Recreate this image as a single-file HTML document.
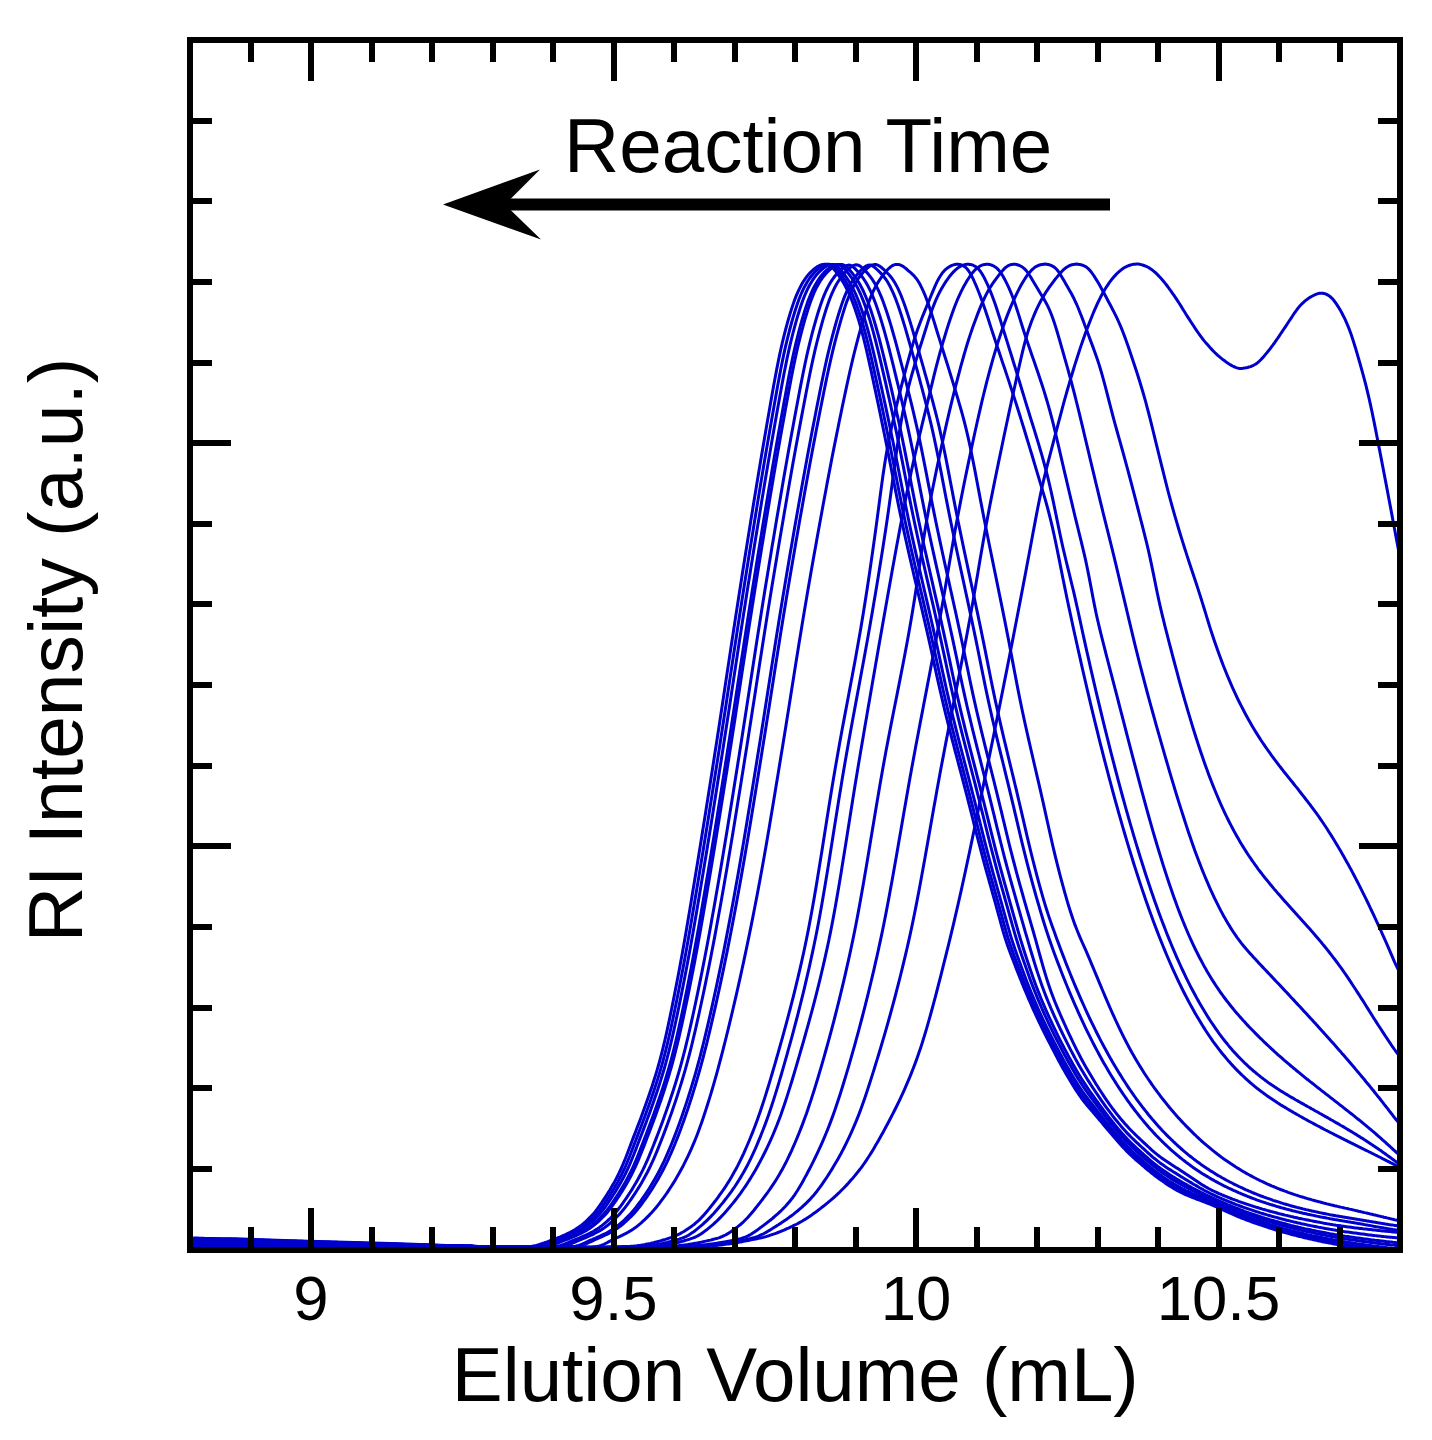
<!DOCTYPE html>
<html lang="en"><head><meta charset="utf-8"><title>GPC traces</title>
<style>html,body{margin:0;padding:0;background:#fff}body{width:1432px;height:1440px;overflow:hidden;font-family:"Liberation Sans",sans-serif}</style></head>
<body>
<svg width="1432" height="1440" viewBox="0 0 1432 1440" style="display:block">
<rect width="100%" height="100%" fill="#fff"/>
<defs><clipPath id="c"><rect x="193" y="43" width="1204" height="1204.5"/></clipPath></defs>
<g clip-path="url(#c)" fill="none" stroke="#0000cd" stroke-width="3" stroke-linejoin="round">
<path d="M193,1237.3 L236,1237.3 L300,1239.5 L400,1242.3 L460,1244.6 L545,1247 L193,1247 Z" fill="#0000cd" stroke="none"/>
<path d="M193.0,1238.0 L194.5,1238.1 L196.0,1238.1 L197.5,1238.1 L199.0,1238.2 L200.5,1238.2 L202.0,1238.3 L203.5,1238.3 L205.0,1238.4 L206.5,1238.4 L208.0,1238.5 L209.5,1238.5 L211.0,1238.5 L212.5,1238.6 L214.0,1238.6 L215.5,1238.7 L217.0,1238.7 L218.5,1238.8 L220.0,1238.8 L221.5,1238.9 L223.0,1238.9 L224.5,1239.0 L226.0,1239.0 L227.5,1239.0 L229.0,1239.1 L230.5,1239.1 L232.0,1239.2 L233.5,1239.2 L235.0,1239.3 L236.5,1239.3 L238.0,1239.4 L239.5,1239.4 L241.0,1239.5 L242.5,1239.5 L244.0,1239.5 L245.5,1239.6 L247.0,1239.6 L248.5,1239.7 L250.0,1239.7 L251.5,1239.8 L253.0,1239.8 L254.5,1239.9 L256.0,1239.9 L257.5,1240.0 L259.0,1240.0 L260.5,1240.0 L262.0,1240.1 L263.5,1240.1 L265.0,1240.2 L266.5,1240.2 L268.0,1240.3 L269.5,1240.3 L271.0,1240.4 L272.5,1240.4 L274.0,1240.5 L275.5,1240.5 L277.0,1240.5 L278.5,1240.6 L280.0,1240.6 L281.5,1240.7 L283.0,1240.7 L284.5,1240.8 L286.0,1240.8 L287.5,1240.9 L289.0,1240.9 L290.5,1240.9 L292.0,1241.0 L293.5,1241.0 L295.0,1241.1 L296.5,1241.1 L298.0,1241.2 L299.5,1241.2 L301.0,1241.3 L302.5,1241.3 L304.0,1241.4 L305.5,1241.4 L307.0,1241.4 L308.5,1241.5 L310.0,1241.5 L311.5,1241.6 L313.0,1241.6 L314.5,1241.7 L316.0,1241.7 L317.5,1241.8 L319.0,1241.8 L320.5,1241.8 L322.0,1241.9 L323.5,1241.9 L325.0,1242.0 L326.5,1242.0 L328.0,1242.1 L329.5,1242.1 L331.0,1242.2 L332.5,1242.2 L334.0,1242.3 L335.5,1242.3 L337.0,1242.3 L338.5,1242.4 L340.0,1242.4 L341.5,1242.5 L343.0,1242.5 L344.5,1242.6 L346.0,1242.6 L347.5,1242.7 L349.0,1242.7 L350.5,1242.7 L352.0,1242.8 L353.5,1242.8 L355.0,1242.9 L356.5,1242.9 L358.0,1243.0 L359.5,1243.0 L361.0,1243.1 L362.5,1243.1 L364.0,1243.2 L365.5,1243.2 L367.0,1243.2 L368.5,1243.3 L370.0,1243.3 L371.5,1243.4 L373.0,1243.4 L374.5,1243.5 L376.0,1243.5 L377.5,1243.6 L379.0,1243.6 L380.5,1243.6 L382.0,1243.7 L383.5,1243.7 L385.0,1243.8 L386.5,1243.8 L388.0,1243.9 L389.5,1243.9 L391.0,1244.0 L392.5,1244.0 L394.0,1244.0 L395.5,1244.1 L397.0,1244.1 L398.5,1244.2 L400.0,1244.2 L401.5,1244.3 L403.0,1244.3 L404.5,1244.4 L406.0,1244.4 L407.5,1244.4 L409.0,1244.5 L410.5,1244.5 L412.0,1244.6 L413.5,1244.6 L415.0,1244.7 L416.5,1244.7 L418.0,1244.8 L419.5,1244.8 L421.0,1244.8 L422.5,1244.9 L424.0,1244.9 L425.5,1245.0 L427.0,1245.0 L428.5,1245.1 L430.0,1245.1 L431.5,1245.2 L433.0,1245.2 L434.5,1245.2 L436.0,1245.3 L437.5,1245.3 L439.0,1245.4 L440.5,1245.4 L442.0,1245.5 L443.5,1245.5 L445.0,1245.6 L446.5,1245.6 L448.0,1245.6 L449.5,1245.7 L451.0,1245.7 L452.5,1245.8 L454.0,1245.8 L455.5,1245.9 L457.0,1245.9 L458.5,1246.0 L460.0,1246.0 L461.5,1246.0 L463.0,1246.1 L464.5,1246.1 L466.0,1246.2 L467.5,1246.2 L469.0,1246.3 L470.5,1246.3 L472.0,1246.4 L473.5,1246.4 L475.0,1246.5 L476.5,1246.5 L478.0,1246.6 L479.5,1246.6 L481.0,1246.7 L482.5,1246.8 L484.0,1246.8 L485.5,1246.9 L487.0,1246.9 L488.5,1247.0 L490.0,1247.0 L491.5,1247.1 L493.0,1247.1 L494.5,1247.2 L496.0,1247.2 L497.5,1247.2 L499.0,1247.2 L500.5,1247.3 L502.0,1247.3 L503.5,1247.3 L505.0,1247.3 L506.5,1247.3 L508.0,1247.3 L509.5,1247.3 L511.0,1247.2 L512.5,1247.2 L514.0,1247.2 L515.5,1247.2 L517.0,1247.1 L518.5,1247.1 L520.0,1247.0 L521.5,1247.0 L523.0,1246.9 L524.5,1246.9 L526.0,1246.8 L527.5,1246.7 L529.0,1246.6 L530.5,1246.5 L532.0,1246.3 L533.5,1246.0 L535.0,1245.7 L536.5,1245.4 L538.0,1244.9 L539.5,1244.5 L541.0,1244.0 L542.5,1243.5 L544.0,1243.0 L545.5,1242.4 L547.0,1241.9 L548.5,1241.3 L550.0,1240.7 L551.5,1240.2 L553.0,1239.6 L554.5,1239.1 L556.0,1238.5 L557.5,1238.0 L559.0,1237.4 L560.5,1236.8 L562.0,1236.1 L563.5,1235.5 L565.0,1234.8 L566.5,1234.1 L568.0,1233.4 L569.5,1232.7 L571.0,1231.9 L572.5,1231.1 L574.0,1230.2 L575.5,1229.3 L577.0,1228.3 L578.5,1227.3 L580.0,1226.2 L581.5,1225.1 L583.0,1223.9 L584.5,1222.6 L586.0,1221.3 L587.5,1219.9 L589.0,1218.4 L590.5,1216.9 L592.0,1215.3 L593.5,1213.7 L595.0,1211.9 L596.5,1210.0 L598.0,1207.9 L599.5,1205.8 L601.0,1203.7 L602.5,1201.4 L604.0,1199.2 L605.5,1196.9 L607.0,1194.5 L608.5,1192.1 L610.0,1189.7 L611.5,1187.1 L613.0,1184.5 L614.5,1181.9 L616.0,1179.1 L617.5,1176.2 L619.0,1173.2 L620.5,1170.0 L622.0,1166.7 L623.5,1163.2 L625.0,1159.5 L626.5,1155.7 L628.0,1151.8 L629.5,1147.8 L631.0,1143.8 L632.5,1139.8 L634.0,1135.9 L635.5,1132.0 L637.0,1128.0 L638.5,1124.1 L640.0,1120.2 L641.5,1116.2 L643.0,1112.1 L644.5,1108.0 L646.0,1103.8 L647.5,1099.6 L649.0,1095.2 L650.5,1090.8 L652.0,1086.4 L653.5,1081.8 L655.0,1077.0 L656.5,1072.1 L658.0,1067.0 L659.5,1061.6 L661.0,1056.0 L662.5,1050.1 L664.0,1043.9 L665.5,1037.5 L667.0,1030.8 L668.5,1023.9 L670.0,1016.8 L671.5,1009.5 L673.0,1002.1 L674.5,994.5 L676.0,986.8 L677.5,979.1 L679.0,971.2 L680.5,963.1 L682.0,954.9 L683.5,946.5 L685.0,937.9 L686.5,929.2 L688.0,920.3 L689.5,911.4 L691.0,902.4 L692.5,893.3 L694.0,884.2 L695.5,875.1 L697.0,865.9 L698.5,856.7 L700.0,847.5 L701.5,838.2 L703.0,828.8 L704.5,819.5 L706.0,810.0 L707.5,800.5 L709.0,791.0 L710.5,781.5 L712.0,771.9 L713.5,762.3 L715.0,752.6 L716.5,742.9 L718.0,733.2 L719.5,723.4 L721.0,713.6 L722.5,703.7 L724.0,693.7 L725.5,683.8 L727.0,673.8 L728.5,663.9 L730.0,653.9 L731.5,644.0 L733.0,634.2 L734.5,624.4 L736.0,614.6 L737.5,604.9 L739.0,595.3 L740.5,585.7 L742.0,576.1 L743.5,566.6 L745.0,557.1 L746.5,547.7 L748.0,538.3 L749.5,528.9 L751.0,519.6 L752.5,510.4 L754.0,501.1 L755.5,491.9 L757.0,482.8 L758.5,473.7 L760.0,464.7 L761.5,455.7 L763.0,446.9 L764.5,438.2 L766.0,429.5 L767.5,420.8 L769.0,412.2 L770.5,403.6 L772.0,395.0 L773.5,386.6 L775.0,378.4 L776.5,370.4 L778.0,362.7 L779.5,355.4 L781.0,348.5 L782.5,342.0 L784.0,335.8 L785.5,330.0 L787.0,324.4 L788.5,319.0 L790.0,313.9 L791.5,309.1 L793.0,304.6 L794.5,300.3 L796.0,296.4 L797.5,292.8 L799.0,289.6 L800.5,286.6 L802.0,283.8 L803.5,281.3 L805.0,279.1 L806.5,277.0 L808.0,275.1 L809.5,273.4 L811.0,271.9 L812.5,270.5 L814.0,269.2 L815.5,268.0 L817.0,266.9 L818.5,266.0 L820.0,265.3 L821.5,264.7 L823.0,264.4 L824.5,264.2 L826.0,264.3 L827.5,264.5 L829.0,265.1 L830.5,266.0 L832.0,267.2 L833.5,268.7 L835.0,270.5 L836.5,272.4 L838.0,274.5 L839.5,276.7 L841.0,278.9 L842.5,281.3 L844.0,283.8 L845.5,286.5 L847.0,289.4 L848.5,292.5 L850.0,295.9 L851.5,299.5 L853.0,303.4 L854.5,307.5 L856.0,311.9 L857.5,316.5 L859.0,321.4 L860.5,326.6 L862.0,332.0 L863.5,337.8 L865.0,343.9 L866.5,350.2 L868.0,356.8 L869.5,363.6 L871.0,370.4 L872.5,377.4 L874.0,384.4 L875.5,391.4 L877.0,398.5 L878.5,405.6 L880.0,412.8 L881.5,420.1 L883.0,427.4 L884.5,434.8 L886.0,442.3 L887.5,449.8 L889.0,457.4 L890.5,465.0 L892.0,472.7 L893.5,480.3 L895.0,487.9 L896.5,495.4 L898.0,502.9 L899.5,510.2 L901.0,517.4 L902.5,524.4 L904.0,531.4 L905.5,538.2 L907.0,544.9 L908.5,551.6 L910.0,558.1 L911.5,564.7 L913.0,571.1 L914.5,577.6 L916.0,584.0 L917.5,590.4 L919.0,596.8 L920.5,603.2 L922.0,609.6 L923.5,616.1 L925.0,622.6 L926.5,629.1 L928.0,635.7 L929.5,642.4 L931.0,649.2 L932.5,656.0 L934.0,662.9 L935.5,669.8 L937.0,676.6 L938.5,683.3 L940.0,690.0 L941.5,696.5 L943.0,702.9 L944.5,709.2 L946.0,715.3 L947.5,721.3 L949.0,727.3 L950.5,733.2 L952.0,739.0 L953.5,744.7 L955.0,750.5 L956.5,756.2 L958.0,761.9 L959.5,767.5 L961.0,773.2 L962.5,778.9 L964.0,784.6 L965.5,790.4 L967.0,796.2 L968.5,802.1 L970.0,808.0 L971.5,813.9 L973.0,819.8 L974.5,825.8 L976.0,831.7 L977.5,837.6 L979.0,843.4 L980.5,849.2 L982.0,854.9 L983.5,860.5 L985.0,866.1 L986.5,871.5 L988.0,876.9 L989.5,882.3 L991.0,887.6 L992.5,893.0 L994.0,898.3 L995.5,903.7 L997.0,909.2 L998.5,914.7 L1000.0,920.2 L1001.5,925.7 L1003.0,931.0 L1004.5,936.0 L1006.0,940.8 L1007.5,945.2 L1009.0,949.5 L1010.5,953.5 L1012.0,957.4 L1013.5,961.3 L1015.0,965.2 L1016.5,969.1 L1018.0,972.9 L1019.5,976.8 L1021.0,980.5 L1022.5,984.2 L1024.0,987.9 L1025.5,991.5 L1027.0,995.0 L1028.5,998.6 L1030.0,1002.0 L1031.5,1005.4 L1033.0,1008.8 L1034.5,1012.1 L1036.0,1015.4 L1037.5,1018.6 L1039.0,1021.8 L1040.5,1024.9 L1042.0,1028.0 L1043.5,1031.0 L1045.0,1034.0 L1046.5,1037.0 L1048.0,1040.0 L1049.5,1042.9 L1051.0,1045.8 L1052.5,1048.8 L1054.0,1051.6 L1055.5,1054.5 L1057.0,1057.3 L1058.5,1060.2 L1060.0,1062.9 L1061.5,1065.7 L1063.0,1068.4 L1064.5,1071.1 L1066.0,1073.7 L1067.5,1076.3 L1069.0,1078.8 L1070.5,1081.3 L1072.0,1083.8 L1073.5,1086.2 L1075.0,1088.6 L1076.5,1090.9 L1078.0,1093.1 L1079.5,1095.3 L1081.0,1097.5 L1082.5,1099.5 L1084.0,1101.5 L1085.5,1103.4 L1087.0,1105.3 L1088.5,1107.1 L1090.0,1108.8 L1091.5,1110.6 L1093.0,1112.3 L1094.5,1114.0 L1096.0,1115.8 L1097.5,1117.6 L1099.0,1119.4 L1100.5,1121.1 L1102.0,1122.9 L1103.5,1124.7 L1105.0,1126.5 L1106.5,1128.3 L1108.0,1130.1 L1109.5,1131.8 L1111.0,1133.6 L1112.5,1135.3 L1114.0,1137.1 L1115.5,1138.8 L1117.0,1140.5 L1118.5,1142.2 L1120.0,1143.9 L1121.5,1145.6 L1123.0,1147.2 L1124.5,1148.8 L1126.0,1150.4 L1127.5,1151.9 L1129.0,1153.4 L1130.5,1154.8 L1132.0,1156.2 L1133.5,1157.6 L1135.0,1159.0 L1136.5,1160.3 L1138.0,1161.6 L1139.5,1162.9 L1141.0,1164.2 L1142.5,1165.5 L1144.0,1166.7 L1145.5,1168.0 L1147.0,1169.3 L1148.5,1170.5 L1150.0,1171.7 L1151.5,1173.0 L1153.0,1174.1 L1154.5,1175.3 L1156.0,1176.5 L1157.5,1177.6 L1159.0,1178.7 L1160.5,1179.7 L1162.0,1180.8 L1163.5,1181.8 L1165.0,1182.9 L1166.5,1183.9 L1168.0,1184.9 L1169.5,1185.9 L1171.0,1186.8 L1172.5,1187.7 L1174.0,1188.6 L1175.5,1189.5 L1177.0,1190.4 L1178.5,1191.2 L1180.0,1191.9 L1181.5,1192.7 L1183.0,1193.4 L1184.5,1194.1 L1186.0,1194.8 L1187.5,1195.4 L1189.0,1196.0 L1190.5,1196.7 L1192.0,1197.3 L1193.5,1197.9 L1195.0,1198.4 L1196.5,1199.0 L1198.0,1199.6 L1199.5,1200.1 L1201.0,1200.7 L1202.5,1201.3 L1204.0,1201.8 L1205.5,1202.4 L1207.0,1203.0 L1208.5,1203.6 L1210.0,1204.2 L1211.5,1204.8 L1213.0,1205.4 L1214.5,1206.1 L1216.0,1206.7 L1217.5,1207.4 L1219.0,1208.1 L1220.5,1208.7 L1222.0,1209.4 L1223.5,1210.1 L1225.0,1210.8 L1226.5,1211.5 L1228.0,1212.1 L1229.5,1212.8 L1231.0,1213.5 L1232.5,1214.2 L1234.0,1214.8 L1235.5,1215.5 L1237.0,1216.1 L1238.5,1216.8 L1240.0,1217.4 L1241.5,1218.0 L1243.0,1218.6 L1244.5,1219.2 L1246.0,1219.8 L1247.5,1220.3 L1249.0,1220.9 L1250.5,1221.4 L1252.0,1222.0 L1253.5,1222.5 L1255.0,1223.1 L1256.5,1223.6 L1258.0,1224.1 L1259.5,1224.7 L1261.0,1225.2 L1262.5,1225.7 L1264.0,1226.2 L1265.5,1226.7 L1267.0,1227.2 L1268.5,1227.7 L1270.0,1228.1 L1271.5,1228.6 L1273.0,1229.1 L1274.5,1229.5 L1276.0,1230.0 L1277.5,1230.4 L1279.0,1230.9 L1280.5,1231.3 L1282.0,1231.8 L1283.5,1232.2 L1285.0,1232.6 L1286.5,1233.0 L1288.0,1233.4 L1289.5,1233.8 L1291.0,1234.3 L1292.5,1234.7 L1294.0,1235.0 L1295.5,1235.4 L1297.0,1235.8 L1298.5,1236.2 L1300.0,1236.6 L1301.5,1236.9 L1303.0,1237.3 L1304.5,1237.7 L1306.0,1238.0 L1307.5,1238.4 L1309.0,1238.7 L1310.5,1239.1 L1312.0,1239.4 L1313.5,1239.7 L1315.0,1240.1 L1316.5,1240.4 L1318.0,1240.7 L1319.5,1241.0 L1321.0,1241.3 L1322.5,1241.7 L1324.0,1242.0 L1325.5,1242.3 L1327.0,1242.6 L1328.5,1242.9 L1330.0,1243.1 L1331.5,1243.4 L1333.0,1243.7 L1334.5,1244.0 L1336.0,1244.3 L1337.5,1244.5 L1339.0,1244.8 L1340.5,1245.1 L1342.0,1245.3 L1343.5,1245.6 L1345.0,1245.9 L1346.5,1246.1 L1348.0,1246.4 L1349.5,1246.6 L1351.0,1246.9 L1352.5,1247.1 L1354.0,1247.3 L1355.5,1247.6 L1357.0,1247.8 L1358.5,1248.0 L1360.0,1248.3 L1361.5,1248.5 L1363.0,1248.7 L1364.5,1248.9 L1366.0,1249.1 L1367.5,1249.4 L1369.0,1249.6 L1370.5,1249.8 L1372.0,1250.0 L1373.5,1250.2 L1375.0,1250.4 L1376.5,1250.6 L1378.0,1250.8 L1379.5,1251.0 L1381.0,1251.2 L1382.5,1251.4 L1384.0,1251.6 L1385.5,1251.8 L1387.0,1252.0 L1388.5,1252.2 L1390.0,1252.3 L1391.5,1252.5 L1393.0,1252.7 L1394.5,1252.9 L1396.0,1253.0 L1397.5,1253.2 L1399.0,1253.3 L1400.0,1253.4"/>
<path d="M193.0,1238.8 L194.5,1238.9 L196.0,1238.9 L197.5,1238.9 L199.0,1239.0 L200.5,1239.0 L202.0,1239.0 L203.5,1239.1 L205.0,1239.1 L206.5,1239.2 L208.0,1239.2 L209.5,1239.3 L211.0,1239.3 L212.5,1239.3 L214.0,1239.4 L215.5,1239.4 L217.0,1239.5 L218.5,1239.5 L220.0,1239.5 L221.5,1239.6 L223.0,1239.6 L224.5,1239.7 L226.0,1239.7 L227.5,1239.7 L229.0,1239.8 L230.5,1239.8 L232.0,1239.9 L233.5,1239.9 L235.0,1240.0 L236.5,1240.0 L238.0,1240.0 L239.5,1240.1 L241.0,1240.1 L242.5,1240.2 L244.0,1240.2 L245.5,1240.2 L247.0,1240.3 L248.5,1240.3 L250.0,1240.4 L251.5,1240.4 L253.0,1240.4 L254.5,1240.5 L256.0,1240.5 L257.5,1240.6 L259.0,1240.6 L260.5,1240.7 L262.0,1240.7 L263.5,1240.7 L265.0,1240.8 L266.5,1240.8 L268.0,1240.9 L269.5,1240.9 L271.0,1240.9 L272.5,1241.0 L274.0,1241.0 L275.5,1241.1 L277.0,1241.1 L278.5,1241.1 L280.0,1241.2 L281.5,1241.2 L283.0,1241.3 L284.5,1241.3 L286.0,1241.3 L287.5,1241.4 L289.0,1241.4 L290.5,1241.5 L292.0,1241.5 L293.5,1241.6 L295.0,1241.6 L296.5,1241.6 L298.0,1241.7 L299.5,1241.7 L301.0,1241.8 L302.5,1241.8 L304.0,1241.8 L305.5,1241.9 L307.0,1241.9 L308.5,1242.0 L310.0,1242.0 L311.5,1242.0 L313.0,1242.1 L314.5,1242.1 L316.0,1242.2 L317.5,1242.2 L319.0,1242.2 L320.5,1242.3 L322.0,1242.3 L323.5,1242.4 L325.0,1242.4 L326.5,1242.4 L328.0,1242.5 L329.5,1242.5 L331.0,1242.6 L332.5,1242.6 L334.0,1242.6 L335.5,1242.7 L337.0,1242.7 L338.5,1242.8 L340.0,1242.8 L341.5,1242.9 L343.0,1242.9 L344.5,1242.9 L346.0,1243.0 L347.5,1243.0 L349.0,1243.1 L350.5,1243.1 L352.0,1243.1 L353.5,1243.2 L355.0,1243.2 L356.5,1243.3 L358.0,1243.3 L359.5,1243.3 L361.0,1243.4 L362.5,1243.4 L364.0,1243.5 L365.5,1243.5 L367.0,1243.5 L368.5,1243.6 L370.0,1243.6 L371.5,1243.7 L373.0,1243.7 L374.5,1243.7 L376.0,1243.8 L377.5,1243.8 L379.0,1243.9 L380.5,1243.9 L382.0,1243.9 L383.5,1244.0 L385.0,1244.0 L386.5,1244.1 L388.0,1244.1 L389.5,1244.1 L391.0,1244.2 L392.5,1244.2 L394.0,1244.3 L395.5,1244.3 L397.0,1244.3 L398.5,1244.4 L400.0,1244.4 L401.5,1244.5 L403.0,1244.5 L404.5,1244.5 L406.0,1244.6 L407.5,1244.6 L409.0,1244.7 L410.5,1244.7 L412.0,1244.7 L413.5,1244.8 L415.0,1244.8 L416.5,1244.9 L418.0,1244.9 L419.5,1244.9 L421.0,1245.0 L422.5,1245.0 L424.0,1245.1 L425.5,1245.1 L427.0,1245.1 L428.5,1245.2 L430.0,1245.2 L431.5,1245.3 L433.0,1245.3 L434.5,1245.4 L436.0,1245.4 L437.5,1245.4 L439.0,1245.5 L440.5,1245.5 L442.0,1245.6 L443.5,1245.6 L445.0,1245.6 L446.5,1245.7 L448.0,1245.7 L449.5,1245.8 L451.0,1245.8 L452.5,1245.8 L454.0,1245.9 L455.5,1245.9 L457.0,1246.0 L458.5,1246.0 L460.0,1246.0 L461.5,1246.1 L463.0,1246.1 L464.5,1246.2 L466.0,1246.2 L467.5,1246.2 L469.0,1246.3 L470.5,1246.3 L472.0,1246.4 L473.5,1246.4 L475.0,1246.5 L476.5,1246.5 L478.0,1246.6 L479.5,1246.6 L481.0,1246.7 L482.5,1246.7 L484.0,1246.8 L485.5,1246.8 L487.0,1246.9 L488.5,1246.9 L490.0,1247.0 L491.5,1247.0 L493.0,1247.0 L494.5,1247.1 L496.0,1247.1 L497.5,1247.2 L499.0,1247.2 L500.5,1247.2 L502.0,1247.2 L503.5,1247.3 L505.0,1247.3 L506.5,1247.3 L508.0,1247.3 L509.5,1247.3 L511.0,1247.3 L512.5,1247.3 L514.0,1247.3 L515.5,1247.2 L517.0,1247.2 L518.5,1247.2 L520.0,1247.1 L521.5,1247.1 L523.0,1247.1 L524.5,1247.0 L526.0,1247.0 L527.5,1246.9 L529.0,1246.8 L530.5,1246.8 L532.0,1246.7 L533.5,1246.5 L535.0,1246.4 L536.5,1246.1 L538.0,1245.9 L539.5,1245.5 L541.0,1245.1 L542.5,1244.7 L544.0,1244.2 L545.5,1243.7 L547.0,1243.1 L548.5,1242.6 L550.0,1242.0 L551.5,1241.4 L553.0,1240.9 L554.5,1240.3 L556.0,1239.7 L557.5,1239.2 L559.0,1238.6 L560.5,1238.1 L562.0,1237.5 L563.5,1236.9 L565.0,1236.2 L566.5,1235.6 L568.0,1234.9 L569.5,1234.2 L571.0,1233.5 L572.5,1232.8 L574.0,1232.0 L575.5,1231.2 L577.0,1230.3 L578.5,1229.4 L580.0,1228.4 L581.5,1227.4 L583.0,1226.3 L584.5,1225.2 L586.0,1224.0 L587.5,1222.7 L589.0,1221.4 L590.5,1220.0 L592.0,1218.6 L593.5,1217.1 L595.0,1215.5 L596.5,1213.8 L598.0,1212.0 L599.5,1210.2 L601.0,1208.2 L602.5,1206.1 L604.0,1204.0 L605.5,1201.8 L607.0,1199.5 L608.5,1197.2 L610.0,1194.9 L611.5,1192.5 L613.0,1190.1 L614.5,1187.6 L616.0,1185.0 L617.5,1182.4 L619.0,1179.6 L620.5,1176.8 L622.0,1173.8 L623.5,1170.7 L625.0,1167.5 L626.5,1164.0 L628.0,1160.4 L629.5,1156.7 L631.0,1152.8 L632.5,1148.9 L634.0,1144.9 L635.5,1141.0 L637.0,1137.1 L638.5,1133.1 L640.0,1129.2 L641.5,1125.3 L643.0,1121.3 L644.5,1117.3 L646.0,1113.3 L647.5,1109.1 L649.0,1104.9 L650.5,1100.7 L652.0,1096.3 L653.5,1091.9 L655.0,1087.4 L656.5,1082.9 L658.0,1078.1 L659.5,1073.2 L661.0,1068.1 L662.5,1062.8 L664.0,1057.2 L665.5,1051.4 L667.0,1045.3 L668.5,1038.9 L670.0,1032.3 L671.5,1025.5 L673.0,1018.5 L674.5,1011.3 L676.0,1004.0 L677.5,996.5 L679.0,989.0 L680.5,981.3 L682.0,973.5 L683.5,965.6 L685.0,957.5 L686.5,949.2 L688.0,940.8 L689.5,932.2 L691.0,923.5 L692.5,914.6 L694.0,905.7 L695.5,896.7 L697.0,887.7 L698.5,878.7 L700.0,869.6 L701.5,860.5 L703.0,851.3 L704.5,842.1 L706.0,832.8 L707.5,823.4 L709.0,814.0 L710.5,804.6 L712.0,795.1 L713.5,785.6 L715.0,776.1 L716.5,766.5 L718.0,756.9 L719.5,747.2 L721.0,737.5 L722.5,727.8 L724.0,718.0 L725.5,708.2 L727.0,698.3 L728.5,688.3 L730.0,678.4 L731.5,668.5 L733.0,658.6 L734.5,648.7 L736.0,638.9 L737.5,629.1 L739.0,619.3 L740.5,609.7 L742.0,600.0 L743.5,590.5 L745.0,580.9 L746.5,571.4 L748.0,562.0 L749.5,552.6 L751.0,543.2 L752.5,533.9 L754.0,524.7 L755.5,515.4 L757.0,506.3 L758.5,497.1 L760.0,488.0 L761.5,478.9 L763.0,469.9 L764.5,461.0 L766.0,452.2 L767.5,443.5 L769.0,434.9 L770.5,426.3 L772.0,417.7 L773.5,409.2 L775.0,400.7 L776.5,392.2 L778.0,383.9 L779.5,375.9 L781.0,368.0 L782.5,360.6 L784.0,353.4 L785.5,346.7 L787.0,340.3 L788.5,334.3 L790.0,328.5 L791.5,323.0 L793.0,317.7 L794.5,312.7 L796.0,307.9 L797.5,303.5 L799.0,299.3 L800.5,295.5 L802.0,292.0 L803.5,288.8 L805.0,285.9 L806.5,283.2 L808.0,280.8 L809.5,278.5 L811.0,276.5 L812.5,274.7 L814.0,273.0 L815.5,271.5 L817.0,270.1 L818.5,268.8 L820.0,267.7 L821.5,266.6 L823.0,265.8 L824.5,265.1 L826.0,264.6 L827.5,264.3 L829.0,264.3 L830.5,264.6 L832.0,265.1 L833.5,266.0 L835.0,267.3 L836.5,268.8 L838.0,270.6 L839.5,272.5 L841.0,274.5 L842.5,276.6 L844.0,278.9 L845.5,281.3 L847.0,283.8 L848.5,286.4 L850.0,289.3 L851.5,292.5 L853.0,295.8 L854.5,299.5 L856.0,303.4 L857.5,307.5 L859.0,311.9 L860.5,316.5 L862.0,321.4 L863.5,326.5 L865.0,332.0 L866.5,337.7 L868.0,343.7 L869.5,350.0 L871.0,356.5 L872.5,363.1 L874.0,369.9 L875.5,376.7 L877.0,383.5 L878.5,390.5 L880.0,397.4 L881.5,404.4 L883.0,411.5 L884.5,418.7 L886.0,425.9 L887.5,433.2 L889.0,440.6 L890.5,448.1 L892.0,455.7 L893.5,463.3 L895.0,471.0 L896.5,478.6 L898.0,486.2 L899.5,493.8 L901.0,501.3 L902.5,508.6 L904.0,515.9 L905.5,523.0 L907.0,529.9 L908.5,536.8 L910.0,543.6 L911.5,550.3 L913.0,556.9 L914.5,563.5 L916.0,570.0 L917.5,576.4 L919.0,582.9 L920.5,589.3 L922.0,595.7 L923.5,602.2 L925.0,608.6 L926.5,615.1 L928.0,621.7 L929.5,628.2 L931.0,634.9 L932.5,641.6 L934.0,648.4 L935.5,655.3 L937.0,662.2 L938.5,669.1 L940.0,676.0 L941.5,682.8 L943.0,689.5 L944.5,696.0 L946.0,702.4 L947.5,708.7 L949.0,714.9 L950.5,721.0 L952.0,727.0 L953.5,732.9 L955.0,738.7 L956.5,744.5 L958.0,750.3 L959.5,756.0 L961.0,761.7 L962.5,767.4 L964.0,773.2 L965.5,778.9 L967.0,784.6 L968.5,790.4 L970.0,796.3 L971.5,802.1 L973.0,808.1 L974.5,814.0 L976.0,820.0 L977.5,826.0 L979.0,831.9 L980.5,837.8 L982.0,843.7 L983.5,849.5 L985.0,855.2 L986.5,860.9 L988.0,866.4 L989.5,871.9 L991.0,877.3 L992.5,882.7 L994.0,888.0 L995.5,893.3 L997.0,898.7 L998.5,904.1 L1000.0,909.5 L1001.5,915.0 L1003.0,920.5 L1004.5,925.9 L1006.0,931.2 L1007.5,936.2 L1009.0,941.0 L1010.5,945.5 L1012.0,949.8 L1013.5,954.0 L1015.0,958.0 L1016.5,962.0 L1018.0,966.0 L1019.5,970.0 L1021.0,973.9 L1022.5,977.8 L1024.0,981.6 L1025.5,985.4 L1027.0,989.1 L1028.5,992.7 L1030.0,996.3 L1031.5,999.8 L1033.0,1003.3 L1034.5,1006.7 L1036.0,1010.1 L1037.5,1013.4 L1039.0,1016.7 L1040.5,1019.9 L1042.0,1023.1 L1043.5,1026.2 L1045.0,1029.2 L1046.5,1032.3 L1048.0,1035.3 L1049.5,1038.2 L1051.0,1041.2 L1052.5,1044.2 L1054.0,1047.1 L1055.5,1050.0 L1057.0,1052.8 L1058.5,1055.7 L1060.0,1058.5 L1061.5,1061.3 L1063.0,1064.0 L1064.5,1066.7 L1066.0,1069.4 L1067.5,1072.0 L1069.0,1074.6 L1070.5,1077.2 L1072.0,1079.7 L1073.5,1082.1 L1075.0,1084.5 L1076.5,1086.9 L1078.0,1089.2 L1079.5,1091.4 L1081.0,1093.6 L1082.5,1095.8 L1084.0,1097.8 L1085.5,1099.8 L1087.0,1101.7 L1088.5,1103.6 L1090.0,1105.4 L1091.5,1107.3 L1093.0,1109.1 L1094.5,1110.9 L1096.0,1112.7 L1097.5,1114.5 L1099.0,1116.4 L1100.5,1118.2 L1102.0,1120.1 L1103.5,1121.9 L1105.0,1123.7 L1106.5,1125.6 L1108.0,1127.4 L1109.5,1129.2 L1111.0,1130.9 L1112.5,1132.7 L1114.0,1134.5 L1115.5,1136.2 L1117.0,1138.0 L1118.5,1139.7 L1120.0,1141.4 L1121.5,1143.1 L1123.0,1144.7 L1124.5,1146.3 L1126.0,1147.9 L1127.5,1149.4 L1129.0,1150.9 L1130.5,1152.4 L1132.0,1153.8 L1133.5,1155.2 L1135.0,1156.6 L1136.5,1157.9 L1138.0,1159.2 L1139.5,1160.5 L1141.0,1161.8 L1142.5,1163.1 L1144.0,1164.4 L1145.5,1165.7 L1147.0,1167.0 L1148.5,1168.2 L1150.0,1169.5 L1151.5,1170.7 L1153.0,1171.9 L1154.5,1173.1 L1156.0,1174.2 L1157.5,1175.4 L1159.0,1176.5 L1160.5,1177.5 L1162.0,1178.6 L1163.5,1179.6 L1165.0,1180.7 L1166.5,1181.7 L1168.0,1182.7 L1169.5,1183.7 L1171.0,1184.6 L1172.5,1185.5 L1174.0,1186.4 L1175.5,1187.3 L1177.0,1188.2 L1178.5,1189.0 L1180.0,1189.8 L1181.5,1190.6 L1183.0,1191.3 L1184.5,1192.0 L1186.0,1192.7 L1187.5,1193.4 L1189.0,1194.1 L1190.5,1194.8 L1192.0,1195.4 L1193.5,1196.0 L1195.0,1196.6 L1196.5,1197.3 L1198.0,1197.9 L1199.5,1198.5 L1201.0,1199.1 L1202.5,1199.7 L1204.0,1200.3 L1205.5,1200.9 L1207.0,1201.5 L1208.5,1202.1 L1210.0,1202.7 L1211.5,1203.4 L1213.0,1204.0 L1214.5,1204.7 L1216.0,1205.3 L1217.5,1206.0 L1219.0,1206.7 L1220.5,1207.3 L1222.0,1208.0 L1223.5,1208.7 L1225.0,1209.4 L1226.5,1210.0 L1228.0,1210.7 L1229.5,1211.4 L1231.0,1212.0 L1232.5,1212.7 L1234.0,1213.3 L1235.5,1214.0 L1237.0,1214.6 L1238.5,1215.2 L1240.0,1215.9 L1241.5,1216.5 L1243.0,1217.0 L1244.5,1217.6 L1246.0,1218.2 L1247.5,1218.8 L1249.0,1219.3 L1250.5,1219.9 L1252.0,1220.4 L1253.5,1221.0 L1255.0,1221.5 L1256.5,1222.0 L1258.0,1222.5 L1259.5,1223.0 L1261.0,1223.6 L1262.5,1224.1 L1264.0,1224.6 L1265.5,1225.0 L1267.0,1225.5 L1268.5,1226.0 L1270.0,1226.5 L1271.5,1227.0 L1273.0,1227.4 L1274.5,1227.9 L1276.0,1228.3 L1277.5,1228.8 L1279.0,1229.2 L1280.5,1229.6 L1282.0,1230.1 L1283.5,1230.5 L1285.0,1230.9 L1286.5,1231.3 L1288.0,1231.7 L1289.5,1232.1 L1291.0,1232.5 L1292.5,1232.9 L1294.0,1233.3 L1295.5,1233.7 L1297.0,1234.1 L1298.5,1234.4 L1300.0,1234.8 L1301.5,1235.2 L1303.0,1235.5 L1304.5,1235.9 L1306.0,1236.2 L1307.5,1236.6 L1309.0,1236.9 L1310.5,1237.3 L1312.0,1237.6 L1313.5,1237.9 L1315.0,1238.3 L1316.5,1238.6 L1318.0,1238.9 L1319.5,1239.2 L1321.0,1239.5 L1322.5,1239.8 L1324.0,1240.1 L1325.5,1240.4 L1327.0,1240.7 L1328.5,1241.0 L1330.0,1241.3 L1331.5,1241.6 L1333.0,1241.9 L1334.5,1242.1 L1336.0,1242.4 L1337.5,1242.7 L1339.0,1242.9 L1340.5,1243.2 L1342.0,1243.5 L1343.5,1243.7 L1345.0,1244.0 L1346.5,1244.2 L1348.0,1244.5 L1349.5,1244.7 L1351.0,1244.9 L1352.5,1245.2 L1354.0,1245.4 L1355.5,1245.6 L1357.0,1245.9 L1358.5,1246.1 L1360.0,1246.3 L1361.5,1246.5 L1363.0,1246.8 L1364.5,1247.0 L1366.0,1247.2 L1367.5,1247.4 L1369.0,1247.6 L1370.5,1247.8 L1372.0,1248.0 L1373.5,1248.2 L1375.0,1248.4 L1376.5,1248.6 L1378.0,1248.8 L1379.5,1249.0 L1381.0,1249.2 L1382.5,1249.4 L1384.0,1249.6 L1385.5,1249.8 L1387.0,1250.0 L1388.5,1250.1 L1390.0,1250.3 L1391.5,1250.5 L1393.0,1250.7 L1394.5,1250.8 L1396.0,1251.0 L1397.5,1251.1 L1399.0,1251.3 L1400.0,1251.3"/>
<path d="M193.0,1239.6 L194.5,1239.7 L196.0,1239.7 L197.5,1239.7 L199.0,1239.7 L200.5,1239.8 L202.0,1239.8 L203.5,1239.9 L205.0,1239.9 L206.5,1239.9 L208.0,1240.0 L209.5,1240.0 L211.0,1240.0 L212.5,1240.1 L214.0,1240.1 L215.5,1240.1 L217.0,1240.2 L218.5,1240.2 L220.0,1240.3 L221.5,1240.3 L223.0,1240.3 L224.5,1240.4 L226.0,1240.4 L227.5,1240.4 L229.0,1240.5 L230.5,1240.5 L232.0,1240.5 L233.5,1240.6 L235.0,1240.6 L236.5,1240.7 L238.0,1240.7 L239.5,1240.7 L241.0,1240.8 L242.5,1240.8 L244.0,1240.8 L245.5,1240.9 L247.0,1240.9 L248.5,1240.9 L250.0,1241.0 L251.5,1241.0 L253.0,1241.1 L254.5,1241.1 L256.0,1241.1 L257.5,1241.2 L259.0,1241.2 L260.5,1241.2 L262.0,1241.3 L263.5,1241.3 L265.0,1241.3 L266.5,1241.4 L268.0,1241.4 L269.5,1241.5 L271.0,1241.5 L272.5,1241.5 L274.0,1241.6 L275.5,1241.6 L277.0,1241.6 L278.5,1241.7 L280.0,1241.7 L281.5,1241.7 L283.0,1241.8 L284.5,1241.8 L286.0,1241.9 L287.5,1241.9 L289.0,1241.9 L290.5,1242.0 L292.0,1242.0 L293.5,1242.0 L295.0,1242.1 L296.5,1242.1 L298.0,1242.1 L299.5,1242.2 L301.0,1242.2 L302.5,1242.3 L304.0,1242.3 L305.5,1242.3 L307.0,1242.4 L308.5,1242.4 L310.0,1242.4 L311.5,1242.5 L313.0,1242.5 L314.5,1242.5 L316.0,1242.6 L317.5,1242.6 L319.0,1242.7 L320.5,1242.7 L322.0,1242.7 L323.5,1242.8 L325.0,1242.8 L326.5,1242.8 L328.0,1242.9 L329.5,1242.9 L331.0,1242.9 L332.5,1243.0 L334.0,1243.0 L335.5,1243.1 L337.0,1243.1 L338.5,1243.1 L340.0,1243.2 L341.5,1243.2 L343.0,1243.2 L344.5,1243.3 L346.0,1243.3 L347.5,1243.3 L349.0,1243.4 L350.5,1243.4 L352.0,1243.5 L353.5,1243.5 L355.0,1243.5 L356.5,1243.6 L358.0,1243.6 L359.5,1243.6 L361.0,1243.7 L362.5,1243.7 L364.0,1243.7 L365.5,1243.8 L367.0,1243.8 L368.5,1243.9 L370.0,1243.9 L371.5,1243.9 L373.0,1244.0 L374.5,1244.0 L376.0,1244.0 L377.5,1244.1 L379.0,1244.1 L380.5,1244.1 L382.0,1244.2 L383.5,1244.2 L385.0,1244.2 L386.5,1244.3 L388.0,1244.3 L389.5,1244.4 L391.0,1244.4 L392.5,1244.4 L394.0,1244.5 L395.5,1244.5 L397.0,1244.5 L398.5,1244.6 L400.0,1244.6 L401.5,1244.6 L403.0,1244.7 L404.5,1244.7 L406.0,1244.8 L407.5,1244.8 L409.0,1244.8 L410.5,1244.9 L412.0,1244.9 L413.5,1244.9 L415.0,1245.0 L416.5,1245.0 L418.0,1245.0 L419.5,1245.1 L421.0,1245.1 L422.5,1245.2 L424.0,1245.2 L425.5,1245.2 L427.0,1245.3 L428.5,1245.3 L430.0,1245.3 L431.5,1245.4 L433.0,1245.4 L434.5,1245.4 L436.0,1245.5 L437.5,1245.5 L439.0,1245.6 L440.5,1245.6 L442.0,1245.6 L443.5,1245.7 L445.0,1245.7 L446.5,1245.7 L448.0,1245.8 L449.5,1245.8 L451.0,1245.8 L452.5,1245.9 L454.0,1245.9 L455.5,1246.0 L457.0,1246.0 L458.5,1246.0 L460.0,1246.1 L461.5,1246.1 L463.0,1246.1 L464.5,1246.2 L466.0,1246.2 L467.5,1246.2 L469.0,1246.3 L470.5,1246.3 L472.0,1246.4 L473.5,1246.4 L475.0,1246.4 L476.5,1246.5 L478.0,1246.5 L479.5,1246.6 L481.0,1246.6 L482.5,1246.7 L484.0,1246.7 L485.5,1246.8 L487.0,1246.8 L488.5,1246.9 L490.0,1246.9 L491.5,1246.9 L493.0,1247.0 L494.5,1247.0 L496.0,1247.1 L497.5,1247.1 L499.0,1247.1 L500.5,1247.2 L502.0,1247.2 L503.5,1247.2 L505.0,1247.2 L506.5,1247.3 L508.0,1247.3 L509.5,1247.3 L511.0,1247.3 L512.5,1247.3 L514.0,1247.3 L515.5,1247.3 L517.0,1247.3 L518.5,1247.2 L520.0,1247.2 L521.5,1247.2 L523.0,1247.2 L524.5,1247.1 L526.0,1247.1 L527.5,1247.0 L529.0,1247.0 L530.5,1246.9 L532.0,1246.9 L533.5,1246.8 L535.0,1246.7 L536.5,1246.6 L538.0,1246.5 L539.5,1246.3 L541.0,1246.0 L542.5,1245.7 L544.0,1245.3 L545.5,1244.8 L547.0,1244.4 L548.5,1243.8 L550.0,1243.3 L551.5,1242.7 L553.0,1242.2 L554.5,1241.6 L556.0,1241.0 L557.5,1240.4 L559.0,1239.9 L560.5,1239.3 L562.0,1238.7 L563.5,1238.2 L565.0,1237.6 L566.5,1237.0 L568.0,1236.4 L569.5,1235.7 L571.0,1235.0 L572.5,1234.4 L574.0,1233.6 L575.5,1232.9 L577.0,1232.1 L578.5,1231.3 L580.0,1230.4 L581.5,1229.5 L583.0,1228.6 L584.5,1227.5 L586.0,1226.5 L587.5,1225.3 L589.0,1224.1 L590.5,1222.9 L592.0,1221.6 L593.5,1220.2 L595.0,1218.8 L596.5,1217.3 L598.0,1215.7 L599.5,1214.1 L601.0,1212.3 L602.5,1210.5 L604.0,1208.5 L605.5,1206.5 L607.0,1204.3 L608.5,1202.2 L610.0,1199.9 L611.5,1197.7 L613.0,1195.3 L614.5,1193.0 L616.0,1190.6 L617.5,1188.1 L619.0,1185.6 L620.5,1183.0 L622.0,1180.3 L623.5,1177.5 L625.0,1174.6 L626.5,1171.5 L628.0,1168.3 L629.5,1165.0 L631.0,1161.5 L632.5,1157.8 L634.0,1154.0 L635.5,1150.2 L637.0,1146.2 L638.5,1142.3 L640.0,1138.4 L641.5,1134.5 L643.0,1130.6 L644.5,1126.6 L646.0,1122.7 L647.5,1118.6 L649.0,1114.6 L650.5,1110.4 L652.0,1106.2 L653.5,1102.0 L655.0,1097.6 L656.5,1093.2 L658.0,1088.7 L659.5,1084.1 L661.0,1079.4 L662.5,1074.5 L664.0,1069.5 L665.5,1064.2 L667.0,1058.7 L668.5,1052.9 L670.0,1046.9 L671.5,1040.6 L673.0,1034.1 L674.5,1027.4 L676.0,1020.5 L677.5,1013.4 L679.0,1006.2 L680.5,998.8 L682.0,991.4 L683.5,983.8 L685.0,976.1 L686.5,968.3 L688.0,960.3 L689.5,952.2 L691.0,943.9 L692.5,935.5 L694.0,926.9 L695.5,918.2 L697.0,909.4 L698.5,900.5 L700.0,891.6 L701.5,882.6 L703.0,873.6 L704.5,864.6 L706.0,855.4 L707.5,846.3 L709.0,837.0 L710.5,827.7 L712.0,818.4 L713.5,809.0 L715.0,799.6 L716.5,790.1 L718.0,780.6 L719.5,771.1 L721.0,761.5 L722.5,751.9 L724.0,742.3 L725.5,732.6 L727.0,722.8 L728.5,713.0 L730.0,703.2 L731.5,693.3 L733.0,683.4 L734.5,673.5 L736.0,663.6 L737.5,653.8 L739.0,643.9 L740.5,634.2 L742.0,624.4 L743.5,614.8 L745.0,605.2 L746.5,595.6 L748.0,586.1 L749.5,576.7 L751.0,567.2 L752.5,557.9 L754.0,548.6 L755.5,539.3 L757.0,530.1 L758.5,520.9 L760.0,511.8 L761.5,502.6 L763.0,493.6 L764.5,484.6 L766.0,475.6 L767.5,466.7 L769.0,457.9 L770.5,449.2 L772.0,440.6 L773.5,432.0 L775.0,423.5 L776.5,415.1 L778.0,406.6 L779.5,398.2 L781.0,389.9 L782.5,381.8 L784.0,373.8 L785.5,366.2 L787.0,358.8 L788.5,351.9 L790.0,345.2 L791.5,339.0 L793.0,333.0 L794.5,327.3 L796.0,321.9 L797.5,316.7 L799.0,311.7 L800.5,307.0 L802.0,302.6 L803.5,298.5 L805.0,294.8 L806.5,291.3 L808.0,288.2 L809.5,285.3 L811.0,282.7 L812.5,280.3 L814.0,278.1 L815.5,276.1 L817.0,274.3 L818.5,272.7 L820.0,271.2 L821.5,269.8 L823.0,268.5 L824.5,267.4 L826.0,266.4 L827.5,265.6 L829.0,264.9 L830.5,264.5 L832.0,264.4 L833.5,264.5 L835.0,265.0 L836.5,265.8 L838.0,267.0 L839.5,268.5 L841.0,270.2 L842.5,272.1 L844.0,274.0 L845.5,276.1 L847.0,278.3 L848.5,280.6 L850.0,283.1 L851.5,285.7 L853.0,288.5 L854.5,291.6 L856.0,294.9 L857.5,298.5 L859.0,302.4 L860.5,306.5 L862.0,310.8 L863.5,315.3 L865.0,320.2 L866.5,325.2 L868.0,330.5 L869.5,336.1 L871.0,342.0 L872.5,348.1 L874.0,354.4 L875.5,360.9 L877.0,367.5 L878.5,374.2 L880.0,381.0 L881.5,387.7 L883.0,394.5 L884.5,401.4 L886.0,408.4 L887.5,415.4 L889.0,422.5 L890.5,429.7 L892.0,437.0 L893.5,444.4 L895.0,451.9 L896.5,459.5 L898.0,467.1 L899.5,474.8 L901.0,482.4 L902.5,490.0 L904.0,497.6 L905.5,505.0 L907.0,512.3 L908.5,519.5 L910.0,526.6 L911.5,533.6 L913.0,540.4 L914.5,547.1 L916.0,553.8 L917.5,560.4 L919.0,567.0 L920.5,573.5 L922.0,580.0 L923.5,586.5 L925.0,593.0 L926.5,599.4 L928.0,605.9 L929.5,612.4 L931.0,619.0 L932.5,625.6 L934.0,632.3 L935.5,639.0 L937.0,645.8 L938.5,652.7 L940.0,659.6 L941.5,666.6 L943.0,673.5 L944.5,680.4 L946.0,687.2 L947.5,693.8 L949.0,700.3 L950.5,706.7 L952.0,713.0 L953.5,719.1 L955.0,725.1 L956.5,731.1 L958.0,737.0 L959.5,742.9 L961.0,748.7 L962.5,754.4 L964.0,760.2 L965.5,765.9 L967.0,771.6 L968.5,777.4 L970.0,783.2 L971.5,789.0 L973.0,794.8 L974.5,800.7 L976.0,806.7 L977.5,812.7 L979.0,818.7 L980.5,824.7 L982.0,830.7 L983.5,836.6 L985.0,842.6 L986.5,848.4 L988.0,854.2 L989.5,859.8 L991.0,865.4 L992.5,870.9 L994.0,876.3 L995.5,881.7 L997.0,887.1 L998.5,892.4 L1000.0,897.8 L1001.5,903.1 L1003.0,908.6 L1004.5,914.0 L1006.0,919.5 L1007.5,924.9 L1009.0,930.1 L1010.5,935.3 L1012.0,940.1 L1013.5,944.8 L1015.0,949.2 L1016.5,953.5 L1018.0,957.7 L1019.5,961.8 L1021.0,966.0 L1022.5,970.0 L1024.0,974.1 L1025.5,978.1 L1027.0,982.0 L1028.5,985.8 L1030.0,989.6 L1031.5,993.3 L1033.0,996.9 L1034.5,1000.4 L1036.0,1003.9 L1037.5,1007.4 L1039.0,1010.8 L1040.5,1014.1 L1042.0,1017.4 L1043.5,1020.6 L1045.0,1023.7 L1046.5,1026.8 L1048.0,1029.9 L1049.5,1032.9 L1051.0,1035.9 L1052.5,1038.9 L1054.0,1041.9 L1055.5,1044.8 L1057.0,1047.7 L1058.5,1050.6 L1060.0,1053.5 L1061.5,1056.3 L1063.0,1059.1 L1064.5,1061.8 L1066.0,1064.5 L1067.5,1067.2 L1069.0,1069.8 L1070.5,1072.4 L1072.0,1075.0 L1073.5,1077.5 L1075.0,1080.0 L1076.5,1082.4 L1078.0,1084.8 L1079.5,1087.1 L1081.0,1089.3 L1082.5,1091.5 L1084.0,1093.7 L1085.5,1095.7 L1087.0,1097.7 L1088.5,1099.7 L1090.0,1101.6 L1091.5,1103.5 L1093.0,1105.4 L1094.5,1107.3 L1096.0,1109.2 L1097.5,1111.1 L1099.0,1113.0 L1100.5,1114.9 L1102.0,1116.8 L1103.5,1118.7 L1105.0,1120.6 L1106.5,1122.5 L1108.0,1124.3 L1109.5,1126.1 L1111.0,1128.0 L1112.5,1129.8 L1114.0,1131.6 L1115.5,1133.3 L1117.0,1135.1 L1118.5,1136.8 L1120.0,1138.5 L1121.5,1140.2 L1123.0,1141.9 L1124.5,1143.5 L1126.0,1145.1 L1127.5,1146.7 L1129.0,1148.2 L1130.5,1149.6 L1132.0,1151.1 L1133.5,1152.5 L1135.0,1153.8 L1136.5,1155.2 L1138.0,1156.5 L1139.5,1157.9 L1141.0,1159.2 L1142.5,1160.5 L1144.0,1161.8 L1145.5,1163.1 L1147.0,1164.4 L1148.5,1165.6 L1150.0,1166.9 L1151.5,1168.1 L1153.0,1169.4 L1154.5,1170.6 L1156.0,1171.7 L1157.5,1172.9 L1159.0,1174.0 L1160.5,1175.1 L1162.0,1176.1 L1163.5,1177.2 L1165.0,1178.2 L1166.5,1179.2 L1168.0,1180.2 L1169.5,1181.2 L1171.0,1182.1 L1172.5,1183.1 L1174.0,1184.0 L1175.5,1184.9 L1177.0,1185.7 L1178.5,1186.6 L1180.0,1187.4 L1181.5,1188.2 L1183.0,1189.0 L1184.5,1189.7 L1186.0,1190.5 L1187.5,1191.2 L1189.0,1191.9 L1190.5,1192.6 L1192.0,1193.3 L1193.5,1194.0 L1195.0,1194.6 L1196.5,1195.3 L1198.0,1195.9 L1199.5,1196.6 L1201.0,1197.2 L1202.5,1197.9 L1204.0,1198.5 L1205.5,1199.2 L1207.0,1199.8 L1208.5,1200.4 L1210.0,1201.1 L1211.5,1201.8 L1213.0,1202.4 L1214.5,1203.1 L1216.0,1203.7 L1217.5,1204.4 L1219.0,1205.1 L1220.5,1205.8 L1222.0,1206.4 L1223.5,1207.1 L1225.0,1207.8 L1226.5,1208.4 L1228.0,1209.1 L1229.5,1209.8 L1231.0,1210.4 L1232.5,1211.0 L1234.0,1211.7 L1235.5,1212.3 L1237.0,1212.9 L1238.5,1213.5 L1240.0,1214.1 L1241.5,1214.7 L1243.0,1215.3 L1244.5,1215.9 L1246.0,1216.5 L1247.5,1217.0 L1249.0,1217.6 L1250.5,1218.1 L1252.0,1218.6 L1253.5,1219.2 L1255.0,1219.7 L1256.5,1220.2 L1258.0,1220.7 L1259.5,1221.2 L1261.0,1221.7 L1262.5,1222.2 L1264.0,1222.7 L1265.5,1223.2 L1267.0,1223.7 L1268.5,1224.2 L1270.0,1224.6 L1271.5,1225.1 L1273.0,1225.5 L1274.5,1226.0 L1276.0,1226.4 L1277.5,1226.9 L1279.0,1227.3 L1280.5,1227.7 L1282.0,1228.1 L1283.5,1228.6 L1285.0,1229.0 L1286.5,1229.4 L1288.0,1229.8 L1289.5,1230.2 L1291.0,1230.6 L1292.5,1231.0 L1294.0,1231.3 L1295.5,1231.7 L1297.0,1232.1 L1298.5,1232.5 L1300.0,1232.8 L1301.5,1233.2 L1303.0,1233.5 L1304.5,1233.9 L1306.0,1234.2 L1307.5,1234.6 L1309.0,1234.9 L1310.5,1235.2 L1312.0,1235.6 L1313.5,1235.9 L1315.0,1236.2 L1316.5,1236.5 L1318.0,1236.8 L1319.5,1237.2 L1321.0,1237.5 L1322.5,1237.8 L1324.0,1238.1 L1325.5,1238.4 L1327.0,1238.6 L1328.5,1238.9 L1330.0,1239.2 L1331.5,1239.5 L1333.0,1239.8 L1334.5,1240.0 L1336.0,1240.3 L1337.5,1240.6 L1339.0,1240.8 L1340.5,1241.1 L1342.0,1241.3 L1343.5,1241.6 L1345.0,1241.8 L1346.5,1242.1 L1348.0,1242.3 L1349.5,1242.6 L1351.0,1242.8 L1352.5,1243.0 L1354.0,1243.3 L1355.5,1243.5 L1357.0,1243.7 L1358.5,1243.9 L1360.0,1244.1 L1361.5,1244.4 L1363.0,1244.6 L1364.5,1244.8 L1366.0,1245.0 L1367.5,1245.2 L1369.0,1245.4 L1370.5,1245.6 L1372.0,1245.8 L1373.5,1246.0 L1375.0,1246.2 L1376.5,1246.4 L1378.0,1246.6 L1379.5,1246.8 L1381.0,1247.0 L1382.5,1247.1 L1384.0,1247.3 L1385.5,1247.5 L1387.0,1247.7 L1388.5,1247.9 L1390.0,1248.0 L1391.5,1248.2 L1393.0,1248.4 L1394.5,1248.5 L1396.0,1248.7 L1397.5,1248.8 L1399.0,1249.0 L1400.0,1249.0"/>
<path d="M193.0,1240.4 L194.5,1240.4 L196.0,1240.5 L197.5,1240.5 L199.0,1240.5 L200.5,1240.6 L202.0,1240.6 L203.5,1240.6 L205.0,1240.7 L206.5,1240.7 L208.0,1240.7 L209.5,1240.7 L211.0,1240.8 L212.5,1240.8 L214.0,1240.8 L215.5,1240.9 L217.0,1240.9 L218.5,1240.9 L220.0,1241.0 L221.5,1241.0 L223.0,1241.0 L224.5,1241.1 L226.0,1241.1 L227.5,1241.1 L229.0,1241.2 L230.5,1241.2 L232.0,1241.2 L233.5,1241.3 L235.0,1241.3 L236.5,1241.3 L238.0,1241.4 L239.5,1241.4 L241.0,1241.4 L242.5,1241.4 L244.0,1241.5 L245.5,1241.5 L247.0,1241.5 L248.5,1241.6 L250.0,1241.6 L251.5,1241.6 L253.0,1241.7 L254.5,1241.7 L256.0,1241.7 L257.5,1241.8 L259.0,1241.8 L260.5,1241.8 L262.0,1241.9 L263.5,1241.9 L265.0,1241.9 L266.5,1242.0 L268.0,1242.0 L269.5,1242.0 L271.0,1242.1 L272.5,1242.1 L274.0,1242.1 L275.5,1242.1 L277.0,1242.2 L278.5,1242.2 L280.0,1242.2 L281.5,1242.3 L283.0,1242.3 L284.5,1242.3 L286.0,1242.4 L287.5,1242.4 L289.0,1242.4 L290.5,1242.5 L292.0,1242.5 L293.5,1242.5 L295.0,1242.6 L296.5,1242.6 L298.0,1242.6 L299.5,1242.7 L301.0,1242.7 L302.5,1242.7 L304.0,1242.8 L305.5,1242.8 L307.0,1242.8 L308.5,1242.8 L310.0,1242.9 L311.5,1242.9 L313.0,1242.9 L314.5,1243.0 L316.0,1243.0 L317.5,1243.0 L319.0,1243.1 L320.5,1243.1 L322.0,1243.1 L323.5,1243.2 L325.0,1243.2 L326.5,1243.2 L328.0,1243.3 L329.5,1243.3 L331.0,1243.3 L332.5,1243.4 L334.0,1243.4 L335.5,1243.4 L337.0,1243.5 L338.5,1243.5 L340.0,1243.5 L341.5,1243.6 L343.0,1243.6 L344.5,1243.6 L346.0,1243.6 L347.5,1243.7 L349.0,1243.7 L350.5,1243.7 L352.0,1243.8 L353.5,1243.8 L355.0,1243.8 L356.5,1243.9 L358.0,1243.9 L359.5,1243.9 L361.0,1244.0 L362.5,1244.0 L364.0,1244.0 L365.5,1244.1 L367.0,1244.1 L368.5,1244.1 L370.0,1244.2 L371.5,1244.2 L373.0,1244.2 L374.5,1244.3 L376.0,1244.3 L377.5,1244.3 L379.0,1244.4 L380.5,1244.4 L382.0,1244.4 L383.5,1244.4 L385.0,1244.5 L386.5,1244.5 L388.0,1244.5 L389.5,1244.6 L391.0,1244.6 L392.5,1244.6 L394.0,1244.7 L395.5,1244.7 L397.0,1244.7 L398.5,1244.8 L400.0,1244.8 L401.5,1244.8 L403.0,1244.9 L404.5,1244.9 L406.0,1244.9 L407.5,1245.0 L409.0,1245.0 L410.5,1245.0 L412.0,1245.1 L413.5,1245.1 L415.0,1245.1 L416.5,1245.2 L418.0,1245.2 L419.5,1245.2 L421.0,1245.3 L422.5,1245.3 L424.0,1245.3 L425.5,1245.3 L427.0,1245.4 L428.5,1245.4 L430.0,1245.4 L431.5,1245.5 L433.0,1245.5 L434.5,1245.5 L436.0,1245.6 L437.5,1245.6 L439.0,1245.6 L440.5,1245.7 L442.0,1245.7 L443.5,1245.7 L445.0,1245.8 L446.5,1245.8 L448.0,1245.8 L449.5,1245.9 L451.0,1245.9 L452.5,1245.9 L454.0,1246.0 L455.5,1246.0 L457.0,1246.0 L458.5,1246.1 L460.0,1246.1 L461.5,1246.1 L463.0,1246.2 L464.5,1246.2 L466.0,1246.2 L467.5,1246.2 L469.0,1246.3 L470.5,1246.3 L472.0,1246.3 L473.5,1246.4 L475.0,1246.4 L476.5,1246.5 L478.0,1246.5 L479.5,1246.5 L481.0,1246.6 L482.5,1246.6 L484.0,1246.7 L485.5,1246.7 L487.0,1246.7 L488.5,1246.8 L490.0,1246.8 L491.5,1246.9 L493.0,1246.9 L494.5,1247.0 L496.0,1247.0 L497.5,1247.0 L499.0,1247.1 L500.5,1247.1 L502.0,1247.1 L503.5,1247.2 L505.0,1247.2 L506.5,1247.2 L508.0,1247.2 L509.5,1247.3 L511.0,1247.3 L512.5,1247.3 L514.0,1247.3 L515.5,1247.3 L517.0,1247.3 L518.5,1247.3 L520.0,1247.3 L521.5,1247.3 L523.0,1247.2 L524.5,1247.2 L526.0,1247.2 L527.5,1247.2 L529.0,1247.1 L530.5,1247.1 L532.0,1247.1 L533.5,1247.0 L535.0,1247.0 L536.5,1246.9 L538.0,1246.8 L539.5,1246.8 L541.0,1246.7 L542.5,1246.5 L544.0,1246.3 L545.5,1246.1 L547.0,1245.7 L548.5,1245.3 L550.0,1244.9 L551.5,1244.4 L553.0,1243.9 L554.5,1243.3 L556.0,1242.8 L557.5,1242.2 L559.0,1241.6 L560.5,1241.0 L562.0,1240.4 L563.5,1239.8 L565.0,1239.3 L566.5,1238.7 L568.0,1238.1 L569.5,1237.5 L571.0,1236.9 L572.5,1236.3 L574.0,1235.6 L575.5,1234.9 L577.0,1234.2 L578.5,1233.5 L580.0,1232.7 L581.5,1231.9 L583.0,1231.1 L584.5,1230.2 L586.0,1229.3 L587.5,1228.3 L589.0,1227.3 L590.5,1226.2 L592.0,1225.1 L593.5,1223.8 L595.0,1222.6 L596.5,1221.2 L598.0,1219.9 L599.5,1218.4 L601.0,1216.9 L602.5,1215.3 L604.0,1213.7 L605.5,1211.9 L607.0,1210.1 L608.5,1208.1 L610.0,1206.1 L611.5,1204.0 L613.0,1201.8 L614.5,1199.6 L616.0,1197.3 L617.5,1195.0 L619.0,1192.7 L620.5,1190.3 L622.0,1187.8 L623.5,1185.3 L625.0,1182.7 L626.5,1180.0 L628.0,1177.2 L629.5,1174.3 L631.0,1171.3 L632.5,1168.2 L634.0,1164.9 L635.5,1161.4 L637.0,1157.8 L638.5,1154.1 L640.0,1150.2 L641.5,1146.4 L643.0,1142.5 L644.5,1138.6 L646.0,1134.7 L647.5,1130.8 L649.0,1126.8 L650.5,1122.8 L652.0,1118.8 L653.5,1114.7 L655.0,1110.5 L656.5,1106.3 L658.0,1102.0 L659.5,1097.6 L661.0,1093.2 L662.5,1088.6 L664.0,1084.0 L665.5,1079.2 L667.0,1074.3 L668.5,1069.2 L670.0,1063.9 L671.5,1058.3 L673.0,1052.6 L674.5,1046.6 L676.0,1040.3 L677.5,1033.8 L679.0,1027.2 L680.5,1020.3 L682.0,1013.3 L683.5,1006.1 L685.0,998.9 L686.5,991.5 L688.0,984.0 L689.5,976.4 L691.0,968.7 L692.5,960.8 L694.0,952.8 L695.5,944.6 L697.0,936.3 L698.5,927.9 L700.0,919.3 L701.5,910.6 L703.0,901.8 L704.5,893.0 L706.0,884.1 L707.5,875.2 L709.0,866.3 L710.5,857.2 L712.0,848.1 L713.5,838.9 L715.0,829.7 L716.5,820.4 L718.0,811.1 L719.5,801.7 L721.0,792.2 L722.5,782.8 L724.0,773.3 L725.5,763.8 L727.0,754.2 L728.5,744.6 L730.0,735.0 L731.5,725.3 L733.0,715.5 L734.5,705.7 L736.0,695.9 L737.5,686.1 L739.0,676.2 L740.5,666.3 L742.0,656.5 L743.5,646.7 L745.0,637.0 L746.5,627.3 L748.0,617.6 L749.5,608.1 L751.0,598.6 L752.5,589.1 L754.0,579.7 L755.5,570.4 L757.0,561.0 L758.5,551.8 L760.0,542.6 L761.5,533.4 L763.0,524.3 L764.5,515.3 L766.0,506.2 L767.5,497.2 L769.0,488.3 L770.5,479.4 L772.0,470.5 L773.5,461.8 L775.0,453.1 L776.5,444.6 L778.0,436.1 L779.5,427.7 L781.0,419.3 L782.5,411.0 L784.0,402.6 L785.5,394.4 L787.0,386.3 L788.5,378.3 L790.0,370.6 L791.5,363.2 L793.0,356.0 L794.5,349.3 L796.0,342.9 L797.5,336.8 L799.0,331.0 L800.5,325.4 L802.0,320.0 L803.5,314.9 L805.0,310.0 L806.5,305.4 L808.0,301.1 L809.5,297.2 L811.0,293.5 L812.5,290.2 L814.0,287.2 L815.5,284.4 L817.0,281.9 L818.5,279.5 L820.0,277.4 L821.5,275.5 L823.0,273.7 L824.5,272.1 L826.0,270.7 L827.5,269.3 L829.0,268.1 L830.5,267.0 L832.0,266.0 L833.5,265.3 L835.0,264.7 L836.5,264.5 L838.0,264.6 L839.5,265.0 L841.0,265.7 L842.5,266.9 L844.0,268.3 L845.5,269.9 L847.0,271.7 L848.5,273.6 L850.0,275.6 L851.5,277.7 L853.0,279.9 L854.5,282.4 L856.0,285.0 L857.5,287.7 L859.0,290.8 L860.5,294.0 L862.0,297.6 L863.5,301.4 L865.0,305.4 L866.5,309.7 L868.0,314.2 L869.5,318.9 L871.0,323.9 L872.5,329.1 L874.0,334.6 L875.5,340.3 L877.0,346.3 L878.5,352.4 L880.0,358.7 L881.5,365.1 L883.0,371.6 L884.5,378.1 L886.0,384.7 L887.5,391.3 L889.0,398.0 L890.5,404.7 L892.0,411.5 L893.5,418.5 L895.0,425.5 L896.5,432.6 L898.0,439.9 L899.5,447.3 L901.0,454.8 L902.5,462.4 L904.0,470.1 L905.5,477.7 L907.0,485.4 L908.5,493.0 L910.0,500.6 L911.5,508.0 L913.0,515.3 L914.5,522.5 L916.0,529.5 L917.5,536.5 L919.0,543.3 L920.5,550.1 L922.0,556.8 L923.5,563.4 L925.0,570.0 L926.5,576.6 L928.0,583.1 L929.5,589.6 L931.0,596.1 L932.5,602.7 L934.0,609.2 L935.5,615.8 L937.0,622.5 L938.5,629.2 L940.0,635.9 L941.5,642.8 L943.0,649.7 L944.5,656.6 L946.0,663.7 L947.5,670.7 L949.0,677.6 L950.5,684.5 L952.0,691.3 L953.5,697.9 L955.0,704.4 L956.5,710.7 L958.0,717.0 L959.5,723.1 L961.0,729.2 L962.5,735.1 L964.0,741.0 L965.5,746.9 L967.0,752.7 L968.5,758.5 L970.0,764.3 L971.5,770.1 L973.0,775.9 L974.5,781.7 L976.0,787.5 L977.5,793.4 L979.0,799.4 L980.5,805.3 L982.0,811.4 L983.5,817.4 L985.0,823.5 L986.5,829.5 L988.0,835.6 L989.5,841.5 L991.0,847.4 L992.5,853.2 L994.0,858.9 L995.5,864.6 L997.0,870.1 L998.5,875.6 L1000.0,881.0 L1001.5,886.3 L1003.0,891.7 L1004.5,897.0 L1006.0,902.4 L1007.5,907.7 L1009.0,913.1 L1010.5,918.5 L1012.0,923.9 L1013.5,929.2 L1015.0,934.3 L1016.5,939.3 L1018.0,944.1 L1019.5,948.8 L1021.0,953.3 L1022.5,957.7 L1024.0,962.0 L1025.5,966.3 L1027.0,970.6 L1028.5,974.8 L1030.0,978.9 L1031.5,982.9 L1033.0,986.9 L1034.5,990.7 L1036.0,994.4 L1037.5,998.1 L1039.0,1001.7 L1040.5,1005.2 L1042.0,1008.7 L1043.5,1012.1 L1045.0,1015.4 L1046.5,1018.6 L1048.0,1021.9 L1049.5,1025.0 L1051.0,1028.1 L1052.5,1031.2 L1054.0,1034.3 L1055.5,1037.3 L1057.0,1040.2 L1058.5,1043.2 L1060.0,1046.1 L1061.5,1049.0 L1063.0,1051.9 L1064.5,1054.7 L1066.0,1057.5 L1067.5,1060.2 L1069.0,1062.9 L1070.5,1065.6 L1072.0,1068.2 L1073.5,1070.8 L1075.0,1073.4 L1076.5,1075.9 L1078.0,1078.4 L1079.5,1080.8 L1081.0,1083.1 L1082.5,1085.4 L1084.0,1087.7 L1085.5,1089.8 L1087.0,1092.0 L1088.5,1094.1 L1090.0,1096.1 L1091.5,1098.1 L1093.0,1100.1 L1094.5,1102.1 L1096.0,1104.1 L1097.5,1106.1 L1099.0,1108.1 L1100.5,1110.1 L1102.0,1112.1 L1103.5,1114.1 L1105.0,1116.0 L1106.5,1118.0 L1108.0,1119.9 L1109.5,1121.8 L1111.0,1123.7 L1112.5,1125.5 L1114.0,1127.3 L1115.5,1129.1 L1117.0,1130.9 L1118.5,1132.7 L1120.0,1134.4 L1121.5,1136.1 L1123.0,1137.8 L1124.5,1139.5 L1126.0,1141.1 L1127.5,1142.6 L1129.0,1144.2 L1130.5,1145.6 L1132.0,1147.1 L1133.5,1148.5 L1135.0,1149.9 L1136.5,1151.3 L1138.0,1152.7 L1139.5,1154.0 L1141.0,1155.3 L1142.5,1156.7 L1144.0,1158.0 L1145.5,1159.3 L1147.0,1160.6 L1148.5,1161.9 L1150.0,1163.2 L1151.5,1164.5 L1153.0,1165.7 L1154.5,1166.9 L1156.0,1168.1 L1157.5,1169.3 L1159.0,1170.4 L1160.5,1171.5 L1162.0,1172.5 L1163.5,1173.6 L1165.0,1174.6 L1166.5,1175.6 L1168.0,1176.6 L1169.5,1177.6 L1171.0,1178.6 L1172.5,1179.5 L1174.0,1180.4 L1175.5,1181.3 L1177.0,1182.2 L1178.5,1183.1 L1180.0,1183.9 L1181.5,1184.8 L1183.0,1185.6 L1184.5,1186.4 L1186.0,1187.2 L1187.5,1188.0 L1189.0,1188.8 L1190.5,1189.5 L1192.0,1190.3 L1193.5,1191.0 L1195.0,1191.7 L1196.5,1192.5 L1198.0,1193.2 L1199.5,1193.9 L1201.0,1194.6 L1202.5,1195.3 L1204.0,1196.0 L1205.5,1196.7 L1207.0,1197.4 L1208.5,1198.0 L1210.0,1198.7 L1211.5,1199.4 L1213.0,1200.1 L1214.5,1200.8 L1216.0,1201.5 L1217.5,1202.1 L1219.0,1202.8 L1220.5,1203.5 L1222.0,1204.1 L1223.5,1204.8 L1225.0,1205.5 L1226.5,1206.1 L1228.0,1206.8 L1229.5,1207.4 L1231.0,1208.0 L1232.5,1208.7 L1234.0,1209.3 L1235.5,1209.9 L1237.0,1210.5 L1238.5,1211.1 L1240.0,1211.7 L1241.5,1212.3 L1243.0,1212.8 L1244.5,1213.4 L1246.0,1213.9 L1247.5,1214.5 L1249.0,1215.0 L1250.5,1215.6 L1252.0,1216.1 L1253.5,1216.6 L1255.0,1217.1 L1256.5,1217.6 L1258.0,1218.1 L1259.5,1218.6 L1261.0,1219.1 L1262.5,1219.6 L1264.0,1220.1 L1265.5,1220.6 L1267.0,1221.0 L1268.5,1221.5 L1270.0,1221.9 L1271.5,1222.4 L1273.0,1222.8 L1274.5,1223.3 L1276.0,1223.7 L1277.5,1224.1 L1279.0,1224.6 L1280.5,1225.0 L1282.0,1225.4 L1283.5,1225.8 L1285.0,1226.2 L1286.5,1226.6 L1288.0,1227.0 L1289.5,1227.4 L1291.0,1227.8 L1292.5,1228.1 L1294.0,1228.5 L1295.5,1228.9 L1297.0,1229.2 L1298.5,1229.6 L1300.0,1230.0 L1301.5,1230.3 L1303.0,1230.7 L1304.5,1231.0 L1306.0,1231.3 L1307.5,1231.7 L1309.0,1232.0 L1310.5,1232.3 L1312.0,1232.6 L1313.5,1233.0 L1315.0,1233.3 L1316.5,1233.6 L1318.0,1233.9 L1319.5,1234.2 L1321.0,1234.5 L1322.5,1234.8 L1324.0,1235.1 L1325.5,1235.4 L1327.0,1235.7 L1328.5,1235.9 L1330.0,1236.2 L1331.5,1236.5 L1333.0,1236.8 L1334.5,1237.0 L1336.0,1237.3 L1337.5,1237.5 L1339.0,1237.8 L1340.5,1238.0 L1342.0,1238.3 L1343.5,1238.5 L1345.0,1238.8 L1346.5,1239.0 L1348.0,1239.2 L1349.5,1239.5 L1351.0,1239.7 L1352.5,1239.9 L1354.0,1240.1 L1355.5,1240.4 L1357.0,1240.6 L1358.5,1240.8 L1360.0,1241.0 L1361.5,1241.2 L1363.0,1241.4 L1364.5,1241.6 L1366.0,1241.8 L1367.5,1242.0 L1369.0,1242.2 L1370.5,1242.4 L1372.0,1242.6 L1373.5,1242.8 L1375.0,1243.0 L1376.5,1243.2 L1378.0,1243.4 L1379.5,1243.5 L1381.0,1243.7 L1382.5,1243.9 L1384.0,1244.1 L1385.5,1244.2 L1387.0,1244.4 L1388.5,1244.6 L1390.0,1244.8 L1391.5,1244.9 L1393.0,1245.1 L1394.5,1245.2 L1396.0,1245.4 L1397.5,1245.5 L1399.0,1245.6 L1400.0,1245.7"/>
<path d="M193.0,1241.2 L194.5,1241.2 L196.0,1241.3 L197.5,1241.3 L199.0,1241.3 L200.5,1241.3 L202.0,1241.4 L203.5,1241.4 L205.0,1241.4 L206.5,1241.4 L208.0,1241.5 L209.5,1241.5 L211.0,1241.5 L212.5,1241.5 L214.0,1241.6 L215.5,1241.6 L217.0,1241.6 L218.5,1241.6 L220.0,1241.7 L221.5,1241.7 L223.0,1241.7 L224.5,1241.7 L226.0,1241.8 L227.5,1241.8 L229.0,1241.8 L230.5,1241.8 L232.0,1241.9 L233.5,1241.9 L235.0,1241.9 L236.5,1241.9 L238.0,1242.0 L239.5,1242.0 L241.0,1242.0 L242.5,1242.0 L244.0,1242.1 L245.5,1242.1 L247.0,1242.1 L248.5,1242.2 L250.0,1242.2 L251.5,1242.2 L253.0,1242.2 L254.5,1242.3 L256.0,1242.3 L257.5,1242.3 L259.0,1242.3 L260.5,1242.4 L262.0,1242.4 L263.5,1242.4 L265.0,1242.4 L266.5,1242.5 L268.0,1242.5 L269.5,1242.5 L271.0,1242.5 L272.5,1242.6 L274.0,1242.6 L275.5,1242.6 L277.0,1242.7 L278.5,1242.7 L280.0,1242.7 L281.5,1242.7 L283.0,1242.8 L284.5,1242.8 L286.0,1242.8 L287.5,1242.8 L289.0,1242.9 L290.5,1242.9 L292.0,1242.9 L293.5,1243.0 L295.0,1243.0 L296.5,1243.0 L298.0,1243.0 L299.5,1243.1 L301.0,1243.1 L302.5,1243.1 L304.0,1243.1 L305.5,1243.2 L307.0,1243.2 L308.5,1243.2 L310.0,1243.3 L311.5,1243.3 L313.0,1243.3 L314.5,1243.3 L316.0,1243.4 L317.5,1243.4 L319.0,1243.4 L320.5,1243.4 L322.0,1243.5 L323.5,1243.5 L325.0,1243.5 L326.5,1243.6 L328.0,1243.6 L329.5,1243.6 L331.0,1243.6 L332.5,1243.7 L334.0,1243.7 L335.5,1243.7 L337.0,1243.8 L338.5,1243.8 L340.0,1243.8 L341.5,1243.8 L343.0,1243.9 L344.5,1243.9 L346.0,1243.9 L347.5,1243.9 L349.0,1244.0 L350.5,1244.0 L352.0,1244.0 L353.5,1244.1 L355.0,1244.1 L356.5,1244.1 L358.0,1244.1 L359.5,1244.2 L361.0,1244.2 L362.5,1244.2 L364.0,1244.3 L365.5,1244.3 L367.0,1244.3 L368.5,1244.3 L370.0,1244.4 L371.5,1244.4 L373.0,1244.4 L374.5,1244.5 L376.0,1244.5 L377.5,1244.5 L379.0,1244.5 L380.5,1244.6 L382.0,1244.6 L383.5,1244.6 L385.0,1244.7 L386.5,1244.7 L388.0,1244.7 L389.5,1244.7 L391.0,1244.8 L392.5,1244.8 L394.0,1244.8 L395.5,1244.9 L397.0,1244.9 L398.5,1244.9 L400.0,1244.9 L401.5,1245.0 L403.0,1245.0 L404.5,1245.0 L406.0,1245.1 L407.5,1245.1 L409.0,1245.1 L410.5,1245.1 L412.0,1245.2 L413.5,1245.2 L415.0,1245.2 L416.5,1245.3 L418.0,1245.3 L419.5,1245.3 L421.0,1245.3 L422.5,1245.4 L424.0,1245.4 L425.5,1245.4 L427.0,1245.5 L428.5,1245.5 L430.0,1245.5 L431.5,1245.5 L433.0,1245.6 L434.5,1245.6 L436.0,1245.6 L437.5,1245.7 L439.0,1245.7 L440.5,1245.7 L442.0,1245.8 L443.5,1245.8 L445.0,1245.8 L446.5,1245.8 L448.0,1245.9 L449.5,1245.9 L451.0,1245.9 L452.5,1246.0 L454.0,1246.0 L455.5,1246.0 L457.0,1246.0 L458.5,1246.1 L460.0,1246.1 L461.5,1246.1 L463.0,1246.2 L464.5,1246.2 L466.0,1246.2 L467.5,1246.3 L469.0,1246.3 L470.5,1246.3 L472.0,1246.3 L473.5,1246.4 L475.0,1246.4 L476.5,1246.4 L478.0,1246.5 L479.5,1246.5 L481.0,1246.6 L482.5,1246.6 L484.0,1246.6 L485.5,1246.7 L487.0,1246.7 L488.5,1246.8 L490.0,1246.8 L491.5,1246.8 L493.0,1246.9 L494.5,1246.9 L496.0,1247.0 L497.5,1247.0 L499.0,1247.0 L500.5,1247.1 L502.0,1247.1 L503.5,1247.1 L505.0,1247.2 L506.5,1247.2 L508.0,1247.2 L509.5,1247.2 L511.0,1247.2 L512.5,1247.3 L514.0,1247.3 L515.5,1247.3 L517.0,1247.3 L518.5,1247.3 L520.0,1247.3 L521.5,1247.3 L523.0,1247.3 L524.5,1247.3 L526.0,1247.2 L527.5,1247.2 L529.0,1247.2 L530.5,1247.2 L532.0,1247.1 L533.5,1247.1 L535.0,1247.0 L536.5,1247.0 L538.0,1246.9 L539.5,1246.9 L541.0,1246.8 L542.5,1246.7 L544.0,1246.6 L545.5,1246.4 L547.0,1246.2 L548.5,1245.9 L550.0,1245.6 L551.5,1245.2 L553.0,1244.7 L554.5,1244.2 L556.0,1243.7 L557.5,1243.1 L559.0,1242.5 L560.5,1241.9 L562.0,1241.3 L563.5,1240.7 L565.0,1240.1 L566.5,1239.5 L568.0,1239.0 L569.5,1238.4 L571.0,1237.8 L572.5,1237.2 L574.0,1236.5 L575.5,1235.9 L577.0,1235.2 L578.5,1234.5 L580.0,1233.8 L581.5,1233.1 L583.0,1232.3 L584.5,1231.5 L586.0,1230.6 L587.5,1229.7 L589.0,1228.8 L590.5,1227.7 L592.0,1226.7 L593.5,1225.5 L595.0,1224.3 L596.5,1223.1 L598.0,1221.8 L599.5,1220.4 L601.0,1219.0 L602.5,1217.5 L604.0,1216.0 L605.5,1214.4 L607.0,1212.7 L608.5,1210.9 L610.0,1208.9 L611.5,1207.0 L613.0,1204.9 L614.5,1202.7 L616.0,1200.6 L617.5,1198.3 L619.0,1196.1 L620.5,1193.7 L622.0,1191.4 L623.5,1189.0 L625.0,1186.5 L626.5,1183.9 L628.0,1181.3 L629.5,1178.5 L631.0,1175.7 L632.5,1172.8 L634.0,1169.7 L635.5,1166.5 L637.0,1163.2 L638.5,1159.6 L640.0,1156.0 L641.5,1152.3 L643.0,1148.4 L644.5,1144.6 L646.0,1140.7 L647.5,1136.8 L649.0,1132.9 L650.5,1129.0 L652.0,1125.0 L653.5,1121.0 L655.0,1116.9 L656.5,1112.8 L658.0,1108.5 L659.5,1104.3 L661.0,1099.9 L662.5,1095.5 L664.0,1091.0 L665.5,1086.3 L667.0,1081.6 L668.5,1076.8 L670.0,1071.7 L671.5,1066.5 L673.0,1061.1 L674.5,1055.4 L676.0,1049.5 L677.5,1043.4 L679.0,1037.1 L680.5,1030.5 L682.0,1023.8 L683.5,1016.9 L685.0,1009.8 L686.5,1002.7 L688.0,995.4 L689.5,988.0 L691.0,980.5 L692.5,972.9 L694.0,965.1 L695.5,957.3 L697.0,949.3 L698.5,941.1 L700.0,932.7 L701.5,924.3 L703.0,915.7 L704.5,907.0 L706.0,898.3 L707.5,889.5 L709.0,880.7 L710.5,871.8 L712.0,862.8 L713.5,853.8 L715.0,844.7 L716.5,835.5 L718.0,826.3 L719.5,817.0 L721.0,807.6 L722.5,798.2 L724.0,788.8 L725.5,779.3 L727.0,769.9 L728.5,760.3 L730.0,750.8 L731.5,741.2 L733.0,731.6 L734.5,721.9 L736.0,712.1 L737.5,702.3 L739.0,692.5 L740.5,682.7 L742.0,672.8 L743.5,663.0 L745.0,653.2 L746.5,643.4 L748.0,633.7 L749.5,624.1 L751.0,614.5 L752.5,605.0 L754.0,595.5 L755.5,586.1 L757.0,576.8 L758.5,567.5 L760.0,558.2 L761.5,549.0 L763.0,539.9 L764.5,530.8 L766.0,521.7 L767.5,512.7 L769.0,503.7 L770.5,494.8 L772.0,485.9 L773.5,477.0 L775.0,468.3 L776.5,459.6 L778.0,451.0 L779.5,442.5 L781.0,434.1 L782.5,425.8 L784.0,417.4 L785.5,409.1 L787.0,400.9 L788.5,392.7 L790.0,384.7 L791.5,376.8 L793.0,369.2 L794.5,361.9 L796.0,354.9 L797.5,348.2 L799.0,341.9 L800.5,335.8 L802.0,330.1 L803.5,324.5 L805.0,319.2 L806.5,314.2 L808.0,309.3 L809.5,304.8 L811.0,300.5 L812.5,296.6 L814.0,293.0 L815.5,289.7 L817.0,286.7 L818.5,284.0 L820.0,281.5 L821.5,279.2 L823.0,277.1 L824.5,275.2 L826.0,273.5 L827.5,271.9 L829.0,270.4 L830.5,269.1 L832.0,267.9 L833.5,266.8 L835.0,265.8 L836.5,265.1 L838.0,264.6 L839.5,264.4 L841.0,264.4 L842.5,264.6 L844.0,265.2 L845.5,266.1 L847.0,267.3 L848.5,268.8 L850.0,270.5 L851.5,272.2 L853.0,274.1 L854.5,276.1 L856.0,278.2 L857.5,280.5 L859.0,282.9 L860.5,285.6 L862.0,288.4 L863.5,291.5 L865.0,294.9 L866.5,298.5 L868.0,302.3 L869.5,306.4 L871.0,310.8 L872.5,315.4 L874.0,320.2 L875.5,325.2 L877.0,330.5 L878.5,335.9 L880.0,341.6 L881.5,347.5 L883.0,353.5 L884.5,359.7 L886.0,366.0 L887.5,372.4 L889.0,378.8 L890.5,385.2 L892.0,391.7 L893.5,398.3 L895.0,404.9 L896.5,411.6 L898.0,418.4 L899.5,425.3 L901.0,432.3 L902.5,439.5 L904.0,446.9 L905.5,454.4 L907.0,462.0 L908.5,469.6 L910.0,477.3 L911.5,485.0 L913.0,492.6 L914.5,500.2 L916.0,507.7 L917.5,515.0 L919.0,522.2 L920.5,529.3 L922.0,536.3 L923.5,543.2 L925.0,550.0 L926.5,556.7 L928.0,563.4 L929.5,570.0 L931.0,576.6 L932.5,583.2 L934.0,589.8 L935.5,596.4 L937.0,602.9 L938.5,609.5 L940.0,616.2 L941.5,622.9 L943.0,629.6 L944.5,636.4 L946.0,643.3 L947.5,650.3 L949.0,657.3 L950.5,664.4 L952.0,671.5 L953.5,678.5 L955.0,685.4 L956.5,692.2 L958.0,698.9 L959.5,705.4 L961.0,711.8 L962.5,718.0 L964.0,724.2 L965.5,730.3 L967.0,736.3 L968.5,742.2 L970.0,748.1 L971.5,753.9 L973.0,759.8 L974.5,765.6 L976.0,771.4 L977.5,777.3 L979.0,783.1 L980.5,789.0 L982.0,795.0 L983.5,801.0 L985.0,807.0 L986.5,813.1 L988.0,819.2 L989.5,825.3 L991.0,831.4 L992.5,837.4 L994.0,843.4 L995.5,849.3 L997.0,855.1 L998.5,860.8 L1000.0,866.4 L1001.5,871.9 L1003.0,877.4 L1004.5,882.8 L1006.0,888.2 L1007.5,893.5 L1009.0,898.9 L1010.5,904.2 L1012.0,909.5 L1013.5,914.9 L1015.0,920.2 L1016.5,925.5 L1018.0,930.8 L1019.5,935.9 L1021.0,940.9 L1022.5,945.8 L1024.0,950.5 L1025.5,955.2 L1027.0,959.7 L1028.5,964.3 L1030.0,968.7 L1031.5,973.1 L1033.0,977.4 L1034.5,981.6 L1036.0,985.7 L1037.5,989.6 L1039.0,993.4 L1040.5,997.2 L1042.0,1000.8 L1043.5,1004.4 L1045.0,1007.9 L1046.5,1011.3 L1048.0,1014.7 L1049.5,1018.0 L1051.0,1021.2 L1052.5,1024.4 L1054.0,1027.6 L1055.5,1030.7 L1057.0,1033.8 L1058.5,1036.8 L1060.0,1039.8 L1061.5,1042.8 L1063.0,1045.7 L1064.5,1048.6 L1066.0,1051.4 L1067.5,1054.3 L1069.0,1057.1 L1070.5,1059.8 L1072.0,1062.5 L1073.5,1065.2 L1075.0,1067.8 L1076.5,1070.4 L1078.0,1072.9 L1079.5,1075.4 L1081.0,1077.9 L1082.5,1080.3 L1084.0,1082.6 L1085.5,1084.9 L1087.0,1087.1 L1088.5,1089.3 L1090.0,1091.5 L1091.5,1093.6 L1093.0,1095.7 L1094.5,1097.8 L1096.0,1099.9 L1097.5,1101.9 L1099.0,1104.0 L1100.5,1106.1 L1102.0,1108.1 L1103.5,1110.2 L1105.0,1112.2 L1106.5,1114.2 L1108.0,1116.2 L1109.5,1118.1 L1111.0,1120.0 L1112.5,1121.9 L1114.0,1123.8 L1115.5,1125.6 L1117.0,1127.4 L1118.5,1129.2 L1120.0,1130.9 L1121.5,1132.7 L1123.0,1134.4 L1124.5,1136.0 L1126.0,1137.6 L1127.5,1139.2 L1129.0,1140.8 L1130.5,1142.3 L1132.0,1143.8 L1133.5,1145.2 L1135.0,1146.6 L1136.5,1148.0 L1138.0,1149.4 L1139.5,1150.7 L1141.0,1152.1 L1142.5,1153.4 L1144.0,1154.8 L1145.5,1156.1 L1147.0,1157.4 L1148.5,1158.8 L1150.0,1160.1 L1151.5,1161.4 L1153.0,1162.6 L1154.5,1163.8 L1156.0,1165.0 L1157.5,1166.2 L1159.0,1167.3 L1160.5,1168.4 L1162.0,1169.5 L1163.5,1170.6 L1165.0,1171.6 L1166.5,1172.6 L1168.0,1173.6 L1169.5,1174.6 L1171.0,1175.5 L1172.5,1176.5 L1174.0,1177.4 L1175.5,1178.3 L1177.0,1179.2 L1178.5,1180.1 L1180.0,1181.0 L1181.5,1181.9 L1183.0,1182.7 L1184.5,1183.6 L1186.0,1184.4 L1187.5,1185.3 L1189.0,1186.1 L1190.5,1186.9 L1192.0,1187.7 L1193.5,1188.5 L1195.0,1189.3 L1196.5,1190.1 L1198.0,1190.8 L1199.5,1191.6 L1201.0,1192.4 L1202.5,1193.1 L1204.0,1193.8 L1205.5,1194.6 L1207.0,1195.3 L1208.5,1196.0 L1210.0,1196.7 L1211.5,1197.4 L1213.0,1198.1 L1214.5,1198.8 L1216.0,1199.5 L1217.5,1200.2 L1219.0,1200.9 L1220.5,1201.5 L1222.0,1202.2 L1223.5,1202.8 L1225.0,1203.5 L1226.5,1204.1 L1228.0,1204.8 L1229.5,1205.4 L1231.0,1206.0 L1232.5,1206.6 L1234.0,1207.2 L1235.5,1207.8 L1237.0,1208.4 L1238.5,1209.0 L1240.0,1209.6 L1241.5,1210.2 L1243.0,1210.7 L1244.5,1211.3 L1246.0,1211.8 L1247.5,1212.3 L1249.0,1212.9 L1250.5,1213.4 L1252.0,1213.9 L1253.5,1214.4 L1255.0,1214.9 L1256.5,1215.4 L1258.0,1215.9 L1259.5,1216.4 L1261.0,1216.9 L1262.5,1217.4 L1264.0,1217.8 L1265.5,1218.3 L1267.0,1218.8 L1268.5,1219.2 L1270.0,1219.7 L1271.5,1220.1 L1273.0,1220.5 L1274.5,1221.0 L1276.0,1221.4 L1277.5,1221.8 L1279.0,1222.2 L1280.5,1222.6 L1282.0,1223.0 L1283.5,1223.4 L1285.0,1223.8 L1286.5,1224.2 L1288.0,1224.6 L1289.5,1225.0 L1291.0,1225.4 L1292.5,1225.7 L1294.0,1226.1 L1295.5,1226.5 L1297.0,1226.8 L1298.5,1227.2 L1300.0,1227.5 L1301.5,1227.9 L1303.0,1228.2 L1304.5,1228.6 L1306.0,1228.9 L1307.5,1229.2 L1309.0,1229.5 L1310.5,1229.8 L1312.0,1230.2 L1313.5,1230.5 L1315.0,1230.8 L1316.5,1231.1 L1318.0,1231.4 L1319.5,1231.7 L1321.0,1232.0 L1322.5,1232.3 L1324.0,1232.6 L1325.5,1232.8 L1327.0,1233.1 L1328.5,1233.4 L1330.0,1233.7 L1331.5,1233.9 L1333.0,1234.2 L1334.5,1234.5 L1336.0,1234.7 L1337.5,1235.0 L1339.0,1235.2 L1340.5,1235.5 L1342.0,1235.7 L1343.5,1235.9 L1345.0,1236.2 L1346.5,1236.4 L1348.0,1236.6 L1349.5,1236.8 L1351.0,1237.1 L1352.5,1237.3 L1354.0,1237.5 L1355.5,1237.7 L1357.0,1237.9 L1358.5,1238.1 L1360.0,1238.3 L1361.5,1238.5 L1363.0,1238.7 L1364.5,1238.9 L1366.0,1239.1 L1367.5,1239.3 L1369.0,1239.5 L1370.5,1239.7 L1372.0,1239.9 L1373.5,1240.1 L1375.0,1240.3 L1376.5,1240.4 L1378.0,1240.6 L1379.5,1240.8 L1381.0,1241.0 L1382.5,1241.1 L1384.0,1241.3 L1385.5,1241.5 L1387.0,1241.7 L1388.5,1241.8 L1390.0,1242.0 L1391.5,1242.1 L1393.0,1242.3 L1394.5,1242.4 L1396.0,1242.6 L1397.5,1242.7 L1399.0,1242.8 L1400.0,1242.9"/>
<path d="M193.0,1242.0 L194.5,1242.0 L196.0,1242.0 L197.5,1242.1 L199.0,1242.1 L200.5,1242.1 L202.0,1242.1 L203.5,1242.2 L205.0,1242.2 L206.5,1242.2 L208.0,1242.2 L209.5,1242.2 L211.0,1242.3 L212.5,1242.3 L214.0,1242.3 L215.5,1242.3 L217.0,1242.3 L218.5,1242.4 L220.0,1242.4 L221.5,1242.4 L223.0,1242.4 L224.5,1242.5 L226.0,1242.5 L227.5,1242.5 L229.0,1242.5 L230.5,1242.5 L232.0,1242.6 L233.5,1242.6 L235.0,1242.6 L236.5,1242.6 L238.0,1242.7 L239.5,1242.7 L241.0,1242.7 L242.5,1242.7 L244.0,1242.7 L245.5,1242.8 L247.0,1242.8 L248.5,1242.8 L250.0,1242.8 L251.5,1242.9 L253.0,1242.9 L254.5,1242.9 L256.0,1242.9 L257.5,1242.9 L259.0,1243.0 L260.5,1243.0 L262.0,1243.0 L263.5,1243.0 L265.0,1243.1 L266.5,1243.1 L268.0,1243.1 L269.5,1243.1 L271.0,1243.2 L272.5,1243.2 L274.0,1243.2 L275.5,1243.2 L277.0,1243.2 L278.5,1243.3 L280.0,1243.3 L281.5,1243.3 L283.0,1243.3 L284.5,1243.4 L286.0,1243.4 L287.5,1243.4 L289.0,1243.4 L290.5,1243.4 L292.0,1243.5 L293.5,1243.5 L295.0,1243.5 L296.5,1243.5 L298.0,1243.6 L299.5,1243.6 L301.0,1243.6 L302.5,1243.6 L304.0,1243.7 L305.5,1243.7 L307.0,1243.7 L308.5,1243.7 L310.0,1243.7 L311.5,1243.8 L313.0,1243.8 L314.5,1243.8 L316.0,1243.8 L317.5,1243.9 L319.0,1243.9 L320.5,1243.9 L322.0,1243.9 L323.5,1244.0 L325.0,1244.0 L326.5,1244.0 L328.0,1244.0 L329.5,1244.1 L331.0,1244.1 L332.5,1244.1 L334.0,1244.1 L335.5,1244.1 L337.0,1244.2 L338.5,1244.2 L340.0,1244.2 L341.5,1244.2 L343.0,1244.3 L344.5,1244.3 L346.0,1244.3 L347.5,1244.3 L349.0,1244.4 L350.5,1244.4 L352.0,1244.4 L353.5,1244.4 L355.0,1244.5 L356.5,1244.5 L358.0,1244.5 L359.5,1244.5 L361.0,1244.5 L362.5,1244.6 L364.0,1244.6 L365.5,1244.6 L367.0,1244.6 L368.5,1244.7 L370.0,1244.7 L371.5,1244.7 L373.0,1244.7 L374.5,1244.8 L376.0,1244.8 L377.5,1244.8 L379.0,1244.8 L380.5,1244.9 L382.0,1244.9 L383.5,1244.9 L385.0,1244.9 L386.5,1245.0 L388.0,1245.0 L389.5,1245.0 L391.0,1245.0 L392.5,1245.0 L394.0,1245.1 L395.5,1245.1 L397.0,1245.1 L398.5,1245.1 L400.0,1245.2 L401.5,1245.2 L403.0,1245.2 L404.5,1245.2 L406.0,1245.3 L407.5,1245.3 L409.0,1245.3 L410.5,1245.3 L412.0,1245.4 L413.5,1245.4 L415.0,1245.4 L416.5,1245.4 L418.0,1245.5 L419.5,1245.5 L421.0,1245.5 L422.5,1245.5 L424.0,1245.6 L425.5,1245.6 L427.0,1245.6 L428.5,1245.6 L430.0,1245.6 L431.5,1245.7 L433.0,1245.7 L434.5,1245.7 L436.0,1245.7 L437.5,1245.8 L439.0,1245.8 L440.5,1245.8 L442.0,1245.8 L443.5,1245.9 L445.0,1245.9 L446.5,1245.9 L448.0,1245.9 L449.5,1246.0 L451.0,1246.0 L452.5,1246.0 L454.0,1246.0 L455.5,1246.1 L457.0,1246.1 L458.5,1246.1 L460.0,1246.1 L461.5,1246.2 L463.0,1246.2 L464.5,1246.2 L466.0,1246.2 L467.5,1246.3 L469.0,1246.3 L470.5,1246.3 L472.0,1246.3 L473.5,1246.4 L475.0,1246.4 L476.5,1246.4 L478.0,1246.4 L479.5,1246.5 L481.0,1246.5 L482.5,1246.5 L484.0,1246.6 L485.5,1246.6 L487.0,1246.6 L488.5,1246.7 L490.0,1246.7 L491.5,1246.7 L493.0,1246.8 L494.5,1246.8 L496.0,1246.8 L497.5,1246.9 L499.0,1246.9 L500.5,1246.9 L502.0,1247.0 L503.5,1247.0 L505.0,1247.0 L506.5,1247.1 L508.0,1247.1 L509.5,1247.1 L511.0,1247.1 L512.5,1247.2 L514.0,1247.2 L515.5,1247.2 L517.0,1247.2 L518.5,1247.2 L520.0,1247.3 L521.5,1247.3 L523.0,1247.3 L524.5,1247.3 L526.0,1247.3 L527.5,1247.3 L529.0,1247.3 L530.5,1247.3 L532.0,1247.3 L533.5,1247.3 L535.0,1247.3 L536.5,1247.2 L538.0,1247.2 L539.5,1247.2 L541.0,1247.2 L542.5,1247.1 L544.0,1247.1 L545.5,1247.0 L547.0,1247.0 L548.5,1246.9 L550.0,1246.9 L551.5,1246.8 L553.0,1246.7 L554.5,1246.5 L556.0,1246.4 L557.5,1246.1 L559.0,1245.8 L560.5,1245.4 L562.0,1244.9 L563.5,1244.4 L565.0,1243.8 L566.5,1243.2 L568.0,1242.6 L569.5,1241.9 L571.0,1241.3 L572.5,1240.7 L574.0,1240.1 L575.5,1239.5 L577.0,1238.9 L578.5,1238.3 L580.0,1237.7 L581.5,1237.0 L583.0,1236.4 L584.5,1235.7 L586.0,1235.0 L587.5,1234.3 L589.0,1233.6 L590.5,1232.8 L592.0,1232.0 L593.5,1231.2 L595.0,1230.3 L596.5,1229.4 L598.0,1228.4 L599.5,1227.4 L601.0,1226.3 L602.5,1225.1 L604.0,1223.9 L605.5,1222.6 L607.0,1221.3 L608.5,1219.9 L610.0,1218.5 L611.5,1217.0 L613.0,1215.4 L614.5,1213.8 L616.0,1212.1 L617.5,1210.2 L619.0,1208.3 L620.5,1206.4 L622.0,1204.3 L623.5,1202.2 L625.0,1200.0 L626.5,1197.8 L628.0,1195.6 L629.5,1193.3 L631.0,1191.0 L632.5,1188.6 L634.0,1186.1 L635.5,1183.6 L637.0,1181.0 L638.5,1178.3 L640.0,1175.5 L641.5,1172.6 L643.0,1169.6 L644.5,1166.5 L646.0,1163.2 L647.5,1159.8 L649.0,1156.3 L650.5,1152.7 L652.0,1149.0 L653.5,1145.2 L655.0,1141.4 L656.5,1137.6 L658.0,1133.7 L659.5,1129.7 L661.0,1125.7 L662.5,1121.7 L664.0,1117.5 L665.5,1113.3 L667.0,1109.1 L668.5,1104.7 L670.0,1100.3 L671.5,1095.8 L673.0,1091.2 L674.5,1086.5 L676.0,1081.7 L677.5,1076.7 L679.0,1071.6 L680.5,1066.3 L682.0,1060.9 L683.5,1055.2 L685.0,1049.3 L686.5,1043.2 L688.0,1037.0 L689.5,1030.5 L691.0,1023.9 L692.5,1017.2 L694.0,1010.3 L695.5,1003.2 L697.0,996.1 L698.5,988.9 L700.0,981.6 L701.5,974.2 L703.0,966.6 L704.5,959.0 L706.0,951.2 L707.5,943.2 L709.0,935.2 L710.5,926.9 L712.0,918.6 L713.5,910.2 L715.0,901.7 L716.5,893.1 L718.0,884.5 L719.5,875.8 L721.0,867.0 L722.5,858.1 L724.0,849.1 L725.5,840.1 L727.0,830.9 L728.5,821.8 L730.0,812.5 L731.5,803.2 L733.0,793.9 L734.5,784.5 L736.0,775.1 L737.5,765.7 L739.0,756.2 L740.5,746.7 L742.0,737.2 L743.5,727.6 L745.0,717.9 L746.5,708.2 L748.0,698.5 L749.5,688.7 L751.0,679.0 L752.5,669.2 L754.0,659.4 L755.5,649.7 L757.0,640.1 L758.5,630.5 L760.0,621.0 L761.5,611.5 L763.0,602.1 L764.5,592.8 L766.0,583.6 L767.5,574.4 L769.0,565.3 L770.5,556.2 L772.0,547.1 L773.5,538.2 L775.0,529.2 L776.5,520.3 L778.0,511.5 L779.5,502.7 L781.0,493.9 L782.5,485.2 L784.0,476.6 L785.5,468.0 L787.0,459.5 L788.5,451.1 L790.0,442.8 L791.5,434.6 L793.0,426.4 L794.5,418.3 L796.0,410.2 L797.5,402.2 L799.0,394.2 L800.5,386.4 L802.0,378.7 L803.5,371.2 L805.0,364.0 L806.5,357.0 L808.0,350.4 L809.5,344.1 L811.0,338.0 L812.5,332.2 L814.0,326.7 L815.5,321.3 L817.0,316.1 L818.5,311.2 L820.0,306.6 L821.5,302.2 L823.0,298.1 L824.5,294.4 L826.0,291.0 L827.5,287.9 L829.0,285.1 L830.5,282.5 L832.0,280.1 L833.5,278.0 L835.0,276.0 L836.5,274.2 L838.0,272.5 L839.5,270.9 L841.0,269.5 L842.5,268.2 L844.0,267.0 L845.5,266.1 L847.0,265.4 L848.5,265.1 L850.0,265.2 L851.5,265.8 L853.0,266.8 L854.5,268.1 L856.0,269.6 L857.5,271.2 L859.0,272.9 L860.5,274.7 L862.0,276.6 L863.5,278.7 L865.0,281.0 L866.5,283.4 L868.0,286.1 L869.5,289.1 L871.0,292.2 L872.5,295.7 L874.0,299.4 L875.5,303.3 L877.0,307.5 L878.5,311.9 L880.0,316.5 L881.5,321.4 L883.0,326.5 L884.5,331.7 L886.0,337.1 L887.5,342.7 L889.0,348.5 L890.5,354.4 L892.0,360.4 L893.5,366.4 L895.0,372.6 L896.5,378.8 L898.0,385.0 L899.5,391.2 L901.0,397.5 L902.5,403.9 L904.0,410.4 L905.5,417.0 L907.0,423.7 L908.5,430.6 L910.0,437.6 L911.5,444.9 L913.0,452.3 L914.5,459.8 L916.0,467.5 L917.5,475.2 L919.0,482.9 L920.5,490.6 L922.0,498.2 L923.5,505.8 L925.0,513.2 L926.5,520.5 L928.0,527.7 L929.5,534.7 L931.0,541.7 L932.5,548.5 L934.0,555.4 L935.5,562.1 L937.0,568.8 L938.5,575.5 L940.0,582.2 L941.5,588.8 L943.0,595.5 L944.5,602.2 L946.0,608.9 L947.5,615.6 L949.0,622.4 L950.5,629.2 L952.0,636.1 L953.5,643.1 L955.0,650.2 L956.5,657.3 L958.0,664.5 L959.5,671.6 L961.0,678.7 L962.5,685.7 L964.0,692.6 L965.5,699.4 L967.0,706.0 L968.5,712.4 L970.0,718.7 L971.5,725.0 L973.0,731.1 L974.5,737.2 L976.0,743.2 L977.5,749.1 L979.0,755.0 L980.5,760.9 L982.0,766.8 L983.5,772.7 L985.0,778.6 L986.5,784.6 L988.0,790.5 L989.5,796.6 L991.0,802.6 L992.5,808.8 L994.0,814.9 L995.5,821.1 L997.0,827.3 L998.5,833.4 L1000.0,839.5 L1001.5,845.5 L1003.0,851.5 L1004.5,857.3 L1006.0,863.0 L1007.5,868.6 L1009.0,874.1 L1010.5,879.6 L1012.0,885.0 L1013.5,890.4 L1015.0,895.7 L1016.5,901.0 L1018.0,906.3 L1019.5,911.6 L1021.0,916.9 L1022.5,922.1 L1024.0,927.4 L1025.5,932.6 L1027.0,937.7 L1028.5,942.9 L1030.0,948.0 L1031.5,953.0 L1033.0,958.0 L1034.5,962.9 L1036.0,967.7 L1037.5,972.4 L1039.0,976.9 L1040.5,981.4 L1042.0,985.7 L1043.5,989.8 L1045.0,993.8 L1046.5,997.6 L1048.0,1001.3 L1049.5,1004.9 L1051.0,1008.5 L1052.5,1011.9 L1054.0,1015.3 L1055.5,1018.7 L1057.0,1021.9 L1058.5,1025.2 L1060.0,1028.4 L1061.5,1031.5 L1063.0,1034.6 L1064.5,1037.7 L1066.0,1040.7 L1067.5,1043.7 L1069.0,1046.7 L1070.5,1049.6 L1072.0,1052.4 L1073.5,1055.3 L1075.0,1058.1 L1076.5,1060.8 L1078.0,1063.5 L1079.5,1066.2 L1081.0,1068.8 L1082.5,1071.3 L1084.0,1073.8 L1085.5,1076.3 L1087.0,1078.7 L1088.5,1081.1 L1090.0,1083.4 L1091.5,1085.7 L1093.0,1088.0 L1094.5,1090.3 L1096.0,1092.5 L1097.5,1094.7 L1099.0,1096.9 L1100.5,1099.1 L1102.0,1101.3 L1103.5,1103.4 L1105.0,1105.6 L1106.5,1107.7 L1108.0,1109.7 L1109.5,1111.7 L1111.0,1113.7 L1112.5,1115.7 L1114.0,1117.6 L1115.5,1119.5 L1117.0,1121.3 L1118.5,1123.1 L1120.0,1124.9 L1121.5,1126.7 L1123.0,1128.4 L1124.5,1130.1 L1126.0,1131.7 L1127.5,1133.4 L1129.0,1134.9 L1130.5,1136.5 L1132.0,1138.0 L1133.5,1139.4 L1135.0,1140.9 L1136.5,1142.3 L1138.0,1143.7 L1139.5,1145.1 L1141.0,1146.5 L1142.5,1147.9 L1144.0,1149.2 L1145.5,1150.6 L1147.0,1152.0 L1148.5,1153.3 L1150.0,1154.7 L1151.5,1156.0 L1153.0,1157.3 L1154.5,1158.5 L1156.0,1159.7 L1157.5,1160.9 L1159.0,1162.1 L1160.5,1163.2 L1162.0,1164.3 L1163.5,1165.3 L1165.0,1166.4 L1166.5,1167.4 L1168.0,1168.4 L1169.5,1169.4 L1171.0,1170.3 L1172.5,1171.3 L1174.0,1172.2 L1175.5,1173.1 L1177.0,1174.1 L1178.5,1175.0 L1180.0,1175.9 L1181.5,1176.9 L1183.0,1177.8 L1184.5,1178.7 L1186.0,1179.6 L1187.5,1180.5 L1189.0,1181.5 L1190.5,1182.4 L1192.0,1183.3 L1193.5,1184.2 L1195.0,1185.0 L1196.5,1185.9 L1198.0,1186.8 L1199.5,1187.7 L1201.0,1188.5 L1202.5,1189.3 L1204.0,1190.2 L1205.5,1191.0 L1207.0,1191.7 L1208.5,1192.5 L1210.0,1193.3 L1211.5,1194.0 L1213.0,1194.7 L1214.5,1195.4 L1216.0,1196.1 L1217.5,1196.8 L1219.0,1197.5 L1220.5,1198.2 L1222.0,1198.8 L1223.5,1199.5 L1225.0,1200.1 L1226.5,1200.7 L1228.0,1201.3 L1229.5,1201.9 L1231.0,1202.5 L1232.5,1203.1 L1234.0,1203.7 L1235.5,1204.3 L1237.0,1204.9 L1238.5,1205.4 L1240.0,1206.0 L1241.5,1206.5 L1243.0,1207.1 L1244.5,1207.6 L1246.0,1208.1 L1247.5,1208.6 L1249.0,1209.2 L1250.5,1209.7 L1252.0,1210.2 L1253.5,1210.7 L1255.0,1211.2 L1256.5,1211.6 L1258.0,1212.1 L1259.5,1212.6 L1261.0,1213.1 L1262.5,1213.5 L1264.0,1214.0 L1265.5,1214.4 L1267.0,1214.9 L1268.5,1215.3 L1270.0,1215.7 L1271.5,1216.2 L1273.0,1216.6 L1274.5,1217.0 L1276.0,1217.4 L1277.5,1217.8 L1279.0,1218.2 L1280.5,1218.6 L1282.0,1219.0 L1283.5,1219.4 L1285.0,1219.8 L1286.5,1220.2 L1288.0,1220.5 L1289.5,1220.9 L1291.0,1221.3 L1292.5,1221.6 L1294.0,1222.0 L1295.5,1222.3 L1297.0,1222.7 L1298.5,1223.0 L1300.0,1223.3 L1301.5,1223.7 L1303.0,1224.0 L1304.5,1224.3 L1306.0,1224.6 L1307.5,1225.0 L1309.0,1225.3 L1310.5,1225.6 L1312.0,1225.9 L1313.5,1226.2 L1315.0,1226.5 L1316.5,1226.8 L1318.0,1227.1 L1319.5,1227.4 L1321.0,1227.6 L1322.5,1227.9 L1324.0,1228.2 L1325.5,1228.5 L1327.0,1228.7 L1328.5,1229.0 L1330.0,1229.3 L1331.5,1229.5 L1333.0,1229.8 L1334.5,1230.0 L1336.0,1230.3 L1337.5,1230.5 L1339.0,1230.8 L1340.5,1231.0 L1342.0,1231.2 L1343.5,1231.5 L1345.0,1231.7 L1346.5,1231.9 L1348.0,1232.1 L1349.5,1232.3 L1351.0,1232.5 L1352.5,1232.7 L1354.0,1232.9 L1355.5,1233.1 L1357.0,1233.3 L1358.5,1233.5 L1360.0,1233.7 L1361.5,1233.9 L1363.0,1234.1 L1364.5,1234.3 L1366.0,1234.5 L1367.5,1234.7 L1369.0,1234.9 L1370.5,1235.0 L1372.0,1235.2 L1373.5,1235.4 L1375.0,1235.6 L1376.5,1235.7 L1378.0,1235.9 L1379.5,1236.1 L1381.0,1236.2 L1382.5,1236.4 L1384.0,1236.6 L1385.5,1236.7 L1387.0,1236.9 L1388.5,1237.0 L1390.0,1237.2 L1391.5,1237.3 L1393.0,1237.5 L1394.5,1237.6 L1396.0,1237.8 L1397.5,1237.9 L1399.0,1238.0 L1400.0,1238.1"/>
<path d="M193.0,1242.8 L194.5,1242.8 L196.0,1242.8 L197.5,1242.8 L199.0,1242.9 L200.5,1242.9 L202.0,1242.9 L203.5,1242.9 L205.0,1242.9 L206.5,1242.9 L208.0,1243.0 L209.5,1243.0 L211.0,1243.0 L212.5,1243.0 L214.0,1243.0 L215.5,1243.0 L217.0,1243.1 L218.5,1243.1 L220.0,1243.1 L221.5,1243.1 L223.0,1243.1 L224.5,1243.1 L226.0,1243.2 L227.5,1243.2 L229.0,1243.2 L230.5,1243.2 L232.0,1243.2 L233.5,1243.2 L235.0,1243.3 L236.5,1243.3 L238.0,1243.3 L239.5,1243.3 L241.0,1243.3 L242.5,1243.3 L244.0,1243.4 L245.5,1243.4 L247.0,1243.4 L248.5,1243.4 L250.0,1243.4 L251.5,1243.4 L253.0,1243.5 L254.5,1243.5 L256.0,1243.5 L257.5,1243.5 L259.0,1243.5 L260.5,1243.6 L262.0,1243.6 L263.5,1243.6 L265.0,1243.6 L266.5,1243.6 L268.0,1243.6 L269.5,1243.7 L271.0,1243.7 L272.5,1243.7 L274.0,1243.7 L275.5,1243.7 L277.0,1243.7 L278.5,1243.8 L280.0,1243.8 L281.5,1243.8 L283.0,1243.8 L284.5,1243.8 L286.0,1243.9 L287.5,1243.9 L289.0,1243.9 L290.5,1243.9 L292.0,1243.9 L293.5,1243.9 L295.0,1244.0 L296.5,1244.0 L298.0,1244.0 L299.5,1244.0 L301.0,1244.0 L302.5,1244.1 L304.0,1244.1 L305.5,1244.1 L307.0,1244.1 L308.5,1244.1 L310.0,1244.2 L311.5,1244.2 L313.0,1244.2 L314.5,1244.2 L316.0,1244.2 L317.5,1244.2 L319.0,1244.3 L320.5,1244.3 L322.0,1244.3 L323.5,1244.3 L325.0,1244.3 L326.5,1244.4 L328.0,1244.4 L329.5,1244.4 L331.0,1244.4 L332.5,1244.4 L334.0,1244.5 L335.5,1244.5 L337.0,1244.5 L338.5,1244.5 L340.0,1244.5 L341.5,1244.6 L343.0,1244.6 L344.5,1244.6 L346.0,1244.6 L347.5,1244.6 L349.0,1244.7 L350.5,1244.7 L352.0,1244.7 L353.5,1244.7 L355.0,1244.7 L356.5,1244.7 L358.0,1244.8 L359.5,1244.8 L361.0,1244.8 L362.5,1244.8 L364.0,1244.8 L365.5,1244.9 L367.0,1244.9 L368.5,1244.9 L370.0,1244.9 L371.5,1244.9 L373.0,1245.0 L374.5,1245.0 L376.0,1245.0 L377.5,1245.0 L379.0,1245.0 L380.5,1245.1 L382.0,1245.1 L383.5,1245.1 L385.0,1245.1 L386.5,1245.1 L388.0,1245.2 L389.5,1245.2 L391.0,1245.2 L392.5,1245.2 L394.0,1245.2 L395.5,1245.3 L397.0,1245.3 L398.5,1245.3 L400.0,1245.3 L401.5,1245.4 L403.0,1245.4 L404.5,1245.4 L406.0,1245.4 L407.5,1245.4 L409.0,1245.5 L410.5,1245.5 L412.0,1245.5 L413.5,1245.5 L415.0,1245.5 L416.5,1245.6 L418.0,1245.6 L419.5,1245.6 L421.0,1245.6 L422.5,1245.6 L424.0,1245.7 L425.5,1245.7 L427.0,1245.7 L428.5,1245.7 L430.0,1245.7 L431.5,1245.8 L433.0,1245.8 L434.5,1245.8 L436.0,1245.8 L437.5,1245.8 L439.0,1245.9 L440.5,1245.9 L442.0,1245.9 L443.5,1245.9 L445.0,1245.9 L446.5,1246.0 L448.0,1246.0 L449.5,1246.0 L451.0,1246.0 L452.5,1246.1 L454.0,1246.1 L455.5,1246.1 L457.0,1246.1 L458.5,1246.1 L460.0,1246.2 L461.5,1246.2 L463.0,1246.2 L464.5,1246.2 L466.0,1246.2 L467.5,1246.3 L469.0,1246.3 L470.5,1246.3 L472.0,1246.3 L473.5,1246.4 L475.0,1246.4 L476.5,1246.4 L478.0,1246.4 L479.5,1246.5 L481.0,1246.5 L482.5,1246.5 L484.0,1246.5 L485.5,1246.6 L487.0,1246.6 L488.5,1246.6 L490.0,1246.7 L491.5,1246.7 L493.0,1246.7 L494.5,1246.8 L496.0,1246.8 L497.5,1246.8 L499.0,1246.8 L500.5,1246.9 L502.0,1246.9 L503.5,1246.9 L505.0,1247.0 L506.5,1247.0 L508.0,1247.0 L509.5,1247.0 L511.0,1247.1 L512.5,1247.1 L514.0,1247.1 L515.5,1247.1 L517.0,1247.2 L518.5,1247.2 L520.0,1247.2 L521.5,1247.2 L523.0,1247.2 L524.5,1247.2 L526.0,1247.3 L527.5,1247.3 L529.0,1247.3 L530.5,1247.3 L532.0,1247.3 L533.5,1247.3 L535.0,1247.3 L536.5,1247.3 L538.0,1247.3 L539.5,1247.3 L541.0,1247.3 L542.5,1247.2 L544.0,1247.2 L545.5,1247.2 L547.0,1247.2 L548.5,1247.1 L550.0,1247.1 L551.5,1247.0 L553.0,1247.0 L554.5,1246.9 L556.0,1246.9 L557.5,1246.8 L559.0,1246.7 L560.5,1246.6 L562.0,1246.4 L563.5,1246.1 L565.0,1245.8 L566.5,1245.4 L568.0,1244.9 L569.5,1244.4 L571.0,1243.8 L572.5,1243.1 L574.0,1242.5 L575.5,1241.9 L577.0,1241.2 L578.5,1240.6 L580.0,1239.9 L581.5,1239.3 L583.0,1238.7 L584.5,1238.1 L586.0,1237.5 L587.5,1236.8 L589.0,1236.2 L590.5,1235.5 L592.0,1234.8 L593.5,1234.1 L595.0,1233.3 L596.5,1232.5 L598.0,1231.7 L599.5,1230.9 L601.0,1230.0 L602.5,1229.0 L604.0,1228.0 L605.5,1226.9 L607.0,1225.8 L608.5,1224.6 L610.0,1223.3 L611.5,1222.0 L613.0,1220.7 L614.5,1219.3 L616.0,1217.8 L617.5,1216.3 L619.0,1214.7 L620.5,1213.1 L622.0,1211.3 L623.5,1209.5 L625.0,1207.6 L626.5,1205.6 L628.0,1203.6 L629.5,1201.5 L631.0,1199.3 L632.5,1197.1 L634.0,1194.9 L635.5,1192.6 L637.0,1190.3 L638.5,1187.9 L640.0,1185.4 L641.5,1182.9 L643.0,1180.3 L644.5,1177.6 L646.0,1174.8 L647.5,1172.0 L649.0,1169.0 L650.5,1165.9 L652.0,1162.6 L653.5,1159.3 L655.0,1155.8 L656.5,1152.3 L658.0,1148.6 L659.5,1144.9 L661.0,1141.1 L662.5,1137.3 L664.0,1133.4 L665.5,1129.4 L667.0,1125.4 L668.5,1121.3 L670.0,1117.1 L671.5,1112.9 L673.0,1108.6 L674.5,1104.1 L676.0,1099.7 L677.5,1095.1 L679.0,1090.4 L680.5,1085.6 L682.0,1080.8 L683.5,1075.7 L685.0,1070.6 L686.5,1065.2 L688.0,1059.7 L689.5,1054.0 L691.0,1048.1 L692.5,1042.0 L694.0,1035.7 L695.5,1029.3 L697.0,1022.7 L698.5,1016.0 L700.0,1009.2 L701.5,1002.3 L703.0,995.2 L704.5,988.1 L706.0,980.9 L707.5,973.5 L709.0,966.1 L710.5,958.6 L712.0,950.9 L713.5,943.1 L715.0,935.1 L716.5,927.0 L718.0,918.8 L719.5,910.5 L721.0,902.2 L722.5,893.7 L724.0,885.2 L725.5,876.6 L727.0,867.9 L728.5,859.1 L730.0,850.2 L731.5,841.2 L733.0,832.2 L734.5,823.0 L736.0,813.8 L737.5,804.6 L739.0,795.3 L740.5,785.9 L742.0,776.6 L743.5,767.2 L745.0,757.8 L746.5,748.4 L748.0,738.9 L749.5,729.3 L751.0,719.7 L752.5,710.1 L754.0,700.4 L755.5,690.7 L757.0,681.0 L758.5,671.2 L760.0,661.5 L761.5,651.9 L763.0,642.3 L764.5,632.7 L766.0,623.2 L767.5,613.8 L769.0,604.5 L770.5,595.3 L772.0,586.1 L773.5,577.0 L775.0,567.9 L776.5,558.9 L778.0,550.0 L779.5,541.1 L781.0,532.2 L782.5,523.4 L784.0,514.7 L785.5,505.9 L787.0,497.3 L788.5,488.6 L790.0,480.1 L791.5,471.6 L793.0,463.1 L794.5,454.8 L796.0,446.6 L797.5,438.4 L799.0,430.4 L800.5,422.4 L802.0,414.4 L803.5,406.5 L805.0,398.6 L806.5,390.8 L808.0,383.2 L809.5,375.7 L811.0,368.4 L812.5,361.4 L814.0,354.7 L815.5,348.2 L817.0,342.0 L818.5,336.1 L820.0,330.5 L821.5,325.0 L823.0,319.7 L824.5,314.6 L826.0,309.8 L827.5,305.2 L829.0,300.9 L830.5,297.0 L832.0,293.4 L833.5,290.1 L835.0,287.0 L836.5,284.3 L838.0,281.8 L839.5,279.5 L841.0,277.4 L842.5,275.4 L844.0,273.6 L845.5,272.0 L847.0,270.4 L848.5,269.0 L850.0,267.7 L851.5,266.6 L853.0,265.7 L854.5,265.1 L856.0,264.8 L857.5,264.9 L859.0,265.5 L860.5,266.4 L862.0,267.6 L863.5,269.0 L865.0,270.5 L866.5,272.1 L868.0,273.8 L869.5,275.6 L871.0,277.6 L872.5,279.7 L874.0,282.1 L875.5,284.6 L877.0,287.5 L878.5,290.5 L880.0,293.8 L881.5,297.4 L883.0,301.3 L884.5,305.4 L886.0,309.7 L887.5,314.2 L889.0,319.0 L890.5,323.9 L892.0,329.0 L893.5,334.3 L895.0,339.6 L896.5,345.2 L898.0,350.8 L899.5,356.5 L901.0,362.3 L902.5,368.1 L904.0,374.0 L905.5,380.0 L907.0,386.0 L908.5,392.0 L910.0,398.0 L911.5,404.2 L913.0,410.4 L914.5,416.8 L916.0,423.3 L917.5,430.0 L919.0,437.0 L920.5,444.1 L922.0,451.5 L923.5,459.0 L925.0,466.6 L926.5,474.3 L928.0,482.1 L929.5,489.8 L931.0,497.5 L932.5,505.1 L934.0,512.6 L935.5,520.0 L937.0,527.2 L938.5,534.3 L940.0,541.4 L941.5,548.3 L943.0,555.2 L944.5,562.1 L946.0,568.9 L947.5,575.6 L949.0,582.4 L950.5,589.2 L952.0,595.9 L953.5,602.7 L955.0,609.5 L956.5,616.3 L958.0,623.2 L959.5,630.2 L961.0,637.2 L962.5,644.3 L964.0,651.5 L965.5,658.8 L967.0,666.0 L968.5,673.3 L970.0,680.5 L971.5,687.6 L973.0,694.6 L974.5,701.4 L976.0,708.0 L977.5,714.5 L979.0,720.9 L980.5,727.2 L982.0,733.4 L983.5,739.5 L985.0,745.6 L986.5,751.6 L988.0,757.6 L989.5,763.6 L991.0,769.5 L992.5,775.5 L994.0,781.5 L995.5,787.6 L997.0,793.6 L998.5,799.8 L1000.0,806.0 L1001.5,812.2 L1003.0,818.5 L1004.5,824.7 L1006.0,831.0 L1007.5,837.2 L1009.0,843.3 L1010.5,849.3 L1012.0,855.2 L1013.5,861.0 L1015.0,866.7 L1016.5,872.3 L1018.0,877.9 L1019.5,883.3 L1021.0,888.7 L1022.5,894.0 L1024.0,899.4 L1025.5,904.6 L1027.0,909.8 L1028.5,915.0 L1030.0,920.2 L1031.5,925.3 L1033.0,930.5 L1034.5,935.8 L1036.0,941.2 L1037.5,946.6 L1039.0,952.1 L1040.5,957.5 L1042.0,962.9 L1043.5,968.1 L1045.0,973.2 L1046.5,978.1 L1048.0,982.8 L1049.5,987.3 L1051.0,991.5 L1052.5,995.6 L1054.0,999.5 L1055.5,1003.2 L1057.0,1006.9 L1058.5,1010.4 L1060.0,1013.9 L1061.5,1017.3 L1063.0,1020.6 L1064.5,1024.0 L1066.0,1027.3 L1067.5,1030.6 L1069.0,1033.8 L1070.5,1037.0 L1072.0,1040.2 L1073.5,1043.3 L1075.0,1046.4 L1076.5,1049.5 L1078.0,1052.4 L1079.5,1055.3 L1081.0,1058.2 L1082.5,1061.0 L1084.0,1063.7 L1085.5,1066.4 L1087.0,1069.0 L1088.5,1071.6 L1090.0,1074.1 L1091.5,1076.6 L1093.0,1079.1 L1094.5,1081.5 L1096.0,1084.0 L1097.5,1086.3 L1099.0,1088.7 L1100.5,1091.0 L1102.0,1093.3 L1103.5,1095.6 L1105.0,1097.9 L1106.5,1100.1 L1108.0,1102.2 L1109.5,1104.4 L1111.0,1106.4 L1112.5,1108.5 L1114.0,1110.4 L1115.5,1112.4 L1117.0,1114.3 L1118.5,1116.1 L1120.0,1118.0 L1121.5,1119.8 L1123.0,1121.5 L1124.5,1123.2 L1126.0,1124.9 L1127.5,1126.5 L1129.0,1128.2 L1130.5,1129.7 L1132.0,1131.3 L1133.5,1132.8 L1135.0,1134.3 L1136.5,1135.7 L1138.0,1137.2 L1139.5,1138.6 L1141.0,1140.0 L1142.5,1141.4 L1144.0,1142.8 L1145.5,1144.2 L1147.0,1145.6 L1148.5,1147.0 L1150.0,1148.4 L1151.5,1149.8 L1153.0,1151.1 L1154.5,1152.4 L1156.0,1153.6 L1157.5,1154.8 L1159.0,1156.0 L1160.5,1157.1 L1162.0,1158.2 L1163.5,1159.3 L1165.0,1160.3 L1166.5,1161.3 L1168.0,1162.3 L1169.5,1163.3 L1171.0,1164.3 L1172.5,1165.2 L1174.0,1166.2 L1175.5,1167.2 L1177.0,1168.1 L1178.5,1169.1 L1180.0,1170.1 L1181.5,1171.0 L1183.0,1172.0 L1184.5,1173.0 L1186.0,1174.1 L1187.5,1175.1 L1189.0,1176.1 L1190.5,1177.1 L1192.0,1178.1 L1193.5,1179.1 L1195.0,1180.1 L1196.5,1181.1 L1198.0,1182.1 L1199.5,1183.1 L1201.0,1184.1 L1202.5,1185.0 L1204.0,1185.9 L1205.5,1186.8 L1207.0,1187.6 L1208.5,1188.5 L1210.0,1189.3 L1211.5,1190.1 L1213.0,1190.8 L1214.5,1191.5 L1216.0,1192.2 L1217.5,1192.9 L1219.0,1193.6 L1220.5,1194.2 L1222.0,1194.9 L1223.5,1195.5 L1225.0,1196.1 L1226.5,1196.7 L1228.0,1197.3 L1229.5,1197.9 L1231.0,1198.5 L1232.5,1199.1 L1234.0,1199.6 L1235.5,1200.2 L1237.0,1200.7 L1238.5,1201.3 L1240.0,1201.8 L1241.5,1202.3 L1243.0,1202.8 L1244.5,1203.3 L1246.0,1203.9 L1247.5,1204.4 L1249.0,1204.9 L1250.5,1205.4 L1252.0,1205.8 L1253.5,1206.3 L1255.0,1206.8 L1256.5,1207.3 L1258.0,1207.7 L1259.5,1208.2 L1261.0,1208.6 L1262.5,1209.1 L1264.0,1209.5 L1265.5,1209.9 L1267.0,1210.4 L1268.5,1210.8 L1270.0,1211.2 L1271.5,1211.6 L1273.0,1212.0 L1274.5,1212.4 L1276.0,1212.8 L1277.5,1213.2 L1279.0,1213.6 L1280.5,1214.0 L1282.0,1214.3 L1283.5,1214.7 L1285.0,1215.1 L1286.5,1215.4 L1288.0,1215.8 L1289.5,1216.1 L1291.0,1216.5 L1292.5,1216.8 L1294.0,1217.2 L1295.5,1217.5 L1297.0,1217.8 L1298.5,1218.2 L1300.0,1218.5 L1301.5,1218.8 L1303.0,1219.1 L1304.5,1219.4 L1306.0,1219.7 L1307.5,1220.0 L1309.0,1220.3 L1310.5,1220.6 L1312.0,1220.9 L1313.5,1221.2 L1315.0,1221.5 L1316.5,1221.8 L1318.0,1222.1 L1319.5,1222.3 L1321.0,1222.6 L1322.5,1222.9 L1324.0,1223.2 L1325.5,1223.4 L1327.0,1223.7 L1328.5,1223.9 L1330.0,1224.2 L1331.5,1224.4 L1333.0,1224.7 L1334.5,1224.9 L1336.0,1225.2 L1337.5,1225.4 L1339.0,1225.6 L1340.5,1225.8 L1342.0,1226.1 L1343.5,1226.3 L1345.0,1226.5 L1346.5,1226.7 L1348.0,1226.9 L1349.5,1227.1 L1351.0,1227.3 L1352.5,1227.5 L1354.0,1227.7 L1355.5,1227.9 L1357.0,1228.0 L1358.5,1228.2 L1360.0,1228.4 L1361.5,1228.6 L1363.0,1228.8 L1364.5,1228.9 L1366.0,1229.1 L1367.5,1229.3 L1369.0,1229.5 L1370.5,1229.6 L1372.0,1229.8 L1373.5,1230.0 L1375.0,1230.1 L1376.5,1230.3 L1378.0,1230.4 L1379.5,1230.6 L1381.0,1230.7 L1382.5,1230.9 L1384.0,1231.0 L1385.5,1231.2 L1387.0,1231.3 L1388.5,1231.5 L1390.0,1231.6 L1391.5,1231.8 L1393.0,1231.9 L1394.5,1232.0 L1396.0,1232.2 L1397.5,1232.3 L1399.0,1232.4 L1400.0,1232.4"/>
<path d="M193.0,1243.6 L194.5,1243.6 L196.0,1243.6 L197.5,1243.6 L199.0,1243.6 L200.5,1243.7 L202.0,1243.7 L203.5,1243.7 L205.0,1243.7 L206.5,1243.7 L208.0,1243.7 L209.5,1243.7 L211.0,1243.7 L212.5,1243.7 L214.0,1243.8 L215.5,1243.8 L217.0,1243.8 L218.5,1243.8 L220.0,1243.8 L221.5,1243.8 L223.0,1243.8 L224.5,1243.8 L226.0,1243.9 L227.5,1243.9 L229.0,1243.9 L230.5,1243.9 L232.0,1243.9 L233.5,1243.9 L235.0,1243.9 L236.5,1243.9 L238.0,1244.0 L239.5,1244.0 L241.0,1244.0 L242.5,1244.0 L244.0,1244.0 L245.5,1244.0 L247.0,1244.0 L248.5,1244.0 L250.0,1244.1 L251.5,1244.1 L253.0,1244.1 L254.5,1244.1 L256.0,1244.1 L257.5,1244.1 L259.0,1244.1 L260.5,1244.1 L262.0,1244.2 L263.5,1244.2 L265.0,1244.2 L266.5,1244.2 L268.0,1244.2 L269.5,1244.2 L271.0,1244.2 L272.5,1244.3 L274.0,1244.3 L275.5,1244.3 L277.0,1244.3 L278.5,1244.3 L280.0,1244.3 L281.5,1244.3 L283.0,1244.3 L284.5,1244.4 L286.0,1244.4 L287.5,1244.4 L289.0,1244.4 L290.5,1244.4 L292.0,1244.4 L293.5,1244.4 L295.0,1244.5 L296.5,1244.5 L298.0,1244.5 L299.5,1244.5 L301.0,1244.5 L302.5,1244.5 L304.0,1244.5 L305.5,1244.6 L307.0,1244.6 L308.5,1244.6 L310.0,1244.6 L311.5,1244.6 L313.0,1244.6 L314.5,1244.6 L316.0,1244.7 L317.5,1244.7 L319.0,1244.7 L320.5,1244.7 L322.0,1244.7 L323.5,1244.7 L325.0,1244.7 L326.5,1244.8 L328.0,1244.8 L329.5,1244.8 L331.0,1244.8 L332.5,1244.8 L334.0,1244.8 L335.5,1244.9 L337.0,1244.9 L338.5,1244.9 L340.0,1244.9 L341.5,1244.9 L343.0,1244.9 L344.5,1244.9 L346.0,1245.0 L347.5,1245.0 L349.0,1245.0 L350.5,1245.0 L352.0,1245.0 L353.5,1245.0 L355.0,1245.0 L356.5,1245.1 L358.0,1245.1 L359.5,1245.1 L361.0,1245.1 L362.5,1245.1 L364.0,1245.1 L365.5,1245.2 L367.0,1245.2 L368.5,1245.2 L370.0,1245.2 L371.5,1245.2 L373.0,1245.2 L374.5,1245.3 L376.0,1245.3 L377.5,1245.3 L379.0,1245.3 L380.5,1245.3 L382.0,1245.3 L383.5,1245.3 L385.0,1245.4 L386.5,1245.4 L388.0,1245.4 L389.5,1245.4 L391.0,1245.4 L392.5,1245.4 L394.0,1245.5 L395.5,1245.5 L397.0,1245.5 L398.5,1245.5 L400.0,1245.5 L401.5,1245.5 L403.0,1245.6 L404.5,1245.6 L406.0,1245.6 L407.5,1245.6 L409.0,1245.6 L410.5,1245.6 L412.0,1245.7 L413.5,1245.7 L415.0,1245.7 L416.5,1245.7 L418.0,1245.7 L419.5,1245.7 L421.0,1245.8 L422.5,1245.8 L424.0,1245.8 L425.5,1245.8 L427.0,1245.8 L428.5,1245.8 L430.0,1245.9 L431.5,1245.9 L433.0,1245.9 L434.5,1245.9 L436.0,1245.9 L437.5,1245.9 L439.0,1246.0 L440.5,1246.0 L442.0,1246.0 L443.5,1246.0 L445.0,1246.0 L446.5,1246.0 L448.0,1246.1 L449.5,1246.1 L451.0,1246.1 L452.5,1246.1 L454.0,1246.1 L455.5,1246.1 L457.0,1246.2 L458.5,1246.2 L460.0,1246.2 L461.5,1246.2 L463.0,1246.2 L464.5,1246.2 L466.0,1246.3 L467.5,1246.3 L469.0,1246.3 L470.5,1246.3 L472.0,1246.3 L473.5,1246.3 L475.0,1246.4 L476.5,1246.4 L478.0,1246.4 L479.5,1246.4 L481.0,1246.4 L482.5,1246.5 L484.0,1246.5 L485.5,1246.5 L487.0,1246.5 L488.5,1246.6 L490.0,1246.6 L491.5,1246.6 L493.0,1246.6 L494.5,1246.7 L496.0,1246.7 L497.5,1246.7 L499.0,1246.7 L500.5,1246.8 L502.0,1246.8 L503.5,1246.8 L505.0,1246.8 L506.5,1246.9 L508.0,1246.9 L509.5,1246.9 L511.0,1246.9 L512.5,1247.0 L514.0,1247.0 L515.5,1247.0 L517.0,1247.0 L518.5,1247.1 L520.0,1247.1 L521.5,1247.1 L523.0,1247.1 L524.5,1247.1 L526.0,1247.2 L527.5,1247.2 L529.0,1247.2 L530.5,1247.2 L532.0,1247.2 L533.5,1247.2 L535.0,1247.2 L536.5,1247.3 L538.0,1247.3 L539.5,1247.3 L541.0,1247.3 L542.5,1247.3 L544.0,1247.3 L545.5,1247.3 L547.0,1247.3 L548.5,1247.3 L550.0,1247.3 L551.5,1247.3 L553.0,1247.3 L554.5,1247.3 L556.0,1247.2 L557.5,1247.2 L559.0,1247.2 L560.5,1247.1 L562.0,1247.1 L563.5,1247.1 L565.0,1247.0 L566.5,1247.0 L568.0,1246.9 L569.5,1246.8 L571.0,1246.8 L572.5,1246.6 L574.0,1246.4 L575.5,1246.2 L577.0,1245.8 L578.5,1245.4 L580.0,1244.9 L581.5,1244.3 L583.0,1243.7 L584.5,1243.0 L586.0,1242.3 L587.5,1241.6 L589.0,1240.9 L590.5,1240.2 L592.0,1239.6 L593.5,1238.9 L595.0,1238.3 L596.5,1237.6 L598.0,1237.0 L599.5,1236.3 L601.0,1235.6 L602.5,1234.9 L604.0,1234.2 L605.5,1233.5 L607.0,1232.7 L608.5,1231.9 L610.0,1231.0 L611.5,1230.1 L613.0,1229.1 L614.5,1228.1 L616.0,1227.0 L617.5,1225.9 L619.0,1224.7 L620.5,1223.4 L622.0,1222.1 L623.5,1220.8 L625.0,1219.4 L626.5,1217.9 L628.0,1216.4 L629.5,1214.9 L631.0,1213.2 L632.5,1211.5 L634.0,1209.8 L635.5,1207.9 L637.0,1206.0 L638.5,1204.0 L640.0,1202.0 L641.5,1199.9 L643.0,1197.7 L644.5,1195.5 L646.0,1193.3 L647.5,1191.0 L649.0,1188.7 L650.5,1186.3 L652.0,1183.8 L653.5,1181.3 L655.0,1178.7 L656.5,1176.0 L658.0,1173.3 L659.5,1170.4 L661.0,1167.5 L662.5,1164.4 L664.0,1161.3 L665.5,1158.0 L667.0,1154.6 L668.5,1151.2 L670.0,1147.6 L671.5,1144.0 L673.0,1140.2 L674.5,1136.4 L676.0,1132.5 L677.5,1128.5 L679.0,1124.4 L680.5,1120.2 L682.0,1116.0 L683.5,1111.6 L685.0,1107.1 L686.5,1102.6 L688.0,1098.0 L689.5,1093.3 L691.0,1088.4 L692.5,1083.5 L694.0,1078.4 L695.5,1073.3 L697.0,1067.9 L698.5,1062.4 L700.0,1056.8 L701.5,1051.0 L703.0,1045.0 L704.5,1038.9 L706.0,1032.7 L707.5,1026.4 L709.0,1019.9 L710.5,1013.3 L712.0,1006.6 L713.5,999.8 L715.0,992.9 L716.5,986.0 L718.0,978.9 L719.5,971.8 L721.0,964.5 L722.5,957.2 L724.0,949.7 L725.5,942.1 L727.0,934.4 L728.5,926.5 L730.0,918.6 L731.5,910.5 L733.0,902.4 L734.5,894.2 L736.0,885.8 L737.5,877.4 L739.0,868.9 L740.5,860.3 L742.0,851.5 L743.5,842.7 L745.0,833.7 L746.5,824.7 L748.0,815.6 L749.5,806.5 L751.0,797.2 L752.5,788.0 L754.0,778.7 L755.5,769.4 L757.0,760.1 L758.5,750.8 L760.0,741.4 L761.5,732.0 L763.0,722.5 L764.5,712.9 L766.0,703.3 L767.5,693.7 L769.0,684.1 L770.5,674.4 L772.0,664.8 L773.5,655.2 L775.0,645.7 L776.5,636.3 L778.0,626.9 L779.5,617.6 L781.0,608.4 L782.5,599.2 L784.0,590.2 L785.5,581.2 L787.0,572.3 L788.5,563.4 L790.0,554.6 L791.5,545.9 L793.0,537.2 L794.5,528.6 L796.0,520.0 L797.5,511.4 L799.0,502.9 L800.5,494.5 L802.0,486.1 L803.5,477.7 L805.0,469.4 L806.5,461.2 L808.0,453.1 L809.5,445.2 L811.0,437.2 L812.5,429.4 L814.0,421.7 L815.5,414.0 L817.0,406.3 L818.5,398.7 L820.0,391.1 L821.5,383.7 L823.0,376.5 L824.5,369.4 L826.0,362.5 L827.5,355.9 L829.0,349.6 L830.5,343.5 L832.0,337.6 L833.5,332.0 L835.0,326.5 L836.5,321.2 L838.0,316.1 L839.5,311.2 L841.0,306.6 L842.5,302.2 L844.0,298.1 L845.5,294.4 L847.0,291.0 L848.5,287.9 L850.0,285.1 L851.5,282.6 L853.0,280.2 L854.5,278.0 L856.0,276.0 L857.5,274.1 L859.0,272.4 L860.5,270.8 L862.0,269.3 L863.5,267.9 L865.0,266.8 L866.5,265.8 L868.0,265.2 L869.5,265.0 L871.0,265.2 L872.5,265.9 L874.0,266.9 L875.5,268.1 L877.0,269.5 L878.5,270.9 L880.0,272.4 L881.5,273.9 L883.0,275.6 L884.5,277.5 L886.0,279.5 L887.5,281.8 L889.0,284.4 L890.5,287.3 L892.0,290.4 L893.5,293.7 L895.0,297.3 L896.5,301.2 L898.0,305.3 L899.5,309.7 L901.0,314.2 L902.5,319.0 L904.0,323.9 L905.5,328.9 L907.0,334.1 L908.5,339.3 L910.0,344.5 L911.5,349.8 L913.0,355.2 L914.5,360.6 L916.0,366.1 L917.5,371.6 L919.0,377.2 L920.5,382.8 L922.0,388.4 L923.5,394.1 L925.0,399.8 L926.5,405.6 L928.0,411.5 L929.5,417.6 L931.0,423.9 L932.5,430.4 L934.0,437.2 L935.5,444.2 L937.0,451.5 L938.5,458.9 L940.0,466.6 L941.5,474.3 L943.0,482.1 L944.5,490.0 L946.0,497.7 L947.5,505.4 L949.0,513.0 L950.5,520.4 L952.0,527.8 L953.5,535.0 L955.0,542.1 L956.5,549.2 L958.0,556.2 L959.5,563.2 L961.0,570.2 L962.5,577.1 L964.0,584.0 L965.5,591.0 L967.0,597.9 L968.5,604.9 L970.0,611.9 L971.5,618.9 L973.0,626.0 L974.5,633.1 L976.0,640.4 L977.5,647.7 L979.0,655.2 L980.5,662.6 L982.0,670.1 L983.5,677.5 L985.0,684.9 L986.5,692.1 L988.0,699.1 L989.5,706.0 L991.0,712.7 L992.5,719.3 L994.0,725.7 L995.5,732.1 L997.0,738.4 L998.5,744.6 L1000.0,750.8 L1001.5,756.9 L1003.0,763.0 L1004.5,769.1 L1006.0,775.3 L1007.5,781.4 L1009.0,787.6 L1010.5,793.8 L1012.0,800.1 L1013.5,806.4 L1015.0,812.8 L1016.5,819.2 L1018.0,825.6 L1019.5,832.0 L1021.0,838.4 L1022.5,844.6 L1024.0,850.7 L1025.5,856.7 L1027.0,862.6 L1028.5,868.3 L1030.0,874.0 L1031.5,879.6 L1033.0,885.1 L1034.5,890.5 L1036.0,895.8 L1037.5,901.0 L1039.0,906.2 L1040.5,911.3 L1042.0,916.3 L1043.5,921.2 L1045.0,926.0 L1046.5,930.7 L1048.0,935.3 L1049.5,939.7 L1051.0,944.1 L1052.5,948.3 L1054.0,952.4 L1055.5,956.5 L1057.0,960.5 L1058.5,964.4 L1060.0,968.3 L1061.5,972.2 L1063.0,976.0 L1064.5,979.8 L1066.0,983.5 L1067.5,987.2 L1069.0,990.8 L1070.5,994.4 L1072.0,997.9 L1073.5,1001.4 L1075.0,1004.8 L1076.5,1008.2 L1078.0,1011.6 L1079.5,1014.9 L1081.0,1018.2 L1082.5,1021.4 L1084.0,1024.6 L1085.5,1027.8 L1087.0,1030.9 L1088.5,1033.9 L1090.0,1036.9 L1091.5,1039.9 L1093.0,1042.9 L1094.5,1045.8 L1096.0,1048.6 L1097.5,1051.4 L1099.0,1054.2 L1100.5,1057.0 L1102.0,1059.7 L1103.5,1062.4 L1105.0,1065.0 L1106.5,1067.6 L1108.0,1070.2 L1109.5,1072.7 L1111.0,1075.2 L1112.5,1077.6 L1114.0,1080.0 L1115.5,1082.4 L1117.0,1084.8 L1118.5,1087.1 L1120.0,1089.4 L1121.5,1091.6 L1123.0,1093.9 L1124.5,1096.0 L1126.0,1098.2 L1127.5,1100.3 L1129.0,1102.4 L1130.5,1104.5 L1132.0,1106.5 L1133.5,1108.5 L1135.0,1110.5 L1136.5,1112.4 L1138.0,1114.3 L1139.5,1116.2 L1141.0,1118.1 L1142.5,1119.9 L1144.0,1121.7 L1145.5,1123.5 L1147.0,1125.2 L1148.5,1127.0 L1150.0,1128.7 L1151.5,1130.3 L1153.0,1132.0 L1154.5,1133.6 L1156.0,1135.2 L1157.5,1136.7 L1159.0,1138.3 L1160.5,1139.8 L1162.0,1141.3 L1163.5,1142.7 L1165.0,1144.2 L1166.5,1145.6 L1168.0,1147.0 L1169.5,1148.4 L1171.0,1149.8 L1172.5,1151.1 L1174.0,1152.4 L1175.5,1153.7 L1177.0,1155.0 L1178.5,1156.2 L1180.0,1157.5 L1181.5,1158.7 L1183.0,1159.9 L1184.5,1161.0 L1186.0,1162.2 L1187.5,1163.3 L1189.0,1164.4 L1190.5,1165.5 L1192.0,1166.6 L1193.5,1167.7 L1195.0,1168.7 L1196.5,1169.7 L1198.0,1170.7 L1199.5,1171.7 L1201.0,1172.7 L1202.5,1173.7 L1204.0,1174.6 L1205.5,1175.5 L1207.0,1176.4 L1208.5,1177.3 L1210.0,1178.2 L1211.5,1179.1 L1213.0,1179.9 L1214.5,1180.8 L1216.0,1181.6 L1217.5,1182.4 L1219.0,1183.2 L1220.5,1184.0 L1222.0,1184.8 L1223.5,1185.6 L1225.0,1186.3 L1226.5,1187.0 L1228.0,1187.8 L1229.5,1188.5 L1231.0,1189.2 L1232.5,1189.9 L1234.0,1190.6 L1235.5,1191.2 L1237.0,1191.9 L1238.5,1192.6 L1240.0,1193.2 L1241.5,1193.8 L1243.0,1194.5 L1244.5,1195.1 L1246.0,1195.7 L1247.5,1196.3 L1249.0,1196.9 L1250.5,1197.5 L1252.0,1198.1 L1253.5,1198.7 L1255.0,1199.2 L1256.5,1199.8 L1258.0,1200.3 L1259.5,1200.8 L1261.0,1201.4 L1262.5,1201.9 L1264.0,1202.4 L1265.5,1202.9 L1267.0,1203.4 L1268.5,1203.8 L1270.0,1204.3 L1271.5,1204.8 L1273.0,1205.2 L1274.5,1205.7 L1276.0,1206.2 L1277.5,1206.6 L1279.0,1207.0 L1280.5,1207.5 L1282.0,1207.9 L1283.5,1208.3 L1285.0,1208.7 L1286.5,1209.1 L1288.0,1209.5 L1289.5,1209.9 L1291.0,1210.3 L1292.5,1210.7 L1294.0,1211.0 L1295.5,1211.4 L1297.0,1211.8 L1298.5,1212.1 L1300.0,1212.5 L1301.5,1212.8 L1303.0,1213.2 L1304.5,1213.5 L1306.0,1213.8 L1307.5,1214.2 L1309.0,1214.5 L1310.5,1214.8 L1312.0,1215.1 L1313.5,1215.4 L1315.0,1215.7 L1316.5,1216.1 L1318.0,1216.4 L1319.5,1216.7 L1321.0,1217.0 L1322.5,1217.2 L1324.0,1217.5 L1325.5,1217.8 L1327.0,1218.1 L1328.5,1218.4 L1330.0,1218.7 L1331.5,1218.9 L1333.0,1219.2 L1334.5,1219.5 L1336.0,1219.7 L1337.5,1220.0 L1339.0,1220.3 L1340.5,1220.5 L1342.0,1220.8 L1343.5,1221.0 L1345.0,1221.3 L1346.5,1221.5 L1348.0,1221.8 L1349.5,1222.0 L1351.0,1222.3 L1352.5,1222.5 L1354.0,1222.8 L1355.5,1223.1 L1357.0,1223.3 L1358.5,1223.6 L1360.0,1223.8 L1361.5,1224.1 L1363.0,1224.3 L1364.5,1224.6 L1366.0,1224.9 L1367.5,1225.1 L1369.0,1225.4 L1370.5,1225.6 L1372.0,1225.9 L1373.5,1226.2 L1375.0,1226.4 L1376.5,1226.7 L1378.0,1226.9 L1379.5,1227.2 L1381.0,1227.4 L1382.5,1227.7 L1384.0,1228.0 L1385.5,1228.2 L1387.0,1228.5 L1388.5,1228.7 L1390.0,1229.0 L1391.5,1229.2 L1393.0,1229.5 L1394.5,1229.7 L1396.0,1230.0 L1397.5,1230.2 L1399.0,1230.4 L1400.0,1230.5"/>
<path d="M193.0,1244.4 L194.5,1244.4 L196.0,1244.4 L197.5,1244.4 L199.0,1244.4 L200.5,1244.4 L202.0,1244.4 L203.5,1244.4 L205.0,1244.4 L206.5,1244.4 L208.0,1244.4 L209.5,1244.5 L211.0,1244.5 L212.5,1244.5 L214.0,1244.5 L215.5,1244.5 L217.0,1244.5 L218.5,1244.5 L220.0,1244.5 L221.5,1244.5 L223.0,1244.5 L224.5,1244.5 L226.0,1244.5 L227.5,1244.5 L229.0,1244.5 L230.5,1244.5 L232.0,1244.5 L233.5,1244.5 L235.0,1244.6 L236.5,1244.6 L238.0,1244.6 L239.5,1244.6 L241.0,1244.6 L242.5,1244.6 L244.0,1244.6 L245.5,1244.6 L247.0,1244.6 L248.5,1244.6 L250.0,1244.6 L251.5,1244.6 L253.0,1244.6 L254.5,1244.6 L256.0,1244.7 L257.5,1244.7 L259.0,1244.7 L260.5,1244.7 L262.0,1244.7 L263.5,1244.7 L265.0,1244.7 L266.5,1244.7 L268.0,1244.7 L269.5,1244.7 L271.0,1244.7 L272.5,1244.7 L274.0,1244.7 L275.5,1244.8 L277.0,1244.8 L278.5,1244.8 L280.0,1244.8 L281.5,1244.8 L283.0,1244.8 L284.5,1244.8 L286.0,1244.8 L287.5,1244.8 L289.0,1244.8 L290.5,1244.8 L292.0,1244.9 L293.5,1244.9 L295.0,1244.9 L296.5,1244.9 L298.0,1244.9 L299.5,1244.9 L301.0,1244.9 L302.5,1244.9 L304.0,1244.9 L305.5,1244.9 L307.0,1245.0 L308.5,1245.0 L310.0,1245.0 L311.5,1245.0 L313.0,1245.0 L314.5,1245.0 L316.0,1245.0 L317.5,1245.0 L319.0,1245.0 L320.5,1245.0 L322.0,1245.1 L323.5,1245.1 L325.0,1245.1 L326.5,1245.1 L328.0,1245.1 L329.5,1245.1 L331.0,1245.1 L332.5,1245.1 L334.0,1245.1 L335.5,1245.2 L337.0,1245.2 L338.5,1245.2 L340.0,1245.2 L341.5,1245.2 L343.0,1245.2 L344.5,1245.2 L346.0,1245.2 L347.5,1245.2 L349.0,1245.3 L350.5,1245.3 L352.0,1245.3 L353.5,1245.3 L355.0,1245.3 L356.5,1245.3 L358.0,1245.3 L359.5,1245.3 L361.0,1245.3 L362.5,1245.4 L364.0,1245.4 L365.5,1245.4 L367.0,1245.4 L368.5,1245.4 L370.0,1245.4 L371.5,1245.4 L373.0,1245.4 L374.5,1245.5 L376.0,1245.5 L377.5,1245.5 L379.0,1245.5 L380.5,1245.5 L382.0,1245.5 L383.5,1245.5 L385.0,1245.5 L386.5,1245.6 L388.0,1245.6 L389.5,1245.6 L391.0,1245.6 L392.5,1245.6 L394.0,1245.6 L395.5,1245.6 L397.0,1245.6 L398.5,1245.7 L400.0,1245.7 L401.5,1245.7 L403.0,1245.7 L404.5,1245.7 L406.0,1245.7 L407.5,1245.7 L409.0,1245.7 L410.5,1245.8 L412.0,1245.8 L413.5,1245.8 L415.0,1245.8 L416.5,1245.8 L418.0,1245.8 L419.5,1245.8 L421.0,1245.9 L422.5,1245.9 L424.0,1245.9 L425.5,1245.9 L427.0,1245.9 L428.5,1245.9 L430.0,1245.9 L431.5,1245.9 L433.0,1246.0 L434.5,1246.0 L436.0,1246.0 L437.5,1246.0 L439.0,1246.0 L440.5,1246.0 L442.0,1246.0 L443.5,1246.1 L445.0,1246.1 L446.5,1246.1 L448.0,1246.1 L449.5,1246.1 L451.0,1246.1 L452.5,1246.1 L454.0,1246.2 L455.5,1246.2 L457.0,1246.2 L458.5,1246.2 L460.0,1246.2 L461.5,1246.2 L463.0,1246.2 L464.5,1246.2 L466.0,1246.3 L467.5,1246.3 L469.0,1246.3 L470.5,1246.3 L472.0,1246.3 L473.5,1246.3 L475.0,1246.4 L476.5,1246.4 L478.0,1246.4 L479.5,1246.4 L481.0,1246.4 L482.5,1246.4 L484.0,1246.5 L485.5,1246.5 L487.0,1246.5 L488.5,1246.5 L490.0,1246.6 L491.5,1246.6 L493.0,1246.6 L494.5,1246.6 L496.0,1246.7 L497.5,1246.7 L499.0,1246.7 L500.5,1246.7 L502.0,1246.7 L503.5,1246.8 L505.0,1246.8 L506.5,1246.8 L508.0,1246.8 L509.5,1246.9 L511.0,1246.9 L512.5,1246.9 L514.0,1246.9 L515.5,1247.0 L517.0,1247.0 L518.5,1247.0 L520.0,1247.0 L521.5,1247.1 L523.0,1247.1 L524.5,1247.1 L526.0,1247.1 L527.5,1247.1 L529.0,1247.2 L530.5,1247.2 L532.0,1247.2 L533.5,1247.2 L535.0,1247.2 L536.5,1247.2 L538.0,1247.2 L539.5,1247.3 L541.0,1247.3 L542.5,1247.3 L544.0,1247.3 L545.5,1247.3 L547.0,1247.3 L548.5,1247.3 L550.0,1247.3 L551.5,1247.3 L553.0,1247.3 L554.5,1247.3 L556.0,1247.3 L557.5,1247.3 L559.0,1247.2 L560.5,1247.2 L562.0,1247.2 L563.5,1247.2 L565.0,1247.1 L566.5,1247.1 L568.0,1247.0 L569.5,1247.0 L571.0,1246.9 L572.5,1246.9 L574.0,1246.8 L575.5,1246.7 L577.0,1246.5 L578.5,1246.3 L580.0,1246.0 L581.5,1245.6 L583.0,1245.1 L584.5,1244.5 L586.0,1243.9 L587.5,1243.2 L589.0,1242.5 L590.5,1241.8 L592.0,1241.1 L593.5,1240.4 L595.0,1239.7 L596.5,1239.0 L598.0,1238.4 L599.5,1237.7 L601.0,1237.1 L602.5,1236.4 L604.0,1235.7 L605.5,1235.0 L607.0,1234.3 L608.5,1233.6 L610.0,1232.8 L611.5,1232.0 L613.0,1231.1 L614.5,1230.2 L616.0,1229.2 L617.5,1228.2 L619.0,1227.1 L620.5,1226.0 L622.0,1224.8 L623.5,1223.5 L625.0,1222.2 L626.5,1220.9 L628.0,1219.5 L629.5,1218.0 L631.0,1216.6 L632.5,1215.0 L634.0,1213.4 L635.5,1211.7 L637.0,1210.0 L638.5,1208.1 L640.0,1206.2 L641.5,1204.3 L643.0,1202.2 L644.5,1200.2 L646.0,1198.1 L647.5,1195.9 L649.0,1193.7 L650.5,1191.4 L652.0,1189.1 L653.5,1186.7 L655.0,1184.3 L656.5,1181.8 L658.0,1179.2 L659.5,1176.6 L661.0,1173.8 L662.5,1171.0 L664.0,1168.2 L665.5,1165.2 L667.0,1162.1 L668.5,1158.8 L670.0,1155.5 L671.5,1152.1 L673.0,1148.6 L674.5,1145.0 L676.0,1141.3 L677.5,1137.6 L679.0,1133.7 L680.5,1129.7 L682.0,1125.6 L683.5,1121.5 L685.0,1117.2 L686.5,1112.8 L688.0,1108.4 L689.5,1103.8 L691.0,1099.2 L692.5,1094.5 L694.0,1089.6 L695.5,1084.7 L697.0,1079.6 L698.5,1074.4 L700.0,1069.1 L701.5,1063.6 L703.0,1058.0 L704.5,1052.2 L706.0,1046.3 L707.5,1040.3 L709.0,1034.1 L710.5,1027.8 L712.0,1021.4 L713.5,1014.9 L715.0,1008.3 L716.5,1001.6 L718.0,994.8 L719.5,987.9 L721.0,980.9 L722.5,973.9 L724.0,966.7 L725.5,959.4 L727.0,952.1 L728.5,944.6 L730.0,937.0 L731.5,929.2 L733.0,921.4 L734.5,913.5 L736.0,905.4 L737.5,897.3 L739.0,889.1 L740.5,880.7 L742.0,872.3 L743.5,863.8 L745.0,855.1 L746.5,846.3 L748.0,837.5 L749.5,828.5 L751.0,819.5 L752.5,810.3 L754.0,801.2 L755.5,792.0 L757.0,782.7 L758.5,773.5 L760.0,764.2 L761.5,754.9 L763.0,745.6 L764.5,736.2 L766.0,726.7 L767.5,717.3 L769.0,707.7 L770.5,698.1 L772.0,688.5 L773.5,678.9 L775.0,669.3 L776.5,659.7 L778.0,650.2 L779.5,640.7 L781.0,631.3 L782.5,622.0 L784.0,612.8 L785.5,603.7 L787.0,594.6 L788.5,585.7 L790.0,576.8 L791.5,567.9 L793.0,559.2 L794.5,550.4 L796.0,541.8 L797.5,533.2 L799.0,524.6 L800.5,516.1 L802.0,507.7 L803.5,499.2 L805.0,490.8 L806.5,482.5 L808.0,474.3 L809.5,466.1 L811.0,458.0 L812.5,450.0 L814.0,442.1 L815.5,434.3 L817.0,426.5 L818.5,418.9 L820.0,411.2 L821.5,403.7 L823.0,396.1 L824.5,388.7 L826.0,381.4 L827.5,374.3 L829.0,367.4 L830.5,360.6 L832.0,354.1 L833.5,347.9 L835.0,341.9 L836.5,336.2 L838.0,330.6 L839.5,325.1 L841.0,319.9 L842.5,314.8 L844.0,310.0 L845.5,305.4 L847.0,301.1 L848.5,297.2 L850.0,293.5 L851.5,290.2 L853.0,287.2 L854.5,284.5 L856.0,282.0 L857.5,279.7 L859.0,277.5 L860.5,275.5 L862.0,273.7 L863.5,271.9 L865.0,270.3 L866.5,268.9 L868.0,267.5 L869.5,266.4 L871.0,265.5 L872.5,264.9 L874.0,264.6 L875.5,264.5 L877.0,264.8 L878.5,265.5 L880.0,266.4 L881.5,267.5 L883.0,268.8 L884.5,270.2 L886.0,271.7 L887.5,273.2 L889.0,274.7 L890.5,276.5 L892.0,278.4 L893.5,280.6 L895.0,283.0 L896.5,285.7 L898.0,288.7 L899.5,291.9 L901.0,295.4 L902.5,299.2 L904.0,303.2 L905.5,307.5 L907.0,311.9 L908.5,316.6 L910.0,321.4 L911.5,326.4 L913.0,331.4 L914.5,336.5 L916.0,341.6 L917.5,346.8 L919.0,352.0 L920.5,357.3 L922.0,362.6 L923.5,367.9 L925.0,373.3 L926.5,378.7 L928.0,384.1 L929.5,389.6 L931.0,395.1 L932.5,400.6 L934.0,406.3 L935.5,412.1 L937.0,418.0 L938.5,424.2 L940.0,430.6 L941.5,437.3 L943.0,444.3 L944.5,451.5 L946.0,458.9 L947.5,466.6 L949.0,474.4 L950.5,482.2 L952.0,490.0 L953.5,497.9 L955.0,505.6 L956.5,513.2 L958.0,520.7 L959.5,528.1 L961.0,535.3 L962.5,542.5 L964.0,549.7 L965.5,556.8 L967.0,563.8 L968.5,570.9 L970.0,577.9 L971.5,584.9 L973.0,591.9 L974.5,598.9 L976.0,606.0 L977.5,613.1 L979.0,620.2 L980.5,627.4 L982.0,634.7 L983.5,642.1 L985.0,649.5 L986.5,657.1 L988.0,664.6 L989.5,672.2 L991.0,679.7 L992.5,687.1 L994.0,694.4 L995.5,701.4 L997.0,708.3 L998.5,715.1 L1000.0,721.7 L1001.5,728.2 L1003.0,734.6 L1004.5,741.0 L1006.0,747.2 L1007.5,753.5 L1009.0,759.7 L1010.5,765.9 L1012.0,772.0 L1013.5,778.2 L1015.0,784.5 L1016.5,790.7 L1018.0,797.1 L1019.5,803.5 L1021.0,809.9 L1022.5,816.4 L1024.0,822.9 L1025.5,829.4 L1027.0,835.8 L1028.5,842.1 L1030.0,848.3 L1031.5,854.5 L1033.0,860.5 L1034.5,866.4 L1036.0,872.1 L1037.5,877.8 L1039.0,883.4 L1040.5,888.9 L1042.0,894.2 L1043.5,899.4 L1045.0,904.4 L1046.5,909.2 L1048.0,913.9 L1049.5,918.4 L1051.0,922.7 L1052.5,927.0 L1054.0,931.1 L1055.5,935.3 L1057.0,939.4 L1058.5,943.4 L1060.0,947.5 L1061.5,951.5 L1063.0,955.4 L1064.5,959.3 L1066.0,963.2 L1067.5,967.0 L1069.0,970.7 L1070.5,974.5 L1072.0,978.1 L1073.5,981.8 L1075.0,985.4 L1076.5,988.9 L1078.0,992.4 L1079.5,995.9 L1081.0,999.3 L1082.5,1002.7 L1084.0,1006.0 L1085.5,1009.3 L1087.0,1012.6 L1088.5,1015.8 L1090.0,1019.0 L1091.5,1022.1 L1093.0,1025.2 L1094.5,1028.2 L1096.0,1031.3 L1097.5,1034.2 L1099.0,1037.2 L1100.5,1040.1 L1102.0,1042.9 L1103.5,1045.7 L1105.0,1048.5 L1106.5,1051.3 L1108.0,1054.0 L1109.5,1056.7 L1111.0,1059.3 L1112.5,1061.9 L1114.0,1064.5 L1115.5,1067.0 L1117.0,1069.5 L1118.5,1072.0 L1120.0,1074.4 L1121.5,1076.8 L1123.0,1079.2 L1124.5,1081.5 L1126.0,1083.8 L1127.5,1086.1 L1129.0,1088.3 L1130.5,1090.5 L1132.0,1092.7 L1133.5,1094.9 L1135.0,1097.0 L1136.5,1099.1 L1138.0,1101.1 L1139.5,1103.1 L1141.0,1105.1 L1142.5,1107.1 L1144.0,1109.0 L1145.5,1110.9 L1147.0,1112.8 L1148.5,1114.7 L1150.0,1116.5 L1151.5,1118.3 L1153.0,1120.1 L1154.5,1121.8 L1156.0,1123.5 L1157.5,1125.2 L1159.0,1126.9 L1160.5,1128.5 L1162.0,1130.2 L1163.5,1131.8 L1165.0,1133.3 L1166.5,1134.9 L1168.0,1136.4 L1169.5,1137.8 L1171.0,1139.3 L1172.5,1140.7 L1174.0,1142.2 L1175.5,1143.6 L1177.0,1145.0 L1178.5,1146.3 L1180.0,1147.7 L1181.5,1149.0 L1183.0,1150.3 L1184.5,1151.6 L1186.0,1152.8 L1187.5,1154.1 L1189.0,1155.3 L1190.5,1156.5 L1192.0,1157.7 L1193.5,1158.9 L1195.0,1160.0 L1196.5,1161.1 L1198.0,1162.2 L1199.5,1163.3 L1201.0,1164.4 L1202.5,1165.4 L1204.0,1166.5 L1205.5,1167.5 L1207.0,1168.5 L1208.5,1169.4 L1210.0,1170.4 L1211.5,1171.4 L1213.0,1172.3 L1214.5,1173.2 L1216.0,1174.2 L1217.5,1175.1 L1219.0,1176.0 L1220.5,1176.8 L1222.0,1177.7 L1223.5,1178.5 L1225.0,1179.4 L1226.5,1180.2 L1228.0,1181.0 L1229.5,1181.8 L1231.0,1182.5 L1232.5,1183.3 L1234.0,1184.1 L1235.5,1184.8 L1237.0,1185.5 L1238.5,1186.3 L1240.0,1187.0 L1241.5,1187.7 L1243.0,1188.4 L1244.5,1189.1 L1246.0,1189.8 L1247.5,1190.4 L1249.0,1191.1 L1250.5,1191.7 L1252.0,1192.4 L1253.5,1193.0 L1255.0,1193.6 L1256.5,1194.2 L1258.0,1194.8 L1259.5,1195.4 L1261.0,1196.0 L1262.5,1196.5 L1264.0,1197.1 L1265.5,1197.6 L1267.0,1198.2 L1268.5,1198.7 L1270.0,1199.2 L1271.5,1199.7 L1273.0,1200.3 L1274.5,1200.8 L1276.0,1201.2 L1277.5,1201.7 L1279.0,1202.2 L1280.5,1202.7 L1282.0,1203.1 L1283.5,1203.6 L1285.0,1204.0 L1286.5,1204.5 L1288.0,1204.9 L1289.5,1205.3 L1291.0,1205.8 L1292.5,1206.2 L1294.0,1206.6 L1295.5,1207.0 L1297.0,1207.4 L1298.5,1207.7 L1300.0,1208.1 L1301.5,1208.5 L1303.0,1208.9 L1304.5,1209.2 L1306.0,1209.6 L1307.5,1209.9 L1309.0,1210.3 L1310.5,1210.6 L1312.0,1211.0 L1313.5,1211.3 L1315.0,1211.6 L1316.5,1211.9 L1318.0,1212.3 L1319.5,1212.6 L1321.0,1212.9 L1322.5,1213.2 L1324.0,1213.5 L1325.5,1213.8 L1327.0,1214.1 L1328.5,1214.4 L1330.0,1214.7 L1331.5,1214.9 L1333.0,1215.2 L1334.5,1215.5 L1336.0,1215.8 L1337.5,1216.0 L1339.0,1216.3 L1340.5,1216.6 L1342.0,1216.8 L1343.5,1217.1 L1345.0,1217.3 L1346.5,1217.6 L1348.0,1217.8 L1349.5,1218.1 L1351.0,1218.3 L1352.5,1218.6 L1354.0,1218.8 L1355.5,1219.1 L1357.0,1219.3 L1358.5,1219.6 L1360.0,1219.8 L1361.5,1220.1 L1363.0,1220.3 L1364.5,1220.6 L1366.0,1220.8 L1367.5,1221.1 L1369.0,1221.3 L1370.5,1221.6 L1372.0,1221.8 L1373.5,1222.1 L1375.0,1222.3 L1376.5,1222.5 L1378.0,1222.8 L1379.5,1223.0 L1381.0,1223.3 L1382.5,1223.5 L1384.0,1223.7 L1385.5,1224.0 L1387.0,1224.2 L1388.5,1224.5 L1390.0,1224.7 L1391.5,1224.9 L1393.0,1225.1 L1394.5,1225.4 L1396.0,1225.6 L1397.5,1225.8 L1399.0,1225.9 L1400.0,1226.1"/>
<path d="M193.0,1245.2 L194.5,1245.2 L196.0,1245.2 L197.5,1245.2 L199.0,1245.2 L200.5,1245.2 L202.0,1245.2 L203.5,1245.2 L205.0,1245.2 L206.5,1245.2 L208.0,1245.2 L209.5,1245.2 L211.0,1245.2 L212.5,1245.2 L214.0,1245.2 L215.5,1245.2 L217.0,1245.2 L218.5,1245.2 L220.0,1245.2 L221.5,1245.2 L223.0,1245.2 L224.5,1245.2 L226.0,1245.2 L227.5,1245.2 L229.0,1245.2 L230.5,1245.2 L232.0,1245.2 L233.5,1245.2 L235.0,1245.2 L236.5,1245.2 L238.0,1245.2 L239.5,1245.2 L241.0,1245.2 L242.5,1245.2 L244.0,1245.3 L245.5,1245.3 L247.0,1245.3 L248.5,1245.3 L250.0,1245.3 L251.5,1245.3 L253.0,1245.3 L254.5,1245.3 L256.0,1245.3 L257.5,1245.3 L259.0,1245.3 L260.5,1245.3 L262.0,1245.3 L263.5,1245.3 L265.0,1245.3 L266.5,1245.3 L268.0,1245.3 L269.5,1245.3 L271.0,1245.3 L272.5,1245.3 L274.0,1245.3 L275.5,1245.3 L277.0,1245.3 L278.5,1245.3 L280.0,1245.3 L281.5,1245.3 L283.0,1245.4 L284.5,1245.4 L286.0,1245.4 L287.5,1245.4 L289.0,1245.4 L290.5,1245.4 L292.0,1245.4 L293.5,1245.4 L295.0,1245.4 L296.5,1245.4 L298.0,1245.4 L299.5,1245.4 L301.0,1245.4 L302.5,1245.4 L304.0,1245.4 L305.5,1245.4 L307.0,1245.4 L308.5,1245.4 L310.0,1245.5 L311.5,1245.5 L313.0,1245.5 L314.5,1245.5 L316.0,1245.5 L317.5,1245.5 L319.0,1245.5 L320.5,1245.5 L322.0,1245.5 L323.5,1245.5 L325.0,1245.5 L326.5,1245.5 L328.0,1245.5 L329.5,1245.5 L331.0,1245.5 L332.5,1245.5 L334.0,1245.6 L335.5,1245.6 L337.0,1245.6 L338.5,1245.6 L340.0,1245.6 L341.5,1245.6 L343.0,1245.6 L344.5,1245.6 L346.0,1245.6 L347.5,1245.6 L349.0,1245.6 L350.5,1245.6 L352.0,1245.6 L353.5,1245.6 L355.0,1245.7 L356.5,1245.7 L358.0,1245.7 L359.5,1245.7 L361.0,1245.7 L362.5,1245.7 L364.0,1245.7 L365.5,1245.7 L367.0,1245.7 L368.5,1245.7 L370.0,1245.7 L371.5,1245.7 L373.0,1245.7 L374.5,1245.8 L376.0,1245.8 L377.5,1245.8 L379.0,1245.8 L380.5,1245.8 L382.0,1245.8 L383.5,1245.8 L385.0,1245.8 L386.5,1245.8 L388.0,1245.8 L389.5,1245.8 L391.0,1245.8 L392.5,1245.8 L394.0,1245.9 L395.5,1245.9 L397.0,1245.9 L398.5,1245.9 L400.0,1245.9 L401.5,1245.9 L403.0,1245.9 L404.5,1245.9 L406.0,1245.9 L407.5,1245.9 L409.0,1245.9 L410.5,1245.9 L412.0,1246.0 L413.5,1246.0 L415.0,1246.0 L416.5,1246.0 L418.0,1246.0 L419.5,1246.0 L421.0,1246.0 L422.5,1246.0 L424.0,1246.0 L425.5,1246.0 L427.0,1246.0 L428.5,1246.1 L430.0,1246.1 L431.5,1246.1 L433.0,1246.1 L434.5,1246.1 L436.0,1246.1 L437.5,1246.1 L439.0,1246.1 L440.5,1246.1 L442.0,1246.1 L443.5,1246.1 L445.0,1246.1 L446.5,1246.2 L448.0,1246.2 L449.5,1246.2 L451.0,1246.2 L452.5,1246.2 L454.0,1246.2 L455.5,1246.2 L457.0,1246.2 L458.5,1246.2 L460.0,1246.2 L461.5,1246.2 L463.0,1246.3 L464.5,1246.3 L466.0,1246.3 L467.5,1246.3 L469.0,1246.3 L470.5,1246.3 L472.0,1246.3 L473.5,1246.3 L475.0,1246.3 L476.5,1246.3 L478.0,1246.4 L479.5,1246.4 L481.0,1246.4 L482.5,1246.4 L484.0,1246.4 L485.5,1246.4 L487.0,1246.4 L488.5,1246.5 L490.0,1246.5 L491.5,1246.5 L493.0,1246.5 L494.5,1246.5 L496.0,1246.5 L497.5,1246.6 L499.0,1246.6 L500.5,1246.6 L502.0,1246.6 L503.5,1246.6 L505.0,1246.7 L506.5,1246.7 L508.0,1246.7 L509.5,1246.7 L511.0,1246.7 L512.5,1246.8 L514.0,1246.8 L515.5,1246.8 L517.0,1246.8 L518.5,1246.8 L520.0,1246.9 L521.5,1246.9 L523.0,1246.9 L524.5,1246.9 L526.0,1246.9 L527.5,1247.0 L529.0,1247.0 L530.5,1247.0 L532.0,1247.0 L533.5,1247.0 L535.0,1247.1 L536.5,1247.1 L538.0,1247.1 L539.5,1247.1 L541.0,1247.1 L542.5,1247.1 L544.0,1247.1 L545.5,1247.2 L547.0,1247.2 L548.5,1247.2 L550.0,1247.2 L551.5,1247.2 L553.0,1247.2 L554.5,1247.2 L556.0,1247.2 L557.5,1247.3 L559.0,1247.3 L560.5,1247.3 L562.0,1247.3 L563.5,1247.3 L565.0,1247.3 L566.5,1247.3 L568.0,1247.3 L569.5,1247.3 L571.0,1247.3 L572.5,1247.3 L574.0,1247.3 L575.5,1247.3 L577.0,1247.3 L578.5,1247.3 L580.0,1247.2 L581.5,1247.2 L583.0,1247.2 L584.5,1247.1 L586.0,1247.1 L587.5,1247.1 L589.0,1247.0 L590.5,1247.0 L592.0,1246.9 L593.5,1246.8 L595.0,1246.7 L596.5,1246.6 L598.0,1246.3 L599.5,1246.0 L601.0,1245.5 L602.5,1244.9 L604.0,1244.3 L605.5,1243.5 L607.0,1242.7 L608.5,1241.9 L610.0,1241.1 L611.5,1240.3 L613.0,1239.6 L614.5,1238.9 L616.0,1238.2 L617.5,1237.5 L619.0,1236.8 L620.5,1236.1 L622.0,1235.4 L623.5,1234.6 L625.0,1233.9 L626.5,1233.1 L628.0,1232.3 L629.5,1231.4 L631.0,1230.5 L632.5,1229.6 L634.0,1228.5 L635.5,1227.5 L637.0,1226.3 L638.5,1225.1 L640.0,1223.9 L641.5,1222.6 L643.0,1221.2 L644.5,1219.8 L646.0,1218.4 L647.5,1216.9 L649.0,1215.4 L650.5,1213.8 L652.0,1212.2 L653.5,1210.5 L655.0,1208.8 L656.5,1207.0 L658.0,1205.1 L659.5,1203.2 L661.0,1201.2 L662.5,1199.2 L664.0,1197.2 L665.5,1195.0 L667.0,1192.9 L668.5,1190.6 L670.0,1188.3 L671.5,1186.0 L673.0,1183.6 L674.5,1181.2 L676.0,1178.7 L677.5,1176.1 L679.0,1173.5 L680.5,1170.8 L682.0,1168.0 L683.5,1165.2 L685.0,1162.2 L686.5,1159.2 L688.0,1156.1 L689.5,1152.9 L691.0,1149.6 L692.5,1146.2 L694.0,1142.6 L695.5,1139.0 L697.0,1135.2 L698.5,1131.2 L700.0,1127.1 L701.5,1122.9 L703.0,1118.5 L704.5,1114.0 L706.0,1109.4 L707.5,1104.7 L709.0,1099.9 L710.5,1095.1 L712.0,1090.0 L713.5,1084.9 L715.0,1079.7 L716.5,1074.3 L718.0,1068.8 L719.5,1063.2 L721.0,1057.5 L722.5,1051.8 L724.0,1045.9 L725.5,1040.0 L727.0,1034.0 L728.5,1027.8 L730.0,1021.7 L731.5,1015.4 L733.0,1009.0 L734.5,1002.6 L736.0,996.1 L737.5,989.5 L739.0,982.9 L740.5,976.1 L742.0,969.3 L743.5,962.4 L745.0,955.4 L746.5,948.3 L748.0,941.1 L749.5,933.8 L751.0,926.4 L752.5,918.9 L754.0,911.3 L755.5,903.5 L757.0,895.7 L758.5,887.8 L760.0,879.7 L761.5,871.5 L763.0,863.2 L764.5,854.8 L766.0,846.2 L767.5,837.5 L769.0,828.7 L770.5,819.7 L772.0,810.8 L773.5,801.7 L775.0,792.7 L776.5,783.5 L778.0,774.4 L779.5,765.3 L781.0,756.1 L782.5,746.9 L784.0,737.7 L785.5,728.4 L787.0,719.1 L788.5,709.7 L790.0,700.2 L791.5,690.7 L793.0,681.3 L794.5,671.8 L796.0,662.3 L797.5,653.0 L799.0,643.6 L800.5,634.4 L802.0,625.2 L803.5,616.2 L805.0,607.2 L806.5,598.4 L808.0,589.6 L809.5,580.9 L811.0,572.3 L812.5,563.8 L814.0,555.3 L815.5,546.9 L817.0,538.5 L818.5,530.2 L820.0,522.0 L821.5,513.8 L823.0,505.6 L824.5,497.5 L826.0,489.4 L827.5,481.4 L829.0,473.5 L830.5,465.6 L832.0,457.8 L833.5,450.1 L835.0,442.6 L836.5,435.1 L838.0,427.7 L839.5,420.3 L841.0,413.1 L842.5,405.8 L844.0,398.7 L845.5,391.6 L847.0,384.6 L848.5,377.7 L850.0,371.0 L851.5,364.5 L853.0,358.1 L854.5,352.0 L856.0,346.1 L857.5,340.3 L859.0,334.7 L860.5,329.3 L862.0,324.0 L863.5,318.8 L865.0,313.8 L866.5,309.1 L868.0,304.5 L869.5,300.3 L871.0,296.4 L872.5,292.9 L874.0,289.6 L875.5,286.7 L877.0,284.0 L878.5,281.6 L880.0,279.3 L881.5,277.2 L883.0,275.1 L884.5,273.2 L886.0,271.5 L887.5,269.8 L889.0,268.3 L890.5,267.0 L892.0,265.9 L893.5,265.1 L895.0,264.6 L896.5,264.4 L898.0,264.4 L899.5,264.7 L901.0,265.3 L902.5,266.1 L904.0,267.1 L905.5,268.2 L907.0,269.5 L908.5,270.8 L910.0,272.0 L911.5,273.4 L913.0,274.8 L914.5,276.4 L916.0,278.2 L917.5,280.2 L919.0,282.6 L920.5,285.3 L922.0,288.4 L923.5,291.6 L925.0,295.2 L926.5,299.0 L928.0,303.1 L929.5,307.4 L931.0,311.9 L932.5,316.6 L934.0,321.4 L935.5,326.3 L937.0,331.2 L938.5,336.1 L940.0,340.9 L941.5,345.7 L943.0,350.5 L944.5,355.3 L946.0,360.0 L947.5,364.8 L949.0,369.6 L950.5,374.5 L952.0,379.4 L953.5,384.3 L955.0,389.2 L956.5,394.2 L958.0,399.2 L959.5,404.3 L961.0,409.5 L962.5,414.9 L964.0,420.5 L965.5,426.4 L967.0,432.6 L968.5,439.1 L970.0,446.0 L971.5,453.2 L973.0,460.7 L974.5,468.4 L976.0,476.2 L977.5,484.2 L979.0,492.1 L980.5,500.1 L982.0,507.9 L983.5,515.7 L985.0,523.3 L986.5,530.8 L988.0,538.3 L989.5,545.7 L991.0,553.0 L992.5,560.4 L994.0,567.7 L995.5,575.0 L997.0,582.4 L998.5,589.7 L1000.0,597.1 L1001.5,604.5 L1003.0,611.9 L1004.5,619.4 L1006.0,627.0 L1007.5,634.6 L1009.0,642.3 L1010.5,650.2 L1012.0,658.1 L1013.5,666.1 L1015.0,674.0 L1016.5,681.9 L1018.0,689.6 L1019.5,697.2 L1021.0,704.5 L1022.5,711.7 L1024.0,718.7 L1025.5,725.5 L1027.0,732.3 L1028.5,738.9 L1030.0,745.5 L1031.5,752.0 L1033.0,758.5 L1034.5,765.0 L1036.0,771.4 L1037.5,777.9 L1039.0,784.4 L1040.5,790.9 L1042.0,797.5 L1043.5,804.2 L1045.0,810.9 L1046.5,817.7 L1048.0,824.5 L1049.5,831.3 L1051.0,837.9 L1052.5,844.5 L1054.0,850.8 L1055.5,857.1 L1057.0,863.2 L1058.5,869.1 L1060.0,875.0 L1061.5,880.7 L1063.0,886.2 L1064.5,891.7 L1066.0,896.9 L1067.5,902.1 L1069.0,907.0 L1070.5,911.8 L1072.0,916.3 L1073.5,920.7 L1075.0,924.9 L1076.5,928.8 L1078.0,932.5 L1079.5,936.1 L1081.0,939.6 L1082.5,943.0 L1084.0,946.3 L1085.5,949.7 L1087.0,953.2 L1088.5,956.7 L1090.0,960.2 L1091.5,963.8 L1093.0,967.4 L1094.5,971.0 L1096.0,974.6 L1097.5,978.2 L1099.0,981.8 L1100.5,985.4 L1102.0,989.0 L1103.5,992.5 L1105.0,996.1 L1106.5,999.6 L1108.0,1003.1 L1109.5,1006.6 L1111.0,1010.0 L1112.5,1013.4 L1114.0,1016.7 L1115.5,1020.0 L1117.0,1023.2 L1118.5,1026.4 L1120.0,1029.5 L1121.5,1032.6 L1123.0,1035.6 L1124.5,1038.6 L1126.0,1041.5 L1127.5,1044.4 L1129.0,1047.2 L1130.5,1049.9 L1132.0,1052.7 L1133.5,1055.3 L1135.0,1057.9 L1136.5,1060.5 L1138.0,1063.0 L1139.5,1065.5 L1141.0,1067.9 L1142.5,1070.3 L1144.0,1072.7 L1145.5,1075.0 L1147.0,1077.3 L1148.5,1079.5 L1150.0,1081.7 L1151.5,1083.9 L1153.0,1086.0 L1154.5,1088.1 L1156.0,1090.1 L1157.5,1092.2 L1159.0,1094.2 L1160.5,1096.2 L1162.0,1098.1 L1163.5,1100.0 L1165.0,1101.9 L1166.5,1103.8 L1168.0,1105.6 L1169.5,1107.5 L1171.0,1109.3 L1172.5,1111.0 L1174.0,1112.8 L1175.5,1114.5 L1177.0,1116.2 L1178.5,1117.9 L1180.0,1119.5 L1181.5,1121.1 L1183.0,1122.7 L1184.5,1124.3 L1186.0,1125.9 L1187.5,1127.4 L1189.0,1128.9 L1190.5,1130.4 L1192.0,1131.9 L1193.5,1133.4 L1195.0,1134.8 L1196.5,1136.3 L1198.0,1137.7 L1199.5,1139.1 L1201.0,1140.5 L1202.5,1141.8 L1204.0,1143.1 L1205.5,1144.4 L1207.0,1145.7 L1208.5,1146.9 L1210.0,1148.2 L1211.5,1149.4 L1213.0,1150.6 L1214.5,1151.8 L1216.0,1153.0 L1217.5,1154.2 L1219.0,1155.3 L1220.5,1156.5 L1222.0,1157.6 L1223.5,1158.7 L1225.0,1159.8 L1226.5,1160.8 L1228.0,1161.8 L1229.5,1162.8 L1231.0,1163.8 L1232.5,1164.8 L1234.0,1165.8 L1235.5,1166.8 L1237.0,1167.7 L1238.5,1168.6 L1240.0,1169.5 L1241.5,1170.5 L1243.0,1171.4 L1244.5,1172.2 L1246.0,1173.1 L1247.5,1174.0 L1249.0,1174.8 L1250.5,1175.6 L1252.0,1176.4 L1253.5,1177.2 L1255.0,1178.0 L1256.5,1178.8 L1258.0,1179.5 L1259.5,1180.3 L1261.0,1181.0 L1262.5,1181.7 L1264.0,1182.4 L1265.5,1183.1 L1267.0,1183.8 L1268.5,1184.5 L1270.0,1185.1 L1271.5,1185.8 L1273.0,1186.4 L1274.5,1187.0 L1276.0,1187.7 L1277.5,1188.3 L1279.0,1188.9 L1280.5,1189.5 L1282.0,1190.0 L1283.5,1190.6 L1285.0,1191.2 L1286.5,1191.7 L1288.0,1192.3 L1289.5,1192.8 L1291.0,1193.3 L1292.5,1193.8 L1294.0,1194.4 L1295.5,1194.9 L1297.0,1195.3 L1298.5,1195.8 L1300.0,1196.3 L1301.5,1196.8 L1303.0,1197.2 L1304.5,1197.7 L1306.0,1198.1 L1307.5,1198.6 L1309.0,1199.0 L1310.5,1199.4 L1312.0,1199.9 L1313.5,1200.3 L1315.0,1200.7 L1316.5,1201.1 L1318.0,1201.5 L1319.5,1201.9 L1321.0,1202.3 L1322.5,1202.7 L1324.0,1203.1 L1325.5,1203.5 L1327.0,1203.9 L1328.5,1204.2 L1330.0,1204.6 L1331.5,1205.0 L1333.0,1205.3 L1334.5,1205.7 L1336.0,1206.0 L1337.5,1206.4 L1339.0,1206.7 L1340.5,1207.1 L1342.0,1207.4 L1343.5,1207.7 L1345.0,1208.1 L1346.5,1208.4 L1348.0,1208.7 L1349.5,1209.1 L1351.0,1209.4 L1352.5,1209.8 L1354.0,1210.1 L1355.5,1210.5 L1357.0,1210.8 L1358.5,1211.2 L1360.0,1211.5 L1361.5,1211.9 L1363.0,1212.2 L1364.5,1212.6 L1366.0,1212.9 L1367.5,1213.3 L1369.0,1213.6 L1370.5,1214.0 L1372.0,1214.3 L1373.5,1214.7 L1375.0,1215.0 L1376.5,1215.4 L1378.0,1215.8 L1379.5,1216.1 L1381.0,1216.5 L1382.5,1216.8 L1384.0,1217.2 L1385.5,1217.5 L1387.0,1217.9 L1388.5,1218.2 L1390.0,1218.6 L1391.5,1219.0 L1393.0,1219.3 L1394.5,1219.7 L1396.0,1220.0 L1397.5,1220.3 L1399.0,1220.6 L1400.0,1220.8"/>
<path d="M193.0,1243.0 L194.5,1243.0 L196.0,1243.0 L197.5,1243.1 L199.0,1243.1 L200.5,1243.1 L202.0,1243.1 L203.5,1243.1 L205.0,1243.2 L206.5,1243.2 L208.0,1243.2 L209.5,1243.2 L211.0,1243.2 L212.5,1243.3 L214.0,1243.3 L215.5,1243.3 L217.0,1243.3 L218.5,1243.3 L220.0,1243.4 L221.5,1243.4 L223.0,1243.4 L224.5,1243.4 L226.0,1243.4 L227.5,1243.5 L229.0,1243.5 L230.5,1243.5 L232.0,1243.5 L233.5,1243.5 L235.0,1243.6 L236.5,1243.6 L238.0,1243.6 L239.5,1243.6 L241.0,1243.6 L242.5,1243.7 L244.0,1243.7 L245.5,1243.7 L247.0,1243.7 L248.5,1243.7 L250.0,1243.8 L251.5,1243.8 L253.0,1243.8 L254.5,1243.8 L256.0,1243.8 L257.5,1243.9 L259.0,1243.9 L260.5,1243.9 L262.0,1243.9 L263.5,1243.9 L265.0,1244.0 L266.5,1244.0 L268.0,1244.0 L269.5,1244.0 L271.0,1244.0 L272.5,1244.1 L274.0,1244.1 L275.5,1244.1 L277.0,1244.1 L278.5,1244.1 L280.0,1244.2 L281.5,1244.2 L283.0,1244.2 L284.5,1244.2 L286.0,1244.2 L287.5,1244.3 L289.0,1244.3 L290.5,1244.3 L292.0,1244.3 L293.5,1244.3 L295.0,1244.3 L296.5,1244.4 L298.0,1244.4 L299.5,1244.4 L301.0,1244.4 L302.5,1244.4 L304.0,1244.5 L305.5,1244.5 L307.0,1244.5 L308.5,1244.5 L310.0,1244.5 L311.5,1244.6 L313.0,1244.6 L314.5,1244.6 L316.0,1244.6 L317.5,1244.6 L319.0,1244.7 L320.5,1244.7 L322.0,1244.7 L323.5,1244.7 L325.0,1244.7 L326.5,1244.7 L328.0,1244.8 L329.5,1244.8 L331.0,1244.8 L332.5,1244.8 L334.0,1244.8 L335.5,1244.9 L337.0,1244.9 L338.5,1244.9 L340.0,1244.9 L341.5,1244.9 L343.0,1245.0 L344.5,1245.0 L346.0,1245.0 L347.5,1245.0 L349.0,1245.0 L350.5,1245.0 L352.0,1245.1 L353.5,1245.1 L355.0,1245.1 L356.5,1245.1 L358.0,1245.1 L359.5,1245.2 L361.0,1245.2 L362.5,1245.2 L364.0,1245.2 L365.5,1245.2 L367.0,1245.3 L368.5,1245.3 L370.0,1245.3 L371.5,1245.3 L373.0,1245.3 L374.5,1245.3 L376.0,1245.4 L377.5,1245.4 L379.0,1245.4 L380.5,1245.4 L382.0,1245.4 L383.5,1245.5 L385.0,1245.5 L386.5,1245.5 L388.0,1245.5 L389.5,1245.5 L391.0,1245.5 L392.5,1245.6 L394.0,1245.6 L395.5,1245.6 L397.0,1245.6 L398.5,1245.6 L400.0,1245.7 L401.5,1245.7 L403.0,1245.7 L404.5,1245.7 L406.0,1245.7 L407.5,1245.7 L409.0,1245.8 L410.5,1245.8 L412.0,1245.8 L413.5,1245.8 L415.0,1245.8 L416.5,1245.9 L418.0,1245.9 L419.5,1245.9 L421.0,1245.9 L422.5,1245.9 L424.0,1245.9 L425.5,1246.0 L427.0,1246.0 L428.5,1246.0 L430.0,1246.0 L431.5,1246.0 L433.0,1246.1 L434.5,1246.1 L436.0,1246.1 L437.5,1246.1 L439.0,1246.1 L440.5,1246.1 L442.0,1246.2 L443.5,1246.2 L445.0,1246.2 L446.5,1246.2 L448.0,1246.2 L449.5,1246.3 L451.0,1246.3 L452.5,1246.3 L454.0,1246.3 L455.5,1246.3 L457.0,1246.3 L458.5,1246.4 L460.0,1246.4 L461.5,1246.4 L463.0,1246.4 L464.5,1246.4 L466.0,1246.5 L467.5,1246.5 L469.0,1246.5 L470.5,1246.5 L472.0,1246.5 L473.5,1246.5 L475.0,1246.6 L476.5,1246.6 L478.0,1246.6 L479.5,1246.6 L481.0,1246.6 L482.5,1246.7 L484.0,1246.7 L485.5,1246.7 L487.0,1246.7 L488.5,1246.8 L490.0,1246.8 L491.5,1246.8 L493.0,1246.8 L494.5,1246.8 L496.0,1246.9 L497.5,1246.9 L499.0,1246.9 L500.5,1246.9 L502.0,1247.0 L503.5,1247.0 L505.0,1247.0 L506.5,1247.0 L508.0,1247.0 L509.5,1247.1 L511.0,1247.1 L512.5,1247.1 L514.0,1247.1 L515.5,1247.2 L517.0,1247.2 L518.5,1247.2 L520.0,1247.2 L521.5,1247.2 L523.0,1247.2 L524.5,1247.3 L526.0,1247.3 L527.5,1247.3 L529.0,1247.3 L530.5,1247.3 L532.0,1247.4 L533.5,1247.4 L535.0,1247.4 L536.5,1247.4 L538.0,1247.4 L539.5,1247.4 L541.0,1247.4 L542.5,1247.4 L544.0,1247.5 L545.5,1247.5 L547.0,1247.5 L548.5,1247.5 L550.0,1247.5 L551.5,1247.5 L553.0,1247.5 L554.5,1247.5 L556.0,1247.5 L557.5,1247.5 L559.0,1247.5 L560.5,1247.5 L562.0,1247.5 L563.5,1247.5 L565.0,1247.5 L566.5,1247.5 L568.0,1247.5 L569.5,1247.5 L571.0,1247.5 L572.5,1247.5 L574.0,1247.4 L575.5,1247.4 L577.0,1247.4 L578.5,1247.4 L580.0,1247.4 L581.5,1247.4 L583.0,1247.4 L584.5,1247.4 L586.0,1247.3 L587.5,1247.3 L589.0,1247.3 L590.5,1247.3 L592.0,1247.3 L593.5,1247.2 L595.0,1247.2 L596.5,1247.2 L598.0,1247.2 L599.5,1247.1 L601.0,1247.1 L602.5,1247.1 L604.0,1247.1 L605.5,1247.0 L607.0,1247.0 L608.5,1247.0 L610.0,1246.9 L611.5,1246.9 L613.0,1246.9 L614.5,1246.8 L616.0,1246.8 L617.5,1246.8 L619.0,1246.7 L620.5,1246.7 L622.0,1246.7 L623.5,1246.6 L625.0,1246.6 L626.5,1246.5 L628.0,1246.5 L629.5,1246.4 L631.0,1246.3 L632.5,1246.2 L634.0,1246.1 L635.5,1245.9 L637.0,1245.8 L638.5,1245.6 L640.0,1245.4 L641.5,1245.1 L643.0,1244.9 L644.5,1244.6 L646.0,1244.3 L647.5,1244.0 L649.0,1243.7 L650.5,1243.4 L652.0,1243.0 L653.5,1242.7 L655.0,1242.3 L656.5,1241.9 L658.0,1241.5 L659.5,1241.1 L661.0,1240.7 L662.5,1240.2 L664.0,1239.8 L665.5,1239.4 L667.0,1238.9 L668.5,1238.4 L670.0,1237.9 L671.5,1237.4 L673.0,1236.9 L674.5,1236.3 L676.0,1235.6 L677.5,1234.9 L679.0,1234.2 L680.5,1233.4 L682.0,1232.5 L683.5,1231.7 L685.0,1230.8 L686.5,1229.8 L688.0,1228.8 L689.5,1227.8 L691.0,1226.7 L692.5,1225.6 L694.0,1224.5 L695.5,1223.2 L697.0,1221.9 L698.5,1220.6 L700.0,1219.1 L701.5,1217.5 L703.0,1215.9 L704.5,1214.2 L706.0,1212.5 L707.5,1210.7 L709.0,1208.9 L710.5,1207.0 L712.0,1205.1 L713.5,1203.2 L715.0,1201.3 L716.5,1199.3 L718.0,1197.3 L719.5,1195.2 L721.0,1193.1 L722.5,1191.0 L724.0,1188.8 L725.5,1186.6 L727.0,1184.2 L728.5,1181.9 L730.0,1179.4 L731.5,1176.9 L733.0,1174.3 L734.5,1171.6 L736.0,1168.9 L737.5,1166.1 L739.0,1163.1 L740.5,1160.1 L742.0,1157.0 L743.5,1153.8 L745.0,1150.4 L746.5,1147.0 L748.0,1143.5 L749.5,1140.0 L751.0,1136.3 L752.5,1132.6 L754.0,1128.7 L755.5,1124.8 L757.0,1120.7 L758.5,1116.6 L760.0,1112.3 L761.5,1107.8 L763.0,1103.3 L764.5,1098.6 L766.0,1093.9 L767.5,1089.0 L769.0,1084.1 L770.5,1079.1 L772.0,1074.0 L773.5,1068.9 L775.0,1063.8 L776.5,1058.5 L778.0,1053.3 L779.5,1048.0 L781.0,1042.7 L782.5,1037.3 L784.0,1031.9 L785.5,1026.4 L787.0,1020.8 L788.5,1015.2 L790.0,1009.5 L791.5,1003.7 L793.0,997.8 L794.5,991.8 L796.0,985.6 L797.5,979.4 L799.0,973.1 L800.5,966.6 L802.0,960.0 L803.5,953.2 L805.0,946.2 L806.5,939.0 L808.0,931.6 L809.5,923.8 L811.0,915.8 L812.5,907.5 L814.0,899.0 L815.5,890.2 L817.0,881.3 L818.5,872.1 L820.0,862.8 L821.5,853.5 L823.0,844.0 L824.5,834.5 L826.0,825.0 L827.5,815.6 L829.0,806.1 L830.5,796.8 L832.0,787.6 L833.5,778.6 L835.0,769.7 L836.5,760.9 L838.0,752.4 L839.5,744.0 L841.0,735.8 L842.5,727.6 L844.0,719.6 L845.5,711.6 L847.0,703.7 L848.5,695.7 L850.0,687.8 L851.5,679.8 L853.0,671.8 L854.5,663.7 L856.0,655.5 L857.5,647.1 L859.0,638.6 L860.5,629.9 L862.0,621.1 L863.5,612.0 L865.0,602.6 L866.5,593.0 L868.0,583.2 L869.5,573.2 L871.0,562.9 L872.5,552.5 L874.0,541.9 L875.5,531.1 L877.0,520.0 L878.5,508.7 L880.0,497.3 L881.5,486.1 L883.0,475.3 L884.5,465.2 L886.0,455.9 L887.5,447.4 L889.0,439.6 L890.5,432.3 L892.0,425.5 L893.5,418.8 L895.0,412.4 L896.5,406.0 L898.0,399.8 L899.5,393.7 L901.0,387.7 L902.5,381.9 L904.0,376.1 L905.5,370.4 L907.0,364.8 L908.5,359.3 L910.0,353.9 L911.5,348.7 L913.0,343.6 L914.5,338.8 L916.0,334.2 L917.5,329.8 L919.0,325.7 L920.5,321.7 L922.0,317.8 L923.5,314.1 L925.0,310.4 L926.5,306.7 L928.0,303.1 L929.5,299.5 L931.0,295.8 L932.5,292.2 L934.0,288.6 L935.5,285.1 L937.0,281.9 L938.5,279.0 L940.0,276.5 L941.5,274.2 L943.0,272.2 L944.5,270.5 L946.0,269.1 L947.5,267.9 L949.0,266.9 L950.5,266.1 L952.0,265.4 L953.5,264.9 L955.0,264.5 L956.5,264.3 L958.0,264.2 L959.5,264.4 L961.0,264.8 L962.5,265.4 L964.0,266.2 L965.5,267.3 L967.0,268.8 L968.5,270.7 L970.0,273.0 L971.5,275.7 L973.0,278.7 L974.5,282.0 L976.0,285.4 L977.5,289.0 L979.0,292.7 L980.5,296.6 L982.0,300.6 L983.5,304.9 L985.0,309.2 L986.5,313.7 L988.0,318.3 L989.5,323.0 L991.0,327.6 L992.5,332.3 L994.0,336.8 L995.5,341.4 L997.0,345.9 L998.5,350.3 L1000.0,354.8 L1001.5,359.2 L1003.0,363.7 L1004.5,368.1 L1006.0,372.6 L1007.5,377.1 L1009.0,381.6 L1010.5,386.2 L1012.0,390.8 L1013.5,395.4 L1015.0,400.1 L1016.5,404.8 L1018.0,409.5 L1019.5,414.3 L1021.0,419.1 L1022.5,424.0 L1024.0,428.8 L1025.5,433.7 L1027.0,438.7 L1028.5,443.6 L1030.0,448.6 L1031.5,453.5 L1033.0,458.5 L1034.5,463.6 L1036.0,468.6 L1037.5,473.6 L1039.0,478.6 L1040.5,483.6 L1042.0,488.6 L1043.5,493.6 L1045.0,498.7 L1046.5,504.0 L1048.0,509.5 L1049.5,515.3 L1051.0,521.3 L1052.5,527.7 L1054.0,534.5 L1055.5,541.5 L1057.0,548.7 L1058.5,556.1 L1060.0,563.6 L1061.5,571.2 L1063.0,578.7 L1064.5,586.1 L1066.0,593.5 L1067.5,600.7 L1069.0,607.8 L1070.5,614.8 L1072.0,621.8 L1073.5,628.7 L1075.0,635.5 L1076.5,642.3 L1078.0,649.0 L1079.5,655.7 L1081.0,662.4 L1082.5,669.0 L1084.0,675.5 L1085.5,682.0 L1087.0,688.5 L1088.5,694.9 L1090.0,701.3 L1091.5,707.6 L1093.0,713.8 L1094.5,720.0 L1096.0,726.2 L1097.5,732.2 L1099.0,738.3 L1100.5,744.3 L1102.0,750.2 L1103.5,756.1 L1105.0,761.9 L1106.5,767.7 L1108.0,773.4 L1109.5,779.1 L1111.0,784.7 L1112.5,790.3 L1114.0,795.8 L1115.5,801.3 L1117.0,806.7 L1118.5,812.1 L1120.0,817.4 L1121.5,822.6 L1123.0,827.8 L1124.5,833.0 L1126.0,838.0 L1127.5,843.1 L1129.0,848.1 L1130.5,853.0 L1132.0,857.8 L1133.5,862.7 L1135.0,867.4 L1136.5,872.1 L1138.0,876.8 L1139.5,881.4 L1141.0,885.9 L1142.5,890.4 L1144.0,894.8 L1145.5,899.2 L1147.0,903.5 L1148.5,907.8 L1150.0,912.0 L1151.5,916.1 L1153.0,920.2 L1154.5,924.2 L1156.0,928.2 L1157.5,932.1 L1159.0,936.0 L1160.5,939.8 L1162.0,943.5 L1163.5,947.2 L1165.0,950.9 L1166.5,954.5 L1168.0,958.0 L1169.5,961.5 L1171.0,964.9 L1172.5,968.3 L1174.0,971.6 L1175.5,974.9 L1177.0,978.1 L1178.5,981.3 L1180.0,984.4 L1181.5,987.5 L1183.0,990.5 L1184.5,993.5 L1186.0,996.4 L1187.5,999.3 L1189.0,1002.1 L1190.5,1004.9 L1192.0,1007.6 L1193.5,1010.3 L1195.0,1013.0 L1196.5,1015.6 L1198.0,1018.1 L1199.5,1020.6 L1201.0,1023.1 L1202.5,1025.5 L1204.0,1027.9 L1205.5,1030.2 L1207.0,1032.5 L1208.5,1034.8 L1210.0,1037.0 L1211.5,1039.1 L1213.0,1041.3 L1214.5,1043.3 L1216.0,1045.4 L1217.5,1047.4 L1219.0,1049.4 L1220.5,1051.3 L1222.0,1053.2 L1223.5,1055.0 L1225.0,1056.8 L1226.5,1058.6 L1228.0,1060.4 L1229.5,1062.1 L1231.0,1063.8 L1232.5,1065.4 L1234.0,1067.0 L1235.5,1068.6 L1237.0,1070.1 L1238.5,1071.7 L1240.0,1073.1 L1241.5,1074.6 L1243.0,1076.0 L1244.5,1077.4 L1246.0,1078.8 L1247.5,1080.2 L1249.0,1081.5 L1250.5,1082.8 L1252.0,1084.1 L1253.5,1085.3 L1255.0,1086.6 L1256.5,1087.8 L1258.0,1089.0 L1259.5,1090.1 L1261.0,1091.3 L1262.5,1092.4 L1264.0,1093.5 L1265.5,1094.6 L1267.0,1095.7 L1268.5,1096.7 L1270.0,1097.8 L1271.5,1098.8 L1273.0,1099.8 L1274.5,1100.8 L1276.0,1101.8 L1277.5,1102.8 L1279.0,1103.7 L1280.5,1104.7 L1282.0,1105.6 L1283.5,1106.5 L1285.0,1107.4 L1286.5,1108.3 L1288.0,1109.2 L1289.5,1110.1 L1291.0,1111.0 L1292.5,1111.9 L1294.0,1112.8 L1295.5,1113.6 L1297.0,1114.5 L1298.5,1115.3 L1300.0,1116.2 L1301.5,1117.0 L1303.0,1117.9 L1304.5,1118.7 L1306.0,1119.5 L1307.5,1120.4 L1309.0,1121.2 L1310.5,1122.0 L1312.0,1122.8 L1313.5,1123.6 L1315.0,1124.4 L1316.5,1125.2 L1318.0,1126.0 L1319.5,1126.8 L1321.0,1127.6 L1322.5,1128.4 L1324.0,1129.2 L1325.5,1130.0 L1327.0,1130.7 L1328.5,1131.5 L1330.0,1132.3 L1331.5,1133.0 L1333.0,1133.8 L1334.5,1134.6 L1336.0,1135.3 L1337.5,1136.1 L1339.0,1136.8 L1340.5,1137.6 L1342.0,1138.4 L1343.5,1139.1 L1345.0,1139.9 L1346.5,1140.6 L1348.0,1141.4 L1349.5,1142.1 L1351.0,1142.9 L1352.5,1143.6 L1354.0,1144.3 L1355.5,1145.1 L1357.0,1145.8 L1358.5,1146.6 L1360.0,1147.3 L1361.5,1148.1 L1363.0,1148.8 L1364.5,1149.6 L1366.0,1150.3 L1367.5,1151.0 L1369.0,1151.8 L1370.5,1152.5 L1372.0,1153.3 L1373.5,1154.0 L1375.0,1154.8 L1376.5,1155.5 L1378.0,1156.3 L1379.5,1157.0 L1381.0,1157.8 L1382.5,1158.6 L1384.0,1159.3 L1385.5,1160.1 L1387.0,1160.9 L1388.5,1161.6 L1390.0,1162.4 L1391.5,1163.2 L1393.0,1163.9 L1394.5,1164.7 L1396.0,1165.4 L1397.5,1166.1 L1399.0,1166.6 L1400.0,1167.0"/>
<path d="M193.0,1243.0 L194.5,1243.0 L196.0,1243.0 L197.5,1243.1 L199.0,1243.1 L200.5,1243.1 L202.0,1243.1 L203.5,1243.1 L205.0,1243.2 L206.5,1243.2 L208.0,1243.2 L209.5,1243.2 L211.0,1243.3 L212.5,1243.3 L214.0,1243.3 L215.5,1243.3 L217.0,1243.3 L218.5,1243.4 L220.0,1243.4 L221.5,1243.4 L223.0,1243.4 L224.5,1243.4 L226.0,1243.5 L227.5,1243.5 L229.0,1243.5 L230.5,1243.5 L232.0,1243.5 L233.5,1243.6 L235.0,1243.6 L236.5,1243.6 L238.0,1243.6 L239.5,1243.7 L241.0,1243.7 L242.5,1243.7 L244.0,1243.7 L245.5,1243.7 L247.0,1243.8 L248.5,1243.8 L250.0,1243.8 L251.5,1243.8 L253.0,1243.8 L254.5,1243.9 L256.0,1243.9 L257.5,1243.9 L259.0,1243.9 L260.5,1243.9 L262.0,1244.0 L263.5,1244.0 L265.0,1244.0 L266.5,1244.0 L268.0,1244.0 L269.5,1244.1 L271.0,1244.1 L272.5,1244.1 L274.0,1244.1 L275.5,1244.1 L277.0,1244.2 L278.5,1244.2 L280.0,1244.2 L281.5,1244.2 L283.0,1244.2 L284.5,1244.3 L286.0,1244.3 L287.5,1244.3 L289.0,1244.3 L290.5,1244.3 L292.0,1244.4 L293.5,1244.4 L295.0,1244.4 L296.5,1244.4 L298.0,1244.4 L299.5,1244.5 L301.0,1244.5 L302.5,1244.5 L304.0,1244.5 L305.5,1244.5 L307.0,1244.5 L308.5,1244.6 L310.0,1244.6 L311.5,1244.6 L313.0,1244.6 L314.5,1244.6 L316.0,1244.7 L317.5,1244.7 L319.0,1244.7 L320.5,1244.7 L322.0,1244.7 L323.5,1244.8 L325.0,1244.8 L326.5,1244.8 L328.0,1244.8 L329.5,1244.8 L331.0,1244.9 L332.5,1244.9 L334.0,1244.9 L335.5,1244.9 L337.0,1244.9 L338.5,1244.9 L340.0,1245.0 L341.5,1245.0 L343.0,1245.0 L344.5,1245.0 L346.0,1245.0 L347.5,1245.1 L349.0,1245.1 L350.5,1245.1 L352.0,1245.1 L353.5,1245.1 L355.0,1245.2 L356.5,1245.2 L358.0,1245.2 L359.5,1245.2 L361.0,1245.2 L362.5,1245.2 L364.0,1245.3 L365.5,1245.3 L367.0,1245.3 L368.5,1245.3 L370.0,1245.3 L371.5,1245.4 L373.0,1245.4 L374.5,1245.4 L376.0,1245.4 L377.5,1245.4 L379.0,1245.4 L380.5,1245.5 L382.0,1245.5 L383.5,1245.5 L385.0,1245.5 L386.5,1245.5 L388.0,1245.6 L389.5,1245.6 L391.0,1245.6 L392.5,1245.6 L394.0,1245.6 L395.5,1245.6 L397.0,1245.7 L398.5,1245.7 L400.0,1245.7 L401.5,1245.7 L403.0,1245.7 L404.5,1245.7 L406.0,1245.8 L407.5,1245.8 L409.0,1245.8 L410.5,1245.8 L412.0,1245.8 L413.5,1245.9 L415.0,1245.9 L416.5,1245.9 L418.0,1245.9 L419.5,1245.9 L421.0,1245.9 L422.5,1246.0 L424.0,1246.0 L425.5,1246.0 L427.0,1246.0 L428.5,1246.0 L430.0,1246.0 L431.5,1246.1 L433.0,1246.1 L434.5,1246.1 L436.0,1246.1 L437.5,1246.1 L439.0,1246.1 L440.5,1246.2 L442.0,1246.2 L443.5,1246.2 L445.0,1246.2 L446.5,1246.2 L448.0,1246.3 L449.5,1246.3 L451.0,1246.3 L452.5,1246.3 L454.0,1246.3 L455.5,1246.3 L457.0,1246.4 L458.5,1246.4 L460.0,1246.4 L461.5,1246.4 L463.0,1246.4 L464.5,1246.4 L466.0,1246.5 L467.5,1246.5 L469.0,1246.5 L470.5,1246.5 L472.0,1246.5 L473.5,1246.5 L475.0,1246.6 L476.5,1246.6 L478.0,1246.6 L479.5,1246.6 L481.0,1246.6 L482.5,1246.7 L484.0,1246.7 L485.5,1246.7 L487.0,1246.7 L488.5,1246.7 L490.0,1246.8 L491.5,1246.8 L493.0,1246.8 L494.5,1246.8 L496.0,1246.8 L497.5,1246.9 L499.0,1246.9 L500.5,1246.9 L502.0,1246.9 L503.5,1246.9 L505.0,1247.0 L506.5,1247.0 L508.0,1247.0 L509.5,1247.0 L511.0,1247.0 L512.5,1247.1 L514.0,1247.1 L515.5,1247.1 L517.0,1247.1 L518.5,1247.1 L520.0,1247.2 L521.5,1247.2 L523.0,1247.2 L524.5,1247.2 L526.0,1247.2 L527.5,1247.2 L529.0,1247.3 L530.5,1247.3 L532.0,1247.3 L533.5,1247.3 L535.0,1247.3 L536.5,1247.3 L538.0,1247.4 L539.5,1247.4 L541.0,1247.4 L542.5,1247.4 L544.0,1247.4 L545.5,1247.4 L547.0,1247.4 L548.5,1247.4 L550.0,1247.4 L551.5,1247.5 L553.0,1247.5 L554.5,1247.5 L556.0,1247.5 L557.5,1247.5 L559.0,1247.5 L560.5,1247.5 L562.0,1247.5 L563.5,1247.5 L565.0,1247.5 L566.5,1247.5 L568.0,1247.5 L569.5,1247.5 L571.0,1247.5 L572.5,1247.5 L574.0,1247.5 L575.5,1247.5 L577.0,1247.5 L578.5,1247.5 L580.0,1247.5 L581.5,1247.5 L583.0,1247.4 L584.5,1247.4 L586.0,1247.4 L587.5,1247.4 L589.0,1247.4 L590.5,1247.4 L592.0,1247.4 L593.5,1247.4 L595.0,1247.3 L596.5,1247.3 L598.0,1247.3 L599.5,1247.3 L601.0,1247.3 L602.5,1247.2 L604.0,1247.2 L605.5,1247.2 L607.0,1247.2 L608.5,1247.1 L610.0,1247.1 L611.5,1247.1 L613.0,1247.1 L614.5,1247.0 L616.0,1247.0 L617.5,1247.0 L619.0,1246.9 L620.5,1246.9 L622.0,1246.9 L623.5,1246.8 L625.0,1246.8 L626.5,1246.8 L628.0,1246.7 L629.5,1246.7 L631.0,1246.7 L632.5,1246.6 L634.0,1246.6 L635.5,1246.5 L637.0,1246.5 L638.5,1246.4 L640.0,1246.3 L641.5,1246.3 L643.0,1246.2 L644.5,1246.0 L646.0,1245.9 L647.5,1245.7 L649.0,1245.6 L650.5,1245.4 L652.0,1245.2 L653.5,1245.0 L655.0,1244.7 L656.5,1244.5 L658.0,1244.2 L659.5,1244.0 L661.0,1243.7 L662.5,1243.4 L664.0,1243.0 L665.5,1242.7 L667.0,1242.4 L668.5,1242.0 L670.0,1241.6 L671.5,1241.3 L673.0,1240.9 L674.5,1240.5 L676.0,1240.0 L677.5,1239.6 L679.0,1239.2 L680.5,1238.7 L682.0,1238.2 L683.5,1237.6 L685.0,1237.0 L686.5,1236.3 L688.0,1235.5 L689.5,1234.6 L691.0,1233.6 L692.5,1232.6 L694.0,1231.5 L695.5,1230.3 L697.0,1229.1 L698.5,1227.9 L700.0,1226.6 L701.5,1225.4 L703.0,1224.1 L704.5,1222.7 L706.0,1221.3 L707.5,1219.9 L709.0,1218.4 L710.5,1216.9 L712.0,1215.3 L713.5,1213.7 L715.0,1212.0 L716.5,1210.3 L718.0,1208.5 L719.5,1206.7 L721.0,1204.9 L722.5,1203.1 L724.0,1201.2 L725.5,1199.3 L727.0,1197.4 L728.5,1195.4 L730.0,1193.3 L731.5,1191.3 L733.0,1189.1 L734.5,1187.0 L736.0,1184.7 L737.5,1182.4 L739.0,1180.0 L740.5,1177.6 L742.0,1175.1 L743.5,1172.5 L745.0,1169.8 L746.5,1167.0 L748.0,1164.2 L749.5,1161.2 L751.0,1158.1 L752.5,1154.9 L754.0,1151.6 L755.5,1148.3 L757.0,1144.8 L758.5,1141.2 L760.0,1137.6 L761.5,1133.8 L763.0,1130.0 L764.5,1126.1 L766.0,1122.1 L767.5,1117.9 L769.0,1113.7 L770.5,1109.3 L772.0,1104.8 L773.5,1100.1 L775.0,1095.4 L776.5,1090.6 L778.0,1085.6 L779.5,1080.6 L781.0,1075.5 L782.5,1070.4 L784.0,1065.2 L785.5,1059.9 L787.0,1054.6 L788.5,1049.2 L790.0,1043.8 L791.5,1038.3 L793.0,1032.8 L794.5,1027.2 L796.0,1021.5 L797.5,1015.8 L799.0,1009.9 L800.5,1004.0 L802.0,997.9 L803.5,991.8 L805.0,985.6 L806.5,979.2 L808.0,972.7 L809.5,966.1 L811.0,959.3 L812.5,952.4 L814.0,945.3 L815.5,938.0 L817.0,930.5 L818.5,922.7 L820.0,914.6 L821.5,906.2 L823.0,897.6 L824.5,888.8 L826.0,879.8 L827.5,870.7 L829.0,861.4 L830.5,852.0 L832.0,842.6 L833.5,833.1 L835.0,823.6 L836.5,814.2 L838.0,804.8 L839.5,795.5 L841.0,786.4 L842.5,777.3 L844.0,768.5 L845.5,759.8 L847.0,751.2 L848.5,742.8 L850.0,734.4 L851.5,726.2 L853.0,718.0 L854.5,709.9 L856.0,701.9 L857.5,693.8 L859.0,685.8 L860.5,677.7 L862.0,669.6 L863.5,661.5 L865.0,653.3 L866.5,645.0 L868.0,636.7 L869.5,628.2 L871.0,619.6 L872.5,610.9 L874.0,602.1 L875.5,593.2 L877.0,584.2 L878.5,575.0 L880.0,565.7 L881.5,556.4 L883.0,546.9 L884.5,537.2 L886.0,527.4 L887.5,517.2 L889.0,506.8 L890.5,496.0 L892.0,485.0 L893.5,473.9 L895.0,462.8 L896.5,451.9 L898.0,441.5 L899.5,431.6 L901.0,422.5 L902.5,414.1 L904.0,406.5 L905.5,399.5 L907.0,393.1 L908.5,387.1 L910.0,381.4 L911.5,375.9 L913.0,370.6 L914.5,365.4 L916.0,360.4 L917.5,355.4 L919.0,350.6 L920.5,345.8 L922.0,341.1 L923.5,336.3 L925.0,331.5 L926.5,326.7 L928.0,321.9 L929.5,317.2 L931.0,312.7 L932.5,308.5 L934.0,304.6 L935.5,300.9 L937.0,297.6 L938.5,294.4 L940.0,291.5 L941.5,288.8 L943.0,286.2 L944.5,283.7 L946.0,281.4 L947.5,279.3 L949.0,277.2 L950.5,275.3 L952.0,273.5 L953.5,271.9 L955.0,270.4 L956.5,269.0 L958.0,267.8 L959.5,266.9 L961.0,266.0 L962.5,265.4 L964.0,264.9 L965.5,264.5 L967.0,264.3 L968.5,264.2 L970.0,264.4 L971.5,264.7 L973.0,265.2 L974.5,266.0 L976.0,266.9 L977.5,268.1 L979.0,269.6 L980.5,271.5 L982.0,273.8 L983.5,276.4 L985.0,279.3 L986.5,282.4 L988.0,285.7 L989.5,289.2 L991.0,292.8 L992.5,296.7 L994.0,300.7 L995.5,305.0 L997.0,309.5 L998.5,314.2 L1000.0,318.9 L1001.5,323.7 L1003.0,328.6 L1004.5,333.3 L1006.0,338.1 L1007.5,342.9 L1009.0,347.7 L1010.5,352.5 L1012.0,357.3 L1013.5,362.2 L1015.0,367.0 L1016.5,371.9 L1018.0,376.9 L1019.5,381.8 L1021.0,386.8 L1022.5,391.7 L1024.0,396.6 L1025.5,401.6 L1027.0,406.5 L1028.5,411.3 L1030.0,416.2 L1031.5,421.0 L1033.0,425.8 L1034.5,430.6 L1036.0,435.5 L1037.5,440.4 L1039.0,445.4 L1040.5,450.5 L1042.0,455.7 L1043.5,461.0 L1045.0,466.5 L1046.5,472.2 L1048.0,478.2 L1049.5,484.5 L1051.0,491.0 L1052.5,497.9 L1054.0,505.0 L1055.5,512.3 L1057.0,519.6 L1058.5,526.9 L1060.0,534.1 L1061.5,541.1 L1063.0,547.8 L1064.5,554.2 L1066.0,560.5 L1067.5,566.7 L1069.0,572.7 L1070.5,578.8 L1072.0,585.0 L1073.5,591.2 L1075.0,597.7 L1076.5,604.3 L1078.0,611.0 L1079.5,617.9 L1081.0,624.8 L1082.5,631.7 L1084.0,638.6 L1085.5,645.4 L1087.0,652.1 L1088.5,658.7 L1090.0,665.3 L1091.5,671.9 L1093.0,678.4 L1094.5,684.9 L1096.0,691.3 L1097.5,697.6 L1099.0,703.9 L1100.5,710.2 L1102.0,716.4 L1103.5,722.6 L1105.0,728.7 L1106.5,734.7 L1108.0,740.7 L1109.5,746.7 L1111.0,752.6 L1112.5,758.4 L1114.0,764.2 L1115.5,770.0 L1117.0,775.7 L1118.5,781.3 L1120.0,786.9 L1121.5,792.5 L1123.0,798.0 L1124.5,803.4 L1126.0,808.8 L1127.5,814.1 L1129.0,819.4 L1130.5,824.6 L1132.0,829.7 L1133.5,834.8 L1135.0,839.9 L1136.5,844.9 L1138.0,849.8 L1139.5,854.7 L1141.0,859.5 L1142.5,864.3 L1144.0,869.0 L1145.5,873.7 L1147.0,878.3 L1148.5,882.8 L1150.0,887.3 L1151.5,891.7 L1153.0,896.1 L1154.5,900.4 L1156.0,904.6 L1157.5,908.8 L1159.0,912.9 L1160.5,917.0 L1162.0,921.0 L1163.5,924.9 L1165.0,928.8 L1166.5,932.7 L1168.0,936.4 L1169.5,940.1 L1171.0,943.8 L1172.5,947.4 L1174.0,950.9 L1175.5,954.4 L1177.0,957.8 L1178.5,961.2 L1180.0,964.5 L1181.5,967.8 L1183.0,971.0 L1184.5,974.2 L1186.0,977.3 L1187.5,980.3 L1189.0,983.3 L1190.5,986.3 L1192.0,989.2 L1193.5,992.0 L1195.0,994.8 L1196.5,997.6 L1198.0,1000.3 L1199.5,1002.9 L1201.0,1005.5 L1202.5,1008.1 L1204.0,1010.6 L1205.5,1013.1 L1207.0,1015.5 L1208.5,1017.9 L1210.0,1020.2 L1211.5,1022.5 L1213.0,1024.7 L1214.5,1026.9 L1216.0,1029.1 L1217.5,1031.2 L1219.0,1033.3 L1220.5,1035.3 L1222.0,1037.3 L1223.5,1039.3 L1225.0,1041.2 L1226.5,1043.0 L1228.0,1044.9 L1229.5,1046.7 L1231.0,1048.4 L1232.5,1050.2 L1234.0,1051.9 L1235.5,1053.5 L1237.0,1055.1 L1238.5,1056.7 L1240.0,1058.3 L1241.5,1059.8 L1243.0,1061.3 L1244.5,1062.8 L1246.0,1064.2 L1247.5,1065.6 L1249.0,1067.0 L1250.5,1068.3 L1252.0,1069.7 L1253.5,1071.0 L1255.0,1072.2 L1256.5,1073.5 L1258.0,1074.7 L1259.5,1075.9 L1261.0,1077.1 L1262.5,1078.2 L1264.0,1079.4 L1265.5,1080.5 L1267.0,1081.6 L1268.5,1082.7 L1270.0,1083.7 L1271.5,1084.8 L1273.0,1085.8 L1274.5,1086.8 L1276.0,1087.8 L1277.5,1088.8 L1279.0,1089.7 L1280.5,1090.7 L1282.0,1091.6 L1283.5,1092.6 L1285.0,1093.5 L1286.5,1094.4 L1288.0,1095.3 L1289.5,1096.2 L1291.0,1097.1 L1292.5,1097.9 L1294.0,1098.8 L1295.5,1099.7 L1297.0,1100.5 L1298.5,1101.4 L1300.0,1102.2 L1301.5,1103.1 L1303.0,1103.9 L1304.5,1104.8 L1306.0,1105.6 L1307.5,1106.5 L1309.0,1107.3 L1310.5,1108.1 L1312.0,1109.0 L1313.5,1109.8 L1315.0,1110.7 L1316.5,1111.5 L1318.0,1112.3 L1319.5,1113.2 L1321.0,1114.0 L1322.5,1114.9 L1324.0,1115.7 L1325.5,1116.6 L1327.0,1117.4 L1328.5,1118.3 L1330.0,1119.1 L1331.5,1120.0 L1333.0,1120.8 L1334.5,1121.7 L1336.0,1122.6 L1337.5,1123.4 L1339.0,1124.3 L1340.5,1125.2 L1342.0,1126.0 L1343.5,1126.9 L1345.0,1127.8 L1346.5,1128.7 L1348.0,1129.6 L1349.5,1130.5 L1351.0,1131.4 L1352.5,1132.3 L1354.0,1133.2 L1355.5,1134.1 L1357.0,1135.1 L1358.5,1136.0 L1360.0,1136.9 L1361.5,1137.9 L1363.0,1138.8 L1364.5,1139.8 L1366.0,1140.7 L1367.5,1141.7 L1369.0,1142.7 L1370.5,1143.7 L1372.0,1144.7 L1373.5,1145.7 L1375.0,1146.7 L1376.5,1147.7 L1378.0,1148.7 L1379.5,1149.8 L1381.0,1150.8 L1382.5,1151.9 L1384.0,1152.9 L1385.5,1154.0 L1387.0,1155.1 L1388.5,1156.2 L1390.0,1157.3 L1391.5,1158.4 L1393.0,1159.5 L1394.5,1160.6 L1396.0,1161.7 L1397.5,1162.7 L1399.0,1163.5 L1400.0,1164.1"/>
<path d="M193.0,1243.0 L194.5,1243.0 L196.0,1243.0 L197.5,1243.1 L199.0,1243.1 L200.5,1243.1 L202.0,1243.1 L203.5,1243.2 L205.0,1243.2 L206.5,1243.2 L208.0,1243.2 L209.5,1243.2 L211.0,1243.3 L212.5,1243.3 L214.0,1243.3 L215.5,1243.3 L217.0,1243.4 L218.5,1243.4 L220.0,1243.4 L221.5,1243.4 L223.0,1243.4 L224.5,1243.5 L226.0,1243.5 L227.5,1243.5 L229.0,1243.5 L230.5,1243.6 L232.0,1243.6 L233.5,1243.6 L235.0,1243.6 L236.5,1243.6 L238.0,1243.7 L239.5,1243.7 L241.0,1243.7 L242.5,1243.7 L244.0,1243.7 L245.5,1243.8 L247.0,1243.8 L248.5,1243.8 L250.0,1243.8 L251.5,1243.9 L253.0,1243.9 L254.5,1243.9 L256.0,1243.9 L257.5,1243.9 L259.0,1244.0 L260.5,1244.0 L262.0,1244.0 L263.5,1244.0 L265.0,1244.0 L266.5,1244.1 L268.0,1244.1 L269.5,1244.1 L271.0,1244.1 L272.5,1244.1 L274.0,1244.2 L275.5,1244.2 L277.0,1244.2 L278.5,1244.2 L280.0,1244.2 L281.5,1244.3 L283.0,1244.3 L284.5,1244.3 L286.0,1244.3 L287.5,1244.3 L289.0,1244.4 L290.5,1244.4 L292.0,1244.4 L293.5,1244.4 L295.0,1244.4 L296.5,1244.5 L298.0,1244.5 L299.5,1244.5 L301.0,1244.5 L302.5,1244.5 L304.0,1244.6 L305.5,1244.6 L307.0,1244.6 L308.5,1244.6 L310.0,1244.6 L311.5,1244.7 L313.0,1244.7 L314.5,1244.7 L316.0,1244.7 L317.5,1244.7 L319.0,1244.8 L320.5,1244.8 L322.0,1244.8 L323.5,1244.8 L325.0,1244.8 L326.5,1244.9 L328.0,1244.9 L329.5,1244.9 L331.0,1244.9 L332.5,1244.9 L334.0,1244.9 L335.5,1245.0 L337.0,1245.0 L338.5,1245.0 L340.0,1245.0 L341.5,1245.0 L343.0,1245.1 L344.5,1245.1 L346.0,1245.1 L347.5,1245.1 L349.0,1245.1 L350.5,1245.2 L352.0,1245.2 L353.5,1245.2 L355.0,1245.2 L356.5,1245.2 L358.0,1245.2 L359.5,1245.3 L361.0,1245.3 L362.5,1245.3 L364.0,1245.3 L365.5,1245.3 L367.0,1245.4 L368.5,1245.4 L370.0,1245.4 L371.5,1245.4 L373.0,1245.4 L374.5,1245.4 L376.0,1245.5 L377.5,1245.5 L379.0,1245.5 L380.5,1245.5 L382.0,1245.5 L383.5,1245.5 L385.0,1245.6 L386.5,1245.6 L388.0,1245.6 L389.5,1245.6 L391.0,1245.6 L392.5,1245.7 L394.0,1245.7 L395.5,1245.7 L397.0,1245.7 L398.5,1245.7 L400.0,1245.7 L401.5,1245.8 L403.0,1245.8 L404.5,1245.8 L406.0,1245.8 L407.5,1245.8 L409.0,1245.8 L410.5,1245.9 L412.0,1245.9 L413.5,1245.9 L415.0,1245.9 L416.5,1245.9 L418.0,1245.9 L419.5,1246.0 L421.0,1246.0 L422.5,1246.0 L424.0,1246.0 L425.5,1246.0 L427.0,1246.0 L428.5,1246.1 L430.0,1246.1 L431.5,1246.1 L433.0,1246.1 L434.5,1246.1 L436.0,1246.1 L437.5,1246.2 L439.0,1246.2 L440.5,1246.2 L442.0,1246.2 L443.5,1246.2 L445.0,1246.2 L446.5,1246.3 L448.0,1246.3 L449.5,1246.3 L451.0,1246.3 L452.5,1246.3 L454.0,1246.3 L455.5,1246.3 L457.0,1246.4 L458.5,1246.4 L460.0,1246.4 L461.5,1246.4 L463.0,1246.4 L464.5,1246.4 L466.0,1246.5 L467.5,1246.5 L469.0,1246.5 L470.5,1246.5 L472.0,1246.5 L473.5,1246.5 L475.0,1246.6 L476.5,1246.6 L478.0,1246.6 L479.5,1246.6 L481.0,1246.6 L482.5,1246.6 L484.0,1246.7 L485.5,1246.7 L487.0,1246.7 L488.5,1246.7 L490.0,1246.7 L491.5,1246.7 L493.0,1246.8 L494.5,1246.8 L496.0,1246.8 L497.5,1246.8 L499.0,1246.8 L500.5,1246.9 L502.0,1246.9 L503.5,1246.9 L505.0,1246.9 L506.5,1246.9 L508.0,1246.9 L509.5,1247.0 L511.0,1247.0 L512.5,1247.0 L514.0,1247.0 L515.5,1247.0 L517.0,1247.1 L518.5,1247.1 L520.0,1247.1 L521.5,1247.1 L523.0,1247.1 L524.5,1247.1 L526.0,1247.2 L527.5,1247.2 L529.0,1247.2 L530.5,1247.2 L532.0,1247.2 L533.5,1247.2 L535.0,1247.2 L536.5,1247.3 L538.0,1247.3 L539.5,1247.3 L541.0,1247.3 L542.5,1247.3 L544.0,1247.3 L545.5,1247.3 L547.0,1247.4 L548.5,1247.4 L550.0,1247.4 L551.5,1247.4 L553.0,1247.4 L554.5,1247.4 L556.0,1247.4 L557.5,1247.4 L559.0,1247.4 L560.5,1247.4 L562.0,1247.5 L563.5,1247.5 L565.0,1247.5 L566.5,1247.5 L568.0,1247.5 L569.5,1247.5 L571.0,1247.5 L572.5,1247.5 L574.0,1247.5 L575.5,1247.5 L577.0,1247.5 L578.5,1247.5 L580.0,1247.5 L581.5,1247.5 L583.0,1247.5 L584.5,1247.5 L586.0,1247.5 L587.5,1247.5 L589.0,1247.5 L590.5,1247.5 L592.0,1247.5 L593.5,1247.5 L595.0,1247.5 L596.5,1247.4 L598.0,1247.4 L599.5,1247.4 L601.0,1247.4 L602.5,1247.4 L604.0,1247.4 L605.5,1247.4 L607.0,1247.3 L608.5,1247.3 L610.0,1247.3 L611.5,1247.3 L613.0,1247.3 L614.5,1247.3 L616.0,1247.2 L617.5,1247.2 L619.0,1247.2 L620.5,1247.2 L622.0,1247.1 L623.5,1247.1 L625.0,1247.1 L626.5,1247.1 L628.0,1247.0 L629.5,1247.0 L631.0,1247.0 L632.5,1246.9 L634.0,1246.9 L635.5,1246.9 L637.0,1246.8 L638.5,1246.8 L640.0,1246.8 L641.5,1246.7 L643.0,1246.7 L644.5,1246.6 L646.0,1246.6 L647.5,1246.6 L649.0,1246.5 L650.5,1246.5 L652.0,1246.4 L653.5,1246.3 L655.0,1246.2 L656.5,1246.1 L658.0,1245.9 L659.5,1245.8 L661.0,1245.6 L662.5,1245.4 L664.0,1245.2 L665.5,1245.0 L667.0,1244.7 L668.5,1244.4 L670.0,1244.2 L671.5,1243.9 L673.0,1243.6 L674.5,1243.2 L676.0,1242.9 L677.5,1242.5 L679.0,1242.2 L680.5,1241.8 L682.0,1241.4 L683.5,1241.0 L685.0,1240.5 L686.5,1240.1 L688.0,1239.6 L689.5,1239.2 L691.0,1238.7 L692.5,1238.2 L694.0,1237.6 L695.5,1237.0 L697.0,1236.2 L698.5,1235.4 L700.0,1234.5 L701.5,1233.6 L703.0,1232.5 L704.5,1231.4 L706.0,1230.3 L707.5,1229.1 L709.0,1227.9 L710.5,1226.6 L712.0,1225.4 L713.5,1224.1 L715.0,1222.7 L716.5,1221.3 L718.0,1219.9 L719.5,1218.4 L721.0,1216.9 L722.5,1215.3 L724.0,1213.7 L725.5,1212.0 L727.0,1210.3 L728.5,1208.5 L730.0,1206.7 L731.5,1204.9 L733.0,1203.1 L734.5,1201.2 L736.0,1199.3 L737.5,1197.3 L739.0,1195.3 L740.5,1193.3 L742.0,1191.2 L743.5,1189.0 L745.0,1186.8 L746.5,1184.6 L748.0,1182.3 L749.5,1179.9 L751.0,1177.5 L752.5,1175.0 L754.0,1172.5 L755.5,1169.9 L757.0,1167.2 L758.5,1164.5 L760.0,1161.8 L761.5,1158.9 L763.0,1156.0 L764.5,1153.0 L766.0,1150.0 L767.5,1146.9 L769.0,1143.7 L770.5,1140.4 L772.0,1137.0 L773.5,1133.5 L775.0,1129.9 L776.5,1126.2 L778.0,1122.4 L779.5,1118.5 L781.0,1114.4 L782.5,1110.1 L784.0,1105.8 L785.5,1101.2 L787.0,1096.6 L788.5,1091.9 L790.0,1087.1 L791.5,1082.2 L793.0,1077.2 L794.5,1072.2 L796.0,1067.1 L797.5,1062.0 L799.0,1056.9 L800.5,1051.7 L802.0,1046.5 L803.5,1041.3 L805.0,1036.0 L806.5,1030.7 L808.0,1025.3 L809.5,1019.9 L811.0,1014.4 L812.5,1008.8 L814.0,1003.1 L815.5,997.3 L817.0,991.4 L818.5,985.4 L820.0,979.3 L821.5,973.0 L823.0,966.7 L824.5,960.1 L826.0,953.4 L827.5,946.6 L829.0,939.5 L830.5,932.1 L832.0,924.5 L833.5,916.6 L835.0,908.4 L836.5,900.0 L838.0,891.3 L839.5,882.4 L841.0,873.4 L842.5,864.1 L844.0,854.8 L845.5,845.4 L847.0,835.9 L848.5,826.4 L850.0,816.9 L851.5,807.4 L853.0,798.0 L854.5,788.7 L856.0,779.5 L857.5,770.4 L859.0,761.4 L860.5,752.5 L862.0,743.7 L863.5,734.9 L865.0,726.1 L866.5,717.4 L868.0,708.6 L869.5,699.9 L871.0,691.2 L872.5,682.6 L874.0,673.9 L875.5,665.3 L877.0,656.7 L878.5,648.1 L880.0,639.5 L881.5,631.0 L883.0,622.5 L884.5,614.0 L886.0,605.5 L887.5,597.0 L889.0,588.6 L890.5,580.2 L892.0,571.8 L893.5,563.5 L895.0,555.2 L896.5,547.0 L898.0,538.9 L899.5,530.9 L901.0,523.0 L902.5,515.2 L904.0,507.4 L905.5,499.8 L907.0,492.3 L908.5,484.9 L910.0,477.6 L911.5,470.5 L913.0,463.6 L914.5,456.9 L916.0,450.3 L917.5,443.8 L919.0,437.5 L920.5,431.3 L922.0,425.1 L923.5,418.9 L925.0,412.8 L926.5,406.6 L928.0,400.4 L929.5,394.2 L931.0,388.0 L932.5,381.8 L934.0,375.7 L935.5,369.7 L937.0,363.9 L938.5,358.2 L940.0,352.7 L941.5,347.4 L943.0,342.2 L944.5,337.2 L946.0,332.2 L947.5,327.4 L949.0,322.7 L950.5,318.2 L952.0,313.9 L953.5,309.7 L955.0,305.7 L956.5,302.0 L958.0,298.4 L959.5,295.1 L961.0,291.9 L962.5,288.9 L964.0,286.0 L965.5,283.4 L967.0,280.8 L968.5,278.5 L970.0,276.2 L971.5,274.2 L973.0,272.2 L974.5,270.5 L976.0,269.0 L977.5,267.7 L979.0,266.7 L980.5,265.8 L982.0,265.2 L983.5,264.7 L985.0,264.4 L986.5,264.2 L988.0,264.3 L989.5,264.5 L991.0,264.9 L992.5,265.5 L994.0,266.2 L995.5,267.2 L997.0,268.4 L998.5,269.9 L1000.0,271.7 L1001.5,273.8 L1003.0,276.3 L1004.5,279.0 L1006.0,281.9 L1007.5,284.9 L1009.0,288.2 L1010.5,291.6 L1012.0,295.3 L1013.5,299.3 L1015.0,303.5 L1016.5,308.0 L1018.0,312.6 L1019.5,317.4 L1021.0,322.2 L1022.5,327.0 L1024.0,331.7 L1025.5,336.3 L1027.0,340.8 L1028.5,345.2 L1030.0,349.6 L1031.5,353.9 L1033.0,358.3 L1034.5,362.6 L1036.0,366.9 L1037.5,371.3 L1039.0,375.7 L1040.5,380.2 L1042.0,384.8 L1043.5,389.4 L1045.0,394.2 L1046.5,399.2 L1048.0,404.3 L1049.5,409.6 L1051.0,415.1 L1052.5,420.9 L1054.0,426.9 L1055.5,433.1 L1057.0,439.5 L1058.5,445.9 L1060.0,452.4 L1061.5,458.9 L1063.0,465.3 L1064.5,471.8 L1066.0,478.2 L1067.5,484.6 L1069.0,491.0 L1070.5,497.4 L1072.0,503.7 L1073.5,510.0 L1075.0,516.3 L1076.5,522.4 L1078.0,528.5 L1079.5,534.6 L1081.0,540.6 L1082.5,546.8 L1084.0,553.1 L1085.5,559.7 L1087.0,566.7 L1088.5,574.1 L1090.0,581.9 L1091.5,589.8 L1093.0,597.8 L1094.5,605.4 L1096.0,612.7 L1097.5,619.5 L1099.0,625.9 L1100.5,632.1 L1102.0,638.1 L1103.5,644.0 L1105.0,649.9 L1106.5,655.8 L1108.0,661.6 L1109.5,667.4 L1111.0,673.2 L1112.5,678.9 L1114.0,684.7 L1115.5,690.4 L1117.0,696.2 L1118.5,702.0 L1120.0,707.8 L1121.5,713.6 L1123.0,719.4 L1124.5,725.2 L1126.0,731.0 L1127.5,736.8 L1129.0,742.6 L1130.5,748.3 L1132.0,754.1 L1133.5,759.8 L1135.0,765.5 L1136.5,771.2 L1138.0,776.9 L1139.5,782.5 L1141.0,788.2 L1142.5,793.7 L1144.0,799.2 L1145.5,804.7 L1147.0,810.1 L1148.5,815.5 L1150.0,820.8 L1151.5,826.1 L1153.0,831.3 L1154.5,836.5 L1156.0,841.5 L1157.5,846.6 L1159.0,851.5 L1160.5,856.4 L1162.0,861.3 L1163.5,866.1 L1165.0,870.8 L1166.5,875.4 L1168.0,880.0 L1169.5,884.4 L1171.0,888.8 L1172.5,893.2 L1174.0,897.4 L1175.5,901.6 L1177.0,905.7 L1178.5,909.7 L1180.0,913.6 L1181.5,917.5 L1183.0,921.2 L1184.5,924.9 L1186.0,928.5 L1187.5,932.0 L1189.0,935.5 L1190.5,938.8 L1192.0,942.1 L1193.5,945.3 L1195.0,948.5 L1196.5,951.5 L1198.0,954.5 L1199.5,957.5 L1201.0,960.3 L1202.5,963.1 L1204.0,965.9 L1205.5,968.5 L1207.0,971.2 L1208.5,973.7 L1210.0,976.2 L1211.5,978.7 L1213.0,981.1 L1214.5,983.4 L1216.0,985.7 L1217.5,987.9 L1219.0,990.1 L1220.5,992.3 L1222.0,994.4 L1223.5,996.5 L1225.0,998.5 L1226.5,1000.5 L1228.0,1002.4 L1229.5,1004.3 L1231.0,1006.2 L1232.5,1008.0 L1234.0,1009.9 L1235.5,1011.7 L1237.0,1013.4 L1238.5,1015.1 L1240.0,1016.9 L1241.5,1018.5 L1243.0,1020.2 L1244.5,1021.8 L1246.0,1023.5 L1247.5,1025.1 L1249.0,1026.7 L1250.5,1028.2 L1252.0,1029.8 L1253.5,1031.3 L1255.0,1032.9 L1256.5,1034.4 L1258.0,1035.9 L1259.5,1037.4 L1261.0,1038.8 L1262.5,1040.3 L1264.0,1041.8 L1265.5,1043.2 L1267.0,1044.6 L1268.5,1046.0 L1270.0,1047.4 L1271.5,1048.8 L1273.0,1050.2 L1274.5,1051.6 L1276.0,1052.9 L1277.5,1054.3 L1279.0,1055.6 L1280.5,1056.9 L1282.0,1058.2 L1283.5,1059.6 L1285.0,1060.9 L1286.5,1062.1 L1288.0,1063.4 L1289.5,1064.7 L1291.0,1066.0 L1292.5,1067.2 L1294.0,1068.5 L1295.5,1069.7 L1297.0,1071.0 L1298.5,1072.2 L1300.0,1073.4 L1301.5,1074.6 L1303.0,1075.9 L1304.5,1077.1 L1306.0,1078.3 L1307.5,1079.5 L1309.0,1080.7 L1310.5,1081.9 L1312.0,1083.0 L1313.5,1084.2 L1315.0,1085.4 L1316.5,1086.6 L1318.0,1087.8 L1319.5,1088.9 L1321.0,1090.1 L1322.5,1091.3 L1324.0,1092.4 L1325.5,1093.6 L1327.0,1094.8 L1328.5,1095.9 L1330.0,1097.1 L1331.5,1098.3 L1333.0,1099.4 L1334.5,1100.6 L1336.0,1101.8 L1337.5,1102.9 L1339.0,1104.1 L1340.5,1105.3 L1342.0,1106.4 L1343.5,1107.6 L1345.0,1108.8 L1346.5,1110.0 L1348.0,1111.1 L1349.5,1112.3 L1351.0,1113.5 L1352.5,1114.7 L1354.0,1115.9 L1355.5,1117.1 L1357.0,1118.3 L1358.5,1119.5 L1360.0,1120.7 L1361.5,1121.9 L1363.0,1123.2 L1364.5,1124.4 L1366.0,1125.6 L1367.5,1126.9 L1369.0,1128.1 L1370.5,1129.4 L1372.0,1130.7 L1373.5,1131.9 L1375.0,1133.2 L1376.5,1134.5 L1378.0,1135.8 L1379.5,1137.1 L1381.0,1138.4 L1382.5,1139.8 L1384.0,1141.1 L1385.5,1142.4 L1387.0,1143.8 L1388.5,1145.2 L1390.0,1146.5 L1391.5,1147.9 L1393.0,1149.3 L1394.5,1150.7 L1396.0,1152.0 L1397.5,1153.3 L1399.0,1154.3 L1400.0,1155.0"/>
<path d="M193.0,1243.0 L194.5,1243.0 L196.0,1243.1 L197.5,1243.1 L199.0,1243.1 L200.5,1243.1 L202.0,1243.1 L203.5,1243.2 L205.0,1243.2 L206.5,1243.2 L208.0,1243.2 L209.5,1243.3 L211.0,1243.3 L212.5,1243.3 L214.0,1243.3 L215.5,1243.4 L217.0,1243.4 L218.5,1243.4 L220.0,1243.4 L221.5,1243.4 L223.0,1243.5 L224.5,1243.5 L226.0,1243.5 L227.5,1243.5 L229.0,1243.6 L230.5,1243.6 L232.0,1243.6 L233.5,1243.6 L235.0,1243.6 L236.5,1243.7 L238.0,1243.7 L239.5,1243.7 L241.0,1243.7 L242.5,1243.8 L244.0,1243.8 L245.5,1243.8 L247.0,1243.8 L248.5,1243.8 L250.0,1243.9 L251.5,1243.9 L253.0,1243.9 L254.5,1243.9 L256.0,1244.0 L257.5,1244.0 L259.0,1244.0 L260.5,1244.0 L262.0,1244.0 L263.5,1244.1 L265.0,1244.1 L266.5,1244.1 L268.0,1244.1 L269.5,1244.1 L271.0,1244.2 L272.5,1244.2 L274.0,1244.2 L275.5,1244.2 L277.0,1244.2 L278.5,1244.3 L280.0,1244.3 L281.5,1244.3 L283.0,1244.3 L284.5,1244.4 L286.0,1244.4 L287.5,1244.4 L289.0,1244.4 L290.5,1244.4 L292.0,1244.5 L293.5,1244.5 L295.0,1244.5 L296.5,1244.5 L298.0,1244.5 L299.5,1244.6 L301.0,1244.6 L302.5,1244.6 L304.0,1244.6 L305.5,1244.6 L307.0,1244.7 L308.5,1244.7 L310.0,1244.7 L311.5,1244.7 L313.0,1244.7 L314.5,1244.8 L316.0,1244.8 L317.5,1244.8 L319.0,1244.8 L320.5,1244.8 L322.0,1244.8 L323.5,1244.9 L325.0,1244.9 L326.5,1244.9 L328.0,1244.9 L329.5,1244.9 L331.0,1245.0 L332.5,1245.0 L334.0,1245.0 L335.5,1245.0 L337.0,1245.0 L338.5,1245.1 L340.0,1245.1 L341.5,1245.1 L343.0,1245.1 L344.5,1245.1 L346.0,1245.1 L347.5,1245.2 L349.0,1245.2 L350.5,1245.2 L352.0,1245.2 L353.5,1245.2 L355.0,1245.3 L356.5,1245.3 L358.0,1245.3 L359.5,1245.3 L361.0,1245.3 L362.5,1245.3 L364.0,1245.4 L365.5,1245.4 L367.0,1245.4 L368.5,1245.4 L370.0,1245.4 L371.5,1245.5 L373.0,1245.5 L374.5,1245.5 L376.0,1245.5 L377.5,1245.5 L379.0,1245.5 L380.5,1245.6 L382.0,1245.6 L383.5,1245.6 L385.0,1245.6 L386.5,1245.6 L388.0,1245.6 L389.5,1245.7 L391.0,1245.7 L392.5,1245.7 L394.0,1245.7 L395.5,1245.7 L397.0,1245.7 L398.5,1245.8 L400.0,1245.8 L401.5,1245.8 L403.0,1245.8 L404.5,1245.8 L406.0,1245.8 L407.5,1245.9 L409.0,1245.9 L410.5,1245.9 L412.0,1245.9 L413.5,1245.9 L415.0,1245.9 L416.5,1246.0 L418.0,1246.0 L419.5,1246.0 L421.0,1246.0 L422.5,1246.0 L424.0,1246.0 L425.5,1246.1 L427.0,1246.1 L428.5,1246.1 L430.0,1246.1 L431.5,1246.1 L433.0,1246.1 L434.5,1246.1 L436.0,1246.2 L437.5,1246.2 L439.0,1246.2 L440.5,1246.2 L442.0,1246.2 L443.5,1246.2 L445.0,1246.3 L446.5,1246.3 L448.0,1246.3 L449.5,1246.3 L451.0,1246.3 L452.5,1246.3 L454.0,1246.3 L455.5,1246.4 L457.0,1246.4 L458.5,1246.4 L460.0,1246.4 L461.5,1246.4 L463.0,1246.4 L464.5,1246.4 L466.0,1246.5 L467.5,1246.5 L469.0,1246.5 L470.5,1246.5 L472.0,1246.5 L473.5,1246.5 L475.0,1246.5 L476.5,1246.6 L478.0,1246.6 L479.5,1246.6 L481.0,1246.6 L482.5,1246.6 L484.0,1246.6 L485.5,1246.7 L487.0,1246.7 L488.5,1246.7 L490.0,1246.7 L491.5,1246.7 L493.0,1246.7 L494.5,1246.8 L496.0,1246.8 L497.5,1246.8 L499.0,1246.8 L500.5,1246.8 L502.0,1246.8 L503.5,1246.8 L505.0,1246.9 L506.5,1246.9 L508.0,1246.9 L509.5,1246.9 L511.0,1246.9 L512.5,1246.9 L514.0,1247.0 L515.5,1247.0 L517.0,1247.0 L518.5,1247.0 L520.0,1247.0 L521.5,1247.0 L523.0,1247.1 L524.5,1247.1 L526.0,1247.1 L527.5,1247.1 L529.0,1247.1 L530.5,1247.1 L532.0,1247.1 L533.5,1247.2 L535.0,1247.2 L536.5,1247.2 L538.0,1247.2 L539.5,1247.2 L541.0,1247.2 L542.5,1247.2 L544.0,1247.3 L545.5,1247.3 L547.0,1247.3 L548.5,1247.3 L550.0,1247.3 L551.5,1247.3 L553.0,1247.3 L554.5,1247.3 L556.0,1247.3 L557.5,1247.4 L559.0,1247.4 L560.5,1247.4 L562.0,1247.4 L563.5,1247.4 L565.0,1247.4 L566.5,1247.4 L568.0,1247.4 L569.5,1247.4 L571.0,1247.4 L572.5,1247.4 L574.0,1247.5 L575.5,1247.5 L577.0,1247.5 L578.5,1247.5 L580.0,1247.5 L581.5,1247.5 L583.0,1247.5 L584.5,1247.5 L586.0,1247.5 L587.5,1247.5 L589.0,1247.5 L590.5,1247.5 L592.0,1247.5 L593.5,1247.5 L595.0,1247.5 L596.5,1247.5 L598.0,1247.5 L599.5,1247.5 L601.0,1247.5 L602.5,1247.5 L604.0,1247.5 L605.5,1247.5 L607.0,1247.5 L608.5,1247.5 L610.0,1247.4 L611.5,1247.4 L613.0,1247.4 L614.5,1247.4 L616.0,1247.4 L617.5,1247.4 L619.0,1247.4 L620.5,1247.4 L622.0,1247.3 L623.5,1247.3 L625.0,1247.3 L626.5,1247.3 L628.0,1247.3 L629.5,1247.2 L631.0,1247.2 L632.5,1247.2 L634.0,1247.2 L635.5,1247.2 L637.0,1247.1 L638.5,1247.1 L640.0,1247.1 L641.5,1247.0 L643.0,1247.0 L644.5,1247.0 L646.0,1247.0 L647.5,1246.9 L649.0,1246.9 L650.5,1246.9 L652.0,1246.8 L653.5,1246.8 L655.0,1246.8 L656.5,1246.7 L658.0,1246.7 L659.5,1246.6 L661.0,1246.6 L662.5,1246.6 L664.0,1246.5 L665.5,1246.5 L667.0,1246.4 L668.5,1246.3 L670.0,1246.3 L671.5,1246.2 L673.0,1246.1 L674.5,1246.0 L676.0,1245.9 L677.5,1245.7 L679.0,1245.6 L680.5,1245.4 L682.0,1245.2 L683.5,1245.1 L685.0,1244.9 L686.5,1244.7 L688.0,1244.5 L689.5,1244.2 L691.0,1244.0 L692.5,1243.8 L694.0,1243.5 L695.5,1243.2 L697.0,1243.0 L698.5,1242.7 L700.0,1242.4 L701.5,1242.1 L703.0,1241.8 L704.5,1241.4 L706.0,1241.1 L707.5,1240.8 L709.0,1240.4 L710.5,1240.1 L712.0,1239.7 L713.5,1239.3 L715.0,1238.9 L716.5,1238.5 L718.0,1238.1 L719.5,1237.6 L721.0,1237.0 L722.5,1236.4 L724.0,1235.7 L725.5,1235.0 L727.0,1234.1 L728.5,1233.2 L730.0,1232.3 L731.5,1231.3 L733.0,1230.2 L734.5,1229.2 L736.0,1228.0 L737.5,1226.9 L739.0,1225.7 L740.5,1224.5 L742.0,1223.2 L743.5,1221.8 L745.0,1220.3 L746.5,1218.8 L748.0,1217.2 L749.5,1215.5 L751.0,1213.8 L752.5,1212.0 L754.0,1210.2 L755.5,1208.3 L757.0,1206.4 L758.5,1204.5 L760.0,1202.6 L761.5,1200.6 L763.0,1198.7 L764.5,1196.7 L766.0,1194.6 L767.5,1192.6 L769.0,1190.5 L770.5,1188.3 L772.0,1186.1 L773.5,1183.9 L775.0,1181.6 L776.5,1179.2 L778.0,1176.7 L779.5,1174.2 L781.0,1171.6 L782.5,1168.9 L784.0,1166.1 L785.5,1163.3 L787.0,1160.3 L788.5,1157.2 L790.0,1154.0 L791.5,1150.8 L793.0,1147.4 L794.5,1144.0 L796.0,1140.5 L797.5,1136.9 L799.0,1133.2 L800.5,1129.4 L802.0,1125.6 L803.5,1121.6 L805.0,1117.5 L806.5,1113.4 L808.0,1109.0 L809.5,1104.6 L811.0,1100.1 L812.5,1095.4 L814.0,1090.7 L815.5,1085.9 L817.0,1081.0 L818.5,1076.0 L820.0,1070.9 L821.5,1065.8 L823.0,1060.6 L824.5,1055.3 L826.0,1050.0 L827.5,1044.6 L829.0,1039.1 L830.5,1033.6 L832.0,1028.0 L833.5,1022.3 L835.0,1016.5 L836.5,1010.6 L838.0,1004.6 L839.5,998.6 L841.0,992.4 L842.5,986.2 L844.0,979.8 L845.5,973.3 L847.0,966.7 L848.5,960.1 L850.0,953.2 L851.5,946.2 L853.0,939.1 L854.5,931.7 L856.0,924.2 L857.5,916.4 L859.0,908.3 L860.5,900.1 L862.0,891.6 L863.5,883.0 L865.0,874.2 L866.5,865.4 L868.0,856.4 L869.5,847.4 L871.0,838.3 L872.5,829.3 L874.0,820.2 L875.5,811.2 L877.0,802.2 L878.5,793.4 L880.0,784.6 L881.5,776.0 L883.0,767.5 L884.5,759.3 L886.0,751.1 L887.5,743.1 L889.0,735.3 L890.5,727.5 L892.0,719.9 L893.5,712.3 L895.0,704.7 L896.5,697.2 L898.0,689.6 L899.5,682.1 L901.0,674.4 L902.5,666.7 L904.0,659.0 L905.5,651.0 L907.0,643.0 L908.5,634.8 L910.0,626.3 L911.5,617.6 L913.0,608.6 L914.5,599.2 L916.0,589.5 L917.5,579.5 L919.0,569.4 L920.5,559.2 L922.0,549.3 L923.5,539.7 L925.0,530.4 L926.5,521.6 L928.0,513.2 L929.5,505.0 L931.0,497.2 L932.5,489.5 L934.0,482.1 L935.5,474.8 L937.0,467.6 L938.5,460.5 L940.0,453.5 L941.5,446.5 L943.0,439.7 L944.5,432.9 L946.0,426.2 L947.5,419.6 L949.0,413.2 L950.5,406.9 L952.0,400.7 L953.5,394.6 L955.0,388.6 L956.5,382.8 L958.0,377.0 L959.5,371.3 L961.0,365.7 L962.5,360.3 L964.0,355.0 L965.5,349.8 L967.0,344.8 L968.5,340.0 L970.0,335.4 L971.5,331.0 L973.0,326.6 L974.5,322.5 L976.0,318.4 L977.5,314.4 L979.0,310.6 L980.5,306.9 L982.0,303.4 L983.5,300.1 L985.0,296.9 L986.5,293.9 L988.0,291.1 L989.5,288.5 L991.0,286.1 L992.5,283.8 L994.0,281.7 L995.5,279.6 L997.0,277.6 L998.5,275.6 L1000.0,273.7 L1001.5,271.9 L1003.0,270.1 L1004.5,268.5 L1006.0,267.2 L1007.5,266.1 L1009.0,265.3 L1010.5,264.7 L1012.0,264.4 L1013.5,264.2 L1015.0,264.3 L1016.5,264.5 L1018.0,265.0 L1019.5,265.5 L1021.0,266.3 L1022.5,267.2 L1024.0,268.4 L1025.5,269.8 L1027.0,271.6 L1028.5,273.7 L1030.0,276.0 L1031.5,278.4 L1033.0,281.0 L1034.5,283.6 L1036.0,286.1 L1037.5,288.6 L1039.0,291.1 L1040.5,293.5 L1042.0,295.9 L1043.5,298.3 L1045.0,300.9 L1046.5,303.7 L1048.0,306.7 L1049.5,309.9 L1051.0,313.5 L1052.5,317.5 L1054.0,321.8 L1055.5,326.4 L1057.0,331.3 L1058.5,336.4 L1060.0,341.5 L1061.5,346.8 L1063.0,352.0 L1064.5,357.3 L1066.0,362.6 L1067.5,367.9 L1069.0,373.4 L1070.5,378.9 L1072.0,384.5 L1073.5,390.2 L1075.0,396.0 L1076.5,402.0 L1078.0,408.0 L1079.5,414.2 L1081.0,420.4 L1082.5,426.7 L1084.0,433.0 L1085.5,439.3 L1087.0,445.6 L1088.5,451.9 L1090.0,458.3 L1091.5,464.6 L1093.0,470.9 L1094.5,477.2 L1096.0,483.5 L1097.5,489.7 L1099.0,495.9 L1100.5,502.1 L1102.0,508.2 L1103.5,514.3 L1105.0,520.3 L1106.5,526.3 L1108.0,532.3 L1109.5,538.3 L1111.0,544.4 L1112.5,550.5 L1114.0,556.7 L1115.5,562.9 L1117.0,569.2 L1118.5,575.5 L1120.0,581.8 L1121.5,588.2 L1123.0,594.5 L1124.5,600.8 L1126.0,607.2 L1127.5,613.5 L1129.0,619.8 L1130.5,626.2 L1132.0,632.4 L1133.5,638.7 L1135.0,644.8 L1136.5,650.9 L1138.0,656.9 L1139.5,662.8 L1141.0,668.7 L1142.5,674.4 L1144.0,680.2 L1145.5,685.9 L1147.0,691.5 L1148.5,697.1 L1150.0,702.6 L1151.5,708.1 L1153.0,713.5 L1154.5,718.9 L1156.0,724.3 L1157.5,729.6 L1159.0,734.9 L1160.5,740.2 L1162.0,745.4 L1163.5,750.6 L1165.0,755.8 L1166.5,761.0 L1168.0,766.1 L1169.5,771.3 L1171.0,776.4 L1172.5,781.4 L1174.0,786.4 L1175.5,791.4 L1177.0,796.2 L1178.5,801.1 L1180.0,805.9 L1181.5,810.6 L1183.0,815.3 L1184.5,820.0 L1186.0,824.6 L1187.5,829.2 L1189.0,833.7 L1190.5,838.1 L1192.0,842.4 L1193.5,846.7 L1195.0,850.9 L1196.5,855.0 L1198.0,859.0 L1199.5,862.9 L1201.0,866.8 L1202.5,870.6 L1204.0,874.3 L1205.5,877.9 L1207.0,881.4 L1208.5,884.9 L1210.0,888.3 L1211.5,891.6 L1213.0,894.9 L1214.5,898.1 L1216.0,901.2 L1217.5,904.2 L1219.0,907.2 L1220.5,910.1 L1222.0,912.9 L1223.5,915.7 L1225.0,918.3 L1226.5,920.9 L1228.0,923.5 L1229.5,925.9 L1231.0,928.4 L1232.5,930.7 L1234.0,933.0 L1235.5,935.2 L1237.0,937.4 L1238.5,939.4 L1240.0,941.4 L1241.5,943.4 L1243.0,945.2 L1244.5,947.0 L1246.0,948.8 L1247.5,950.5 L1249.0,952.2 L1250.5,953.9 L1252.0,955.5 L1253.5,957.2 L1255.0,958.8 L1256.5,960.4 L1258.0,962.1 L1259.5,963.7 L1261.0,965.3 L1262.5,966.9 L1264.0,968.5 L1265.5,970.0 L1267.0,971.6 L1268.5,973.2 L1270.0,974.8 L1271.5,976.4 L1273.0,978.0 L1274.5,979.6 L1276.0,981.2 L1277.5,982.7 L1279.0,984.3 L1280.5,985.9 L1282.0,987.5 L1283.5,989.1 L1285.0,990.7 L1286.5,992.3 L1288.0,993.9 L1289.5,995.5 L1291.0,997.2 L1292.5,998.8 L1294.0,1000.4 L1295.5,1002.0 L1297.0,1003.6 L1298.5,1005.2 L1300.0,1006.8 L1301.5,1008.4 L1303.0,1010.1 L1304.5,1011.7 L1306.0,1013.3 L1307.5,1014.9 L1309.0,1016.6 L1310.5,1018.2 L1312.0,1019.8 L1313.5,1021.5 L1315.0,1023.1 L1316.5,1024.8 L1318.0,1026.4 L1319.5,1028.1 L1321.0,1029.7 L1322.5,1031.4 L1324.0,1033.1 L1325.5,1034.7 L1327.0,1036.4 L1328.5,1038.1 L1330.0,1039.7 L1331.5,1041.4 L1333.0,1043.1 L1334.5,1044.8 L1336.0,1046.5 L1337.5,1048.2 L1339.0,1049.9 L1340.5,1051.6 L1342.0,1053.4 L1343.5,1055.1 L1345.0,1056.8 L1346.5,1058.6 L1348.0,1060.3 L1349.5,1062.0 L1351.0,1063.8 L1352.5,1065.6 L1354.0,1067.3 L1355.5,1069.1 L1357.0,1070.9 L1358.5,1072.6 L1360.0,1074.4 L1361.5,1076.2 L1363.0,1078.0 L1364.5,1079.8 L1366.0,1081.7 L1367.5,1083.5 L1369.0,1085.3 L1370.5,1087.1 L1372.0,1089.0 L1373.5,1090.8 L1375.0,1092.7 L1376.5,1094.6 L1378.0,1096.5 L1379.5,1098.3 L1381.0,1100.2 L1382.5,1102.1 L1384.0,1104.1 L1385.5,1106.0 L1387.0,1107.9 L1388.5,1109.8 L1390.0,1111.8 L1391.5,1113.7 L1393.0,1115.7 L1394.5,1117.6 L1396.0,1119.5 L1397.5,1121.1 L1399.0,1122.6 L1400.0,1123.6"/>
<path d="M193.0,1243.0 L194.5,1243.0 L196.0,1243.1 L197.5,1243.1 L199.0,1243.1 L200.5,1243.1 L202.0,1243.1 L203.5,1243.2 L205.0,1243.2 L206.5,1243.2 L208.0,1243.2 L209.5,1243.3 L211.0,1243.3 L212.5,1243.3 L214.0,1243.3 L215.5,1243.4 L217.0,1243.4 L218.5,1243.4 L220.0,1243.4 L221.5,1243.5 L223.0,1243.5 L224.5,1243.5 L226.0,1243.5 L227.5,1243.5 L229.0,1243.6 L230.5,1243.6 L232.0,1243.6 L233.5,1243.6 L235.0,1243.7 L236.5,1243.7 L238.0,1243.7 L239.5,1243.7 L241.0,1243.8 L242.5,1243.8 L244.0,1243.8 L245.5,1243.8 L247.0,1243.8 L248.5,1243.9 L250.0,1243.9 L251.5,1243.9 L253.0,1243.9 L254.5,1244.0 L256.0,1244.0 L257.5,1244.0 L259.0,1244.0 L260.5,1244.0 L262.0,1244.1 L263.5,1244.1 L265.0,1244.1 L266.5,1244.1 L268.0,1244.1 L269.5,1244.2 L271.0,1244.2 L272.5,1244.2 L274.0,1244.2 L275.5,1244.3 L277.0,1244.3 L278.5,1244.3 L280.0,1244.3 L281.5,1244.3 L283.0,1244.4 L284.5,1244.4 L286.0,1244.4 L287.5,1244.4 L289.0,1244.4 L290.5,1244.5 L292.0,1244.5 L293.5,1244.5 L295.0,1244.5 L296.5,1244.5 L298.0,1244.6 L299.5,1244.6 L301.0,1244.6 L302.5,1244.6 L304.0,1244.6 L305.5,1244.7 L307.0,1244.7 L308.5,1244.7 L310.0,1244.7 L311.5,1244.7 L313.0,1244.8 L314.5,1244.8 L316.0,1244.8 L317.5,1244.8 L319.0,1244.8 L320.5,1244.9 L322.0,1244.9 L323.5,1244.9 L325.0,1244.9 L326.5,1244.9 L328.0,1245.0 L329.5,1245.0 L331.0,1245.0 L332.5,1245.0 L334.0,1245.0 L335.5,1245.1 L337.0,1245.1 L338.5,1245.1 L340.0,1245.1 L341.5,1245.1 L343.0,1245.2 L344.5,1245.2 L346.0,1245.2 L347.5,1245.2 L349.0,1245.2 L350.5,1245.2 L352.0,1245.3 L353.5,1245.3 L355.0,1245.3 L356.5,1245.3 L358.0,1245.3 L359.5,1245.4 L361.0,1245.4 L362.5,1245.4 L364.0,1245.4 L365.5,1245.4 L367.0,1245.4 L368.5,1245.5 L370.0,1245.5 L371.5,1245.5 L373.0,1245.5 L374.5,1245.5 L376.0,1245.5 L377.5,1245.6 L379.0,1245.6 L380.5,1245.6 L382.0,1245.6 L383.5,1245.6 L385.0,1245.6 L386.5,1245.7 L388.0,1245.7 L389.5,1245.7 L391.0,1245.7 L392.5,1245.7 L394.0,1245.7 L395.5,1245.8 L397.0,1245.8 L398.5,1245.8 L400.0,1245.8 L401.5,1245.8 L403.0,1245.8 L404.5,1245.9 L406.0,1245.9 L407.5,1245.9 L409.0,1245.9 L410.5,1245.9 L412.0,1245.9 L413.5,1246.0 L415.0,1246.0 L416.5,1246.0 L418.0,1246.0 L419.5,1246.0 L421.0,1246.0 L422.5,1246.0 L424.0,1246.1 L425.5,1246.1 L427.0,1246.1 L428.5,1246.1 L430.0,1246.1 L431.5,1246.1 L433.0,1246.2 L434.5,1246.2 L436.0,1246.2 L437.5,1246.2 L439.0,1246.2 L440.5,1246.2 L442.0,1246.2 L443.5,1246.3 L445.0,1246.3 L446.5,1246.3 L448.0,1246.3 L449.5,1246.3 L451.0,1246.3 L452.5,1246.3 L454.0,1246.4 L455.5,1246.4 L457.0,1246.4 L458.5,1246.4 L460.0,1246.4 L461.5,1246.4 L463.0,1246.4 L464.5,1246.5 L466.0,1246.5 L467.5,1246.5 L469.0,1246.5 L470.5,1246.5 L472.0,1246.5 L473.5,1246.5 L475.0,1246.5 L476.5,1246.6 L478.0,1246.6 L479.5,1246.6 L481.0,1246.6 L482.5,1246.6 L484.0,1246.6 L485.5,1246.6 L487.0,1246.7 L488.5,1246.7 L490.0,1246.7 L491.5,1246.7 L493.0,1246.7 L494.5,1246.7 L496.0,1246.7 L497.5,1246.8 L499.0,1246.8 L500.5,1246.8 L502.0,1246.8 L503.5,1246.8 L505.0,1246.8 L506.5,1246.8 L508.0,1246.9 L509.5,1246.9 L511.0,1246.9 L512.5,1246.9 L514.0,1246.9 L515.5,1246.9 L517.0,1246.9 L518.5,1247.0 L520.0,1247.0 L521.5,1247.0 L523.0,1247.0 L524.5,1247.0 L526.0,1247.0 L527.5,1247.0 L529.0,1247.1 L530.5,1247.1 L532.0,1247.1 L533.5,1247.1 L535.0,1247.1 L536.5,1247.1 L538.0,1247.1 L539.5,1247.2 L541.0,1247.2 L542.5,1247.2 L544.0,1247.2 L545.5,1247.2 L547.0,1247.2 L548.5,1247.2 L550.0,1247.2 L551.5,1247.2 L553.0,1247.3 L554.5,1247.3 L556.0,1247.3 L557.5,1247.3 L559.0,1247.3 L560.5,1247.3 L562.0,1247.3 L563.5,1247.3 L565.0,1247.3 L566.5,1247.4 L568.0,1247.4 L569.5,1247.4 L571.0,1247.4 L572.5,1247.4 L574.0,1247.4 L575.5,1247.4 L577.0,1247.4 L578.5,1247.4 L580.0,1247.4 L581.5,1247.4 L583.0,1247.4 L584.5,1247.4 L586.0,1247.5 L587.5,1247.5 L589.0,1247.5 L590.5,1247.5 L592.0,1247.5 L593.5,1247.5 L595.0,1247.5 L596.5,1247.5 L598.0,1247.5 L599.5,1247.5 L601.0,1247.5 L602.5,1247.5 L604.0,1247.5 L605.5,1247.5 L607.0,1247.5 L608.5,1247.5 L610.0,1247.5 L611.5,1247.5 L613.0,1247.5 L614.5,1247.5 L616.0,1247.5 L617.5,1247.5 L619.0,1247.5 L620.5,1247.5 L622.0,1247.5 L623.5,1247.5 L625.0,1247.4 L626.5,1247.4 L628.0,1247.4 L629.5,1247.4 L631.0,1247.4 L632.5,1247.4 L634.0,1247.4 L635.5,1247.4 L637.0,1247.3 L638.5,1247.3 L640.0,1247.3 L641.5,1247.3 L643.0,1247.3 L644.5,1247.2 L646.0,1247.2 L647.5,1247.2 L649.0,1247.2 L650.5,1247.1 L652.0,1247.1 L653.5,1247.1 L655.0,1247.1 L656.5,1247.0 L658.0,1247.0 L659.5,1247.0 L661.0,1246.9 L662.5,1246.9 L664.0,1246.9 L665.5,1246.8 L667.0,1246.8 L668.5,1246.8 L670.0,1246.7 L671.5,1246.7 L673.0,1246.7 L674.5,1246.6 L676.0,1246.6 L677.5,1246.6 L679.0,1246.5 L680.5,1246.5 L682.0,1246.4 L683.5,1246.4 L685.0,1246.3 L686.5,1246.2 L688.0,1246.2 L689.5,1246.1 L691.0,1246.0 L692.5,1245.9 L694.0,1245.8 L695.5,1245.7 L697.0,1245.6 L698.5,1245.4 L700.0,1245.3 L701.5,1245.1 L703.0,1245.0 L704.5,1244.8 L706.0,1244.7 L707.5,1244.5 L709.0,1244.3 L710.5,1244.1 L712.0,1243.9 L713.5,1243.7 L715.0,1243.5 L716.5,1243.3 L718.0,1243.0 L719.5,1242.8 L721.0,1242.6 L722.5,1242.3 L724.0,1242.0 L725.5,1241.8 L727.0,1241.5 L728.5,1241.2 L730.0,1240.9 L731.5,1240.6 L733.0,1240.3 L734.5,1240.0 L736.0,1239.6 L737.5,1239.3 L739.0,1238.9 L740.5,1238.6 L742.0,1238.2 L743.5,1237.7 L745.0,1237.2 L746.5,1236.6 L748.0,1235.9 L749.5,1235.1 L751.0,1234.3 L752.5,1233.3 L754.0,1232.3 L755.5,1231.3 L757.0,1230.2 L758.5,1229.1 L760.0,1228.0 L761.5,1226.9 L763.0,1225.8 L764.5,1224.6 L766.0,1223.5 L767.5,1222.3 L769.0,1221.2 L770.5,1220.0 L772.0,1218.8 L773.5,1217.5 L775.0,1216.2 L776.5,1214.9 L778.0,1213.6 L779.5,1212.2 L781.0,1210.8 L782.5,1209.3 L784.0,1207.7 L785.5,1206.2 L787.0,1204.5 L788.5,1202.8 L790.0,1201.0 L791.5,1199.1 L793.0,1197.2 L794.5,1195.1 L796.0,1192.8 L797.5,1190.5 L799.0,1188.0 L800.5,1185.5 L802.0,1182.9 L803.5,1180.2 L805.0,1177.4 L806.5,1174.7 L808.0,1171.8 L809.5,1169.0 L811.0,1166.1 L812.5,1163.1 L814.0,1160.1 L815.5,1157.0 L817.0,1153.9 L818.5,1150.7 L820.0,1147.4 L821.5,1144.1 L823.0,1140.7 L824.5,1137.1 L826.0,1133.5 L827.5,1129.9 L829.0,1126.1 L830.5,1122.1 L832.0,1118.1 L833.5,1114.0 L835.0,1109.7 L836.5,1105.3 L838.0,1100.8 L839.5,1096.2 L841.0,1091.5 L842.5,1086.7 L844.0,1081.8 L845.5,1076.9 L847.0,1071.9 L848.5,1066.8 L850.0,1061.6 L851.5,1056.4 L853.0,1051.1 L854.5,1045.8 L856.0,1040.4 L857.5,1034.9 L859.0,1029.4 L860.5,1023.7 L862.0,1018.0 L863.5,1012.2 L865.0,1006.4 L866.5,1000.4 L868.0,994.4 L869.5,988.2 L871.0,982.0 L872.5,975.7 L874.0,969.3 L875.5,962.7 L877.0,956.1 L878.5,949.3 L880.0,942.4 L881.5,935.4 L883.0,928.2 L884.5,920.7 L886.0,913.1 L887.5,905.3 L889.0,897.3 L890.5,889.1 L892.0,880.9 L893.5,872.5 L895.0,864.0 L896.5,855.4 L898.0,846.8 L899.5,838.1 L901.0,829.4 L902.5,820.7 L904.0,812.0 L905.5,803.4 L907.0,794.8 L908.5,786.3 L910.0,777.8 L911.5,769.5 L913.0,761.3 L914.5,753.2 L916.0,745.1 L917.5,737.2 L919.0,729.3 L920.5,721.4 L922.0,713.6 L923.5,705.7 L925.0,697.9 L926.5,690.1 L928.0,682.3 L929.5,674.5 L931.0,666.6 L932.5,658.7 L934.0,650.8 L935.5,642.7 L937.0,634.6 L938.5,626.4 L940.0,618.1 L941.5,609.6 L943.0,601.0 L944.5,592.3 L946.0,583.4 L947.5,574.5 L949.0,565.6 L950.5,556.7 L952.0,548.0 L953.5,539.5 L955.0,531.1 L956.5,522.9 L958.0,515.0 L959.5,507.1 L961.0,499.4 L962.5,491.8 L964.0,484.3 L965.5,476.9 L967.0,469.6 L968.5,462.4 L970.0,455.3 L971.5,448.2 L973.0,441.2 L974.5,434.3 L976.0,427.5 L977.5,420.7 L979.0,414.1 L980.5,407.6 L982.0,401.2 L983.5,395.0 L985.0,388.9 L986.5,382.9 L988.0,377.2 L989.5,371.5 L991.0,366.0 L992.5,360.6 L994.0,355.4 L995.5,350.3 L997.0,345.4 L998.5,340.6 L1000.0,336.0 L1001.5,331.5 L1003.0,327.2 L1004.5,322.9 L1006.0,318.9 L1007.5,314.9 L1009.0,311.1 L1010.5,307.4 L1012.0,303.9 L1013.5,300.5 L1015.0,297.3 L1016.5,294.1 L1018.0,291.1 L1019.5,288.1 L1021.0,285.3 L1022.5,282.7 L1024.0,280.2 L1025.5,277.9 L1027.0,275.7 L1028.5,273.7 L1030.0,271.9 L1031.5,270.2 L1033.0,268.8 L1034.5,267.6 L1036.0,266.6 L1037.5,265.9 L1039.0,265.2 L1040.5,264.8 L1042.0,264.4 L1043.5,264.2 L1045.0,264.1 L1046.5,264.2 L1048.0,264.5 L1049.5,264.8 L1051.0,265.4 L1052.5,266.1 L1054.0,267.0 L1055.5,268.2 L1057.0,269.8 L1058.5,271.7 L1060.0,273.9 L1061.5,276.4 L1063.0,279.0 L1064.5,281.6 L1066.0,284.2 L1067.5,286.8 L1069.0,289.4 L1070.5,292.1 L1072.0,294.8 L1073.5,297.7 L1075.0,300.8 L1076.5,304.0 L1078.0,307.5 L1079.5,311.2 L1081.0,315.0 L1082.5,318.9 L1084.0,323.0 L1085.5,327.0 L1087.0,331.0 L1088.5,335.1 L1090.0,339.1 L1091.5,343.1 L1093.0,347.1 L1094.5,351.2 L1096.0,355.4 L1097.5,359.8 L1099.0,364.4 L1100.5,369.3 L1102.0,374.4 L1103.5,379.8 L1105.0,385.4 L1106.5,391.2 L1108.0,397.0 L1109.5,402.9 L1111.0,408.7 L1112.5,414.5 L1114.0,420.1 L1115.5,425.6 L1117.0,431.0 L1118.5,436.3 L1120.0,441.7 L1121.5,447.0 L1123.0,452.4 L1124.5,457.8 L1126.0,463.3 L1127.5,468.9 L1129.0,474.5 L1130.5,480.2 L1132.0,485.9 L1133.5,491.6 L1135.0,497.4 L1136.5,503.2 L1138.0,509.0 L1139.5,514.8 L1141.0,520.6 L1142.5,526.4 L1144.0,532.3 L1145.5,538.3 L1147.0,544.4 L1148.5,550.9 L1150.0,557.6 L1151.5,564.6 L1153.0,571.9 L1154.5,579.3 L1156.0,586.8 L1157.5,594.0 L1159.0,601.0 L1160.5,607.7 L1162.0,614.1 L1163.5,620.2 L1165.0,626.3 L1166.5,632.1 L1168.0,638.0 L1169.5,643.8 L1171.0,649.5 L1172.5,655.3 L1174.0,661.0 L1175.5,666.6 L1177.0,672.2 L1178.5,677.8 L1180.0,683.3 L1181.5,688.7 L1183.0,694.0 L1184.5,699.3 L1186.0,704.4 L1187.5,709.6 L1189.0,714.6 L1190.5,719.6 L1192.0,724.6 L1193.5,729.5 L1195.0,734.3 L1196.5,739.0 L1198.0,743.6 L1199.5,748.2 L1201.0,752.7 L1202.5,757.1 L1204.0,761.4 L1205.5,765.7 L1207.0,769.8 L1208.5,773.9 L1210.0,777.9 L1211.5,781.8 L1213.0,785.6 L1214.5,789.3 L1216.0,793.0 L1217.5,796.5 L1219.0,800.1 L1220.5,803.5 L1222.0,806.8 L1223.5,810.1 L1225.0,813.3 L1226.5,816.4 L1228.0,819.5 L1229.5,822.5 L1231.0,825.4 L1232.5,828.3 L1234.0,831.1 L1235.5,833.8 L1237.0,836.5 L1238.5,839.1 L1240.0,841.7 L1241.5,844.2 L1243.0,846.6 L1244.5,849.0 L1246.0,851.4 L1247.5,853.7 L1249.0,856.0 L1250.5,858.2 L1252.0,860.4 L1253.5,862.5 L1255.0,864.7 L1256.5,866.7 L1258.0,868.8 L1259.5,870.8 L1261.0,872.7 L1262.5,874.7 L1264.0,876.6 L1265.5,878.5 L1267.0,880.3 L1268.5,882.1 L1270.0,884.0 L1271.5,885.8 L1273.0,887.6 L1274.5,889.4 L1276.0,891.1 L1277.5,892.9 L1279.0,894.6 L1280.5,896.3 L1282.0,898.0 L1283.5,899.7 L1285.0,901.4 L1286.5,903.1 L1288.0,904.8 L1289.5,906.4 L1291.0,908.1 L1292.5,909.7 L1294.0,911.4 L1295.5,913.1 L1297.0,914.7 L1298.5,916.4 L1300.0,918.1 L1301.5,919.7 L1303.0,921.4 L1304.5,923.1 L1306.0,924.7 L1307.5,926.4 L1309.0,928.1 L1310.5,929.8 L1312.0,931.6 L1313.5,933.3 L1315.0,935.0 L1316.5,936.7 L1318.0,938.5 L1319.5,940.3 L1321.0,942.0 L1322.5,943.9 L1324.0,945.7 L1325.5,947.5 L1327.0,949.4 L1328.5,951.3 L1330.0,953.2 L1331.5,955.1 L1333.0,957.1 L1334.5,959.0 L1336.0,961.0 L1337.5,963.0 L1339.0,965.1 L1340.5,967.1 L1342.0,969.2 L1343.5,971.3 L1345.0,973.5 L1346.5,975.7 L1348.0,977.9 L1349.5,980.1 L1351.0,982.4 L1352.5,984.7 L1354.0,987.0 L1355.5,989.3 L1357.0,991.6 L1358.5,993.9 L1360.0,996.2 L1361.5,998.6 L1363.0,1000.9 L1364.5,1003.3 L1366.0,1005.7 L1367.5,1008.1 L1369.0,1010.5 L1370.5,1012.9 L1372.0,1015.3 L1373.5,1017.7 L1375.0,1020.0 L1376.5,1022.4 L1378.0,1024.7 L1379.5,1027.0 L1381.0,1029.3 L1382.5,1031.6 L1384.0,1033.9 L1385.5,1036.2 L1387.0,1038.4 L1388.5,1040.7 L1390.0,1042.9 L1391.5,1045.2 L1393.0,1047.4 L1394.5,1049.5 L1396.0,1051.6 L1397.5,1053.5 L1399.0,1055.1 L1400.0,1056.3"/>
<path d="M193.0,1243.0 L194.5,1243.0 L196.0,1243.1 L197.5,1243.1 L199.0,1243.1 L200.5,1243.1 L202.0,1243.1 L203.5,1243.2 L205.0,1243.2 L206.5,1243.2 L208.0,1243.2 L209.5,1243.3 L211.0,1243.3 L212.5,1243.3 L214.0,1243.3 L215.5,1243.4 L217.0,1243.4 L218.5,1243.4 L220.0,1243.4 L221.5,1243.5 L223.0,1243.5 L224.5,1243.5 L226.0,1243.5 L227.5,1243.6 L229.0,1243.6 L230.5,1243.6 L232.0,1243.6 L233.5,1243.6 L235.0,1243.7 L236.5,1243.7 L238.0,1243.7 L239.5,1243.7 L241.0,1243.8 L242.5,1243.8 L244.0,1243.8 L245.5,1243.8 L247.0,1243.9 L248.5,1243.9 L250.0,1243.9 L251.5,1243.9 L253.0,1243.9 L254.5,1244.0 L256.0,1244.0 L257.5,1244.0 L259.0,1244.0 L260.5,1244.1 L262.0,1244.1 L263.5,1244.1 L265.0,1244.1 L266.5,1244.1 L268.0,1244.2 L269.5,1244.2 L271.0,1244.2 L272.5,1244.2 L274.0,1244.3 L275.5,1244.3 L277.0,1244.3 L278.5,1244.3 L280.0,1244.3 L281.5,1244.4 L283.0,1244.4 L284.5,1244.4 L286.0,1244.4 L287.5,1244.4 L289.0,1244.5 L290.5,1244.5 L292.0,1244.5 L293.5,1244.5 L295.0,1244.5 L296.5,1244.6 L298.0,1244.6 L299.5,1244.6 L301.0,1244.6 L302.5,1244.6 L304.0,1244.7 L305.5,1244.7 L307.0,1244.7 L308.5,1244.7 L310.0,1244.7 L311.5,1244.8 L313.0,1244.8 L314.5,1244.8 L316.0,1244.8 L317.5,1244.8 L319.0,1244.9 L320.5,1244.9 L322.0,1244.9 L323.5,1244.9 L325.0,1244.9 L326.5,1245.0 L328.0,1245.0 L329.5,1245.0 L331.0,1245.0 L332.5,1245.0 L334.0,1245.1 L335.5,1245.1 L337.0,1245.1 L338.5,1245.1 L340.0,1245.1 L341.5,1245.2 L343.0,1245.2 L344.5,1245.2 L346.0,1245.2 L347.5,1245.2 L349.0,1245.2 L350.5,1245.3 L352.0,1245.3 L353.5,1245.3 L355.0,1245.3 L356.5,1245.3 L358.0,1245.4 L359.5,1245.4 L361.0,1245.4 L362.5,1245.4 L364.0,1245.4 L365.5,1245.4 L367.0,1245.5 L368.5,1245.5 L370.0,1245.5 L371.5,1245.5 L373.0,1245.5 L374.5,1245.5 L376.0,1245.6 L377.5,1245.6 L379.0,1245.6 L380.5,1245.6 L382.0,1245.6 L383.5,1245.6 L385.0,1245.7 L386.5,1245.7 L388.0,1245.7 L389.5,1245.7 L391.0,1245.7 L392.5,1245.7 L394.0,1245.8 L395.5,1245.8 L397.0,1245.8 L398.5,1245.8 L400.0,1245.8 L401.5,1245.8 L403.0,1245.9 L404.5,1245.9 L406.0,1245.9 L407.5,1245.9 L409.0,1245.9 L410.5,1245.9 L412.0,1246.0 L413.5,1246.0 L415.0,1246.0 L416.5,1246.0 L418.0,1246.0 L419.5,1246.0 L421.0,1246.0 L422.5,1246.1 L424.0,1246.1 L425.5,1246.1 L427.0,1246.1 L428.5,1246.1 L430.0,1246.1 L431.5,1246.2 L433.0,1246.2 L434.5,1246.2 L436.0,1246.2 L437.5,1246.2 L439.0,1246.2 L440.5,1246.2 L442.0,1246.3 L443.5,1246.3 L445.0,1246.3 L446.5,1246.3 L448.0,1246.3 L449.5,1246.3 L451.0,1246.3 L452.5,1246.3 L454.0,1246.4 L455.5,1246.4 L457.0,1246.4 L458.5,1246.4 L460.0,1246.4 L461.5,1246.4 L463.0,1246.4 L464.5,1246.5 L466.0,1246.5 L467.5,1246.5 L469.0,1246.5 L470.5,1246.5 L472.0,1246.5 L473.5,1246.5 L475.0,1246.5 L476.5,1246.6 L478.0,1246.6 L479.5,1246.6 L481.0,1246.6 L482.5,1246.6 L484.0,1246.6 L485.5,1246.6 L487.0,1246.6 L488.5,1246.7 L490.0,1246.7 L491.5,1246.7 L493.0,1246.7 L494.5,1246.7 L496.0,1246.7 L497.5,1246.7 L499.0,1246.8 L500.5,1246.8 L502.0,1246.8 L503.5,1246.8 L505.0,1246.8 L506.5,1246.8 L508.0,1246.8 L509.5,1246.9 L511.0,1246.9 L512.5,1246.9 L514.0,1246.9 L515.5,1246.9 L517.0,1246.9 L518.5,1246.9 L520.0,1246.9 L521.5,1247.0 L523.0,1247.0 L524.5,1247.0 L526.0,1247.0 L527.5,1247.0 L529.0,1247.0 L530.5,1247.0 L532.0,1247.1 L533.5,1247.1 L535.0,1247.1 L536.5,1247.1 L538.0,1247.1 L539.5,1247.1 L541.0,1247.1 L542.5,1247.1 L544.0,1247.2 L545.5,1247.2 L547.0,1247.2 L548.5,1247.2 L550.0,1247.2 L551.5,1247.2 L553.0,1247.2 L554.5,1247.2 L556.0,1247.2 L557.5,1247.3 L559.0,1247.3 L560.5,1247.3 L562.0,1247.3 L563.5,1247.3 L565.0,1247.3 L566.5,1247.3 L568.0,1247.3 L569.5,1247.3 L571.0,1247.3 L572.5,1247.3 L574.0,1247.4 L575.5,1247.4 L577.0,1247.4 L578.5,1247.4 L580.0,1247.4 L581.5,1247.4 L583.0,1247.4 L584.5,1247.4 L586.0,1247.4 L587.5,1247.4 L589.0,1247.4 L590.5,1247.4 L592.0,1247.4 L593.5,1247.4 L595.0,1247.5 L596.5,1247.5 L598.0,1247.5 L599.5,1247.5 L601.0,1247.5 L602.5,1247.5 L604.0,1247.5 L605.5,1247.5 L607.0,1247.5 L608.5,1247.5 L610.0,1247.5 L611.5,1247.5 L613.0,1247.5 L614.5,1247.5 L616.0,1247.5 L617.5,1247.5 L619.0,1247.5 L620.5,1247.5 L622.0,1247.5 L623.5,1247.5 L625.0,1247.5 L626.5,1247.5 L628.0,1247.5 L629.5,1247.5 L631.0,1247.5 L632.5,1247.5 L634.0,1247.5 L635.5,1247.4 L637.0,1247.4 L638.5,1247.4 L640.0,1247.4 L641.5,1247.4 L643.0,1247.4 L644.5,1247.4 L646.0,1247.3 L647.5,1247.3 L649.0,1247.3 L650.5,1247.3 L652.0,1247.3 L653.5,1247.2 L655.0,1247.2 L656.5,1247.2 L658.0,1247.2 L659.5,1247.2 L661.0,1247.1 L662.5,1247.1 L664.0,1247.1 L665.5,1247.1 L667.0,1247.0 L668.5,1247.0 L670.0,1247.0 L671.5,1246.9 L673.0,1246.9 L674.5,1246.9 L676.0,1246.8 L677.5,1246.8 L679.0,1246.8 L680.5,1246.7 L682.0,1246.7 L683.5,1246.7 L685.0,1246.6 L686.5,1246.6 L688.0,1246.5 L689.5,1246.5 L691.0,1246.5 L692.5,1246.4 L694.0,1246.3 L695.5,1246.3 L697.0,1246.2 L698.5,1246.1 L700.0,1246.0 L701.5,1245.9 L703.0,1245.8 L704.5,1245.7 L706.0,1245.6 L707.5,1245.5 L709.0,1245.3 L710.5,1245.2 L712.0,1245.0 L713.5,1244.9 L715.0,1244.7 L716.5,1244.5 L718.0,1244.3 L719.5,1244.1 L721.0,1243.9 L722.5,1243.7 L724.0,1243.5 L725.5,1243.3 L727.0,1243.1 L728.5,1242.8 L730.0,1242.6 L731.5,1242.3 L733.0,1242.1 L734.5,1241.8 L736.0,1241.5 L737.5,1241.3 L739.0,1241.0 L740.5,1240.7 L742.0,1240.4 L743.5,1240.1 L745.0,1239.8 L746.5,1239.4 L748.0,1239.1 L749.5,1238.8 L751.0,1238.4 L752.5,1238.0 L754.0,1237.6 L755.5,1237.2 L757.0,1236.7 L758.5,1236.1 L760.0,1235.4 L761.5,1234.7 L763.0,1234.0 L764.5,1233.2 L766.0,1232.4 L767.5,1231.5 L769.0,1230.6 L770.5,1229.7 L772.0,1228.8 L773.5,1227.8 L775.0,1226.9 L776.5,1225.9 L778.0,1225.0 L779.5,1224.0 L781.0,1223.1 L782.5,1222.1 L784.0,1221.1 L785.5,1220.1 L787.0,1219.0 L788.5,1217.9 L790.0,1216.8 L791.5,1215.7 L793.0,1214.6 L794.5,1213.4 L796.0,1212.2 L797.5,1211.0 L799.0,1209.7 L800.5,1208.4 L802.0,1207.1 L803.5,1205.7 L805.0,1204.3 L806.5,1202.9 L808.0,1201.4 L809.5,1199.9 L811.0,1198.3 L812.5,1196.6 L814.0,1194.9 L815.5,1193.0 L817.0,1191.2 L818.5,1189.2 L820.0,1187.2 L821.5,1185.1 L823.0,1182.9 L824.5,1180.7 L826.0,1178.5 L827.5,1176.2 L829.0,1173.9 L830.5,1171.5 L832.0,1169.1 L833.5,1166.6 L835.0,1164.1 L836.5,1161.6 L838.0,1158.9 L839.5,1156.2 L841.0,1153.5 L842.5,1150.6 L844.0,1147.7 L845.5,1144.8 L847.0,1141.7 L848.5,1138.6 L850.0,1135.4 L851.5,1132.1 L853.0,1128.7 L854.5,1125.2 L856.0,1121.6 L857.5,1117.9 L859.0,1114.1 L860.5,1110.1 L862.0,1106.0 L863.5,1101.7 L865.0,1097.4 L866.5,1093.0 L868.0,1088.4 L869.5,1083.8 L871.0,1079.1 L872.5,1074.4 L874.0,1069.6 L875.5,1064.8 L877.0,1059.9 L878.5,1055.0 L880.0,1050.0 L881.5,1045.0 L883.0,1039.9 L884.5,1034.8 L886.0,1029.6 L887.5,1024.4 L889.0,1019.0 L890.5,1013.6 L892.0,1008.2 L893.5,1002.6 L895.0,997.0 L896.5,991.2 L898.0,985.4 L899.5,979.5 L901.0,973.5 L902.5,967.4 L904.0,961.2 L905.5,954.9 L907.0,948.5 L908.5,941.9 L910.0,935.1 L911.5,928.2 L913.0,921.0 L914.5,913.7 L916.0,906.1 L917.5,898.4 L919.0,890.5 L920.5,882.5 L922.0,874.3 L923.5,866.0 L925.0,857.7 L926.5,849.3 L928.0,840.8 L929.5,832.3 L931.0,823.8 L932.5,815.3 L934.0,806.8 L935.5,798.4 L937.0,790.0 L938.5,781.8 L940.0,773.6 L941.5,765.5 L943.0,757.6 L944.5,749.7 L946.0,741.9 L947.5,734.2 L949.0,726.5 L950.5,718.8 L952.0,711.2 L953.5,703.6 L955.0,696.0 L956.5,688.4 L958.0,680.8 L959.5,673.2 L961.0,665.5 L962.5,657.8 L964.0,650.0 L965.5,642.1 L967.0,634.2 L968.5,626.1 L970.0,617.9 L971.5,609.6 L973.0,601.2 L974.5,592.5 L976.0,583.7 L977.5,574.9 L979.0,566.0 L980.5,557.1 L982.0,548.4 L983.5,539.8 L985.0,531.4 L986.5,523.2 L988.0,515.2 L989.5,507.3 L991.0,499.6 L992.5,492.1 L994.0,484.6 L995.5,477.2 L997.0,469.9 L998.5,462.6 L1000.0,455.4 L1001.5,448.2 L1003.0,441.0 L1004.5,433.8 L1006.0,426.7 L1007.5,419.7 L1009.0,412.6 L1010.5,405.7 L1012.0,398.8 L1013.5,392.0 L1015.0,385.2 L1016.5,378.4 L1018.0,371.6 L1019.5,364.9 L1021.0,358.3 L1022.5,351.9 L1024.0,345.8 L1025.5,340.2 L1027.0,334.9 L1028.5,330.1 L1030.0,325.7 L1031.5,321.5 L1033.0,317.7 L1034.5,314.1 L1036.0,310.7 L1037.5,307.4 L1039.0,304.4 L1040.5,301.5 L1042.0,298.8 L1043.5,296.2 L1045.0,293.7 L1046.5,291.3 L1048.0,289.1 L1049.5,286.9 L1051.0,284.8 L1052.5,282.8 L1054.0,280.8 L1055.5,278.9 L1057.0,277.1 L1058.5,275.3 L1060.0,273.5 L1061.5,271.8 L1063.0,270.2 L1064.5,268.8 L1066.0,267.6 L1067.5,266.7 L1069.0,265.9 L1070.5,265.2 L1072.0,264.8 L1073.5,264.4 L1075.0,264.2 L1076.5,264.1 L1078.0,264.2 L1079.5,264.4 L1081.0,264.8 L1082.5,265.2 L1084.0,265.8 L1085.5,266.6 L1087.0,267.6 L1088.5,268.9 L1090.0,270.5 L1091.5,272.4 L1093.0,274.5 L1094.5,276.7 L1096.0,279.1 L1097.5,281.5 L1099.0,284.1 L1100.5,286.7 L1102.0,289.4 L1103.5,292.2 L1105.0,295.0 L1106.5,297.8 L1108.0,300.7 L1109.5,303.5 L1111.0,306.3 L1112.5,309.2 L1114.0,312.1 L1115.5,315.1 L1117.0,318.2 L1118.5,321.5 L1120.0,324.9 L1121.5,328.4 L1123.0,332.2 L1124.5,336.1 L1126.0,340.2 L1127.5,344.5 L1129.0,348.8 L1130.5,353.2 L1132.0,357.7 L1133.5,362.2 L1135.0,366.7 L1136.5,371.3 L1138.0,376.0 L1139.5,380.8 L1141.0,385.7 L1142.5,390.7 L1144.0,395.9 L1145.5,401.2 L1147.0,406.8 L1148.5,412.5 L1150.0,418.4 L1151.5,424.4 L1153.0,430.5 L1154.5,436.6 L1156.0,442.8 L1157.5,448.9 L1159.0,455.0 L1160.5,461.1 L1162.0,467.2 L1163.5,473.2 L1165.0,479.2 L1166.5,485.1 L1168.0,491.0 L1169.5,496.6 L1171.0,502.2 L1172.5,507.6 L1174.0,512.9 L1175.5,518.1 L1177.0,523.2 L1178.5,528.2 L1180.0,533.2 L1181.5,538.1 L1183.0,542.9 L1184.5,547.7 L1186.0,552.4 L1187.5,557.1 L1189.0,561.7 L1190.5,566.3 L1192.0,570.8 L1193.5,575.3 L1195.0,579.8 L1196.5,584.3 L1198.0,588.9 L1199.5,593.6 L1201.0,598.3 L1202.5,603.1 L1204.0,608.0 L1205.5,612.9 L1207.0,617.9 L1208.5,622.8 L1210.0,627.6 L1211.5,632.2 L1213.0,636.8 L1214.5,641.2 L1216.0,645.6 L1217.5,649.8 L1219.0,654.0 L1220.5,658.1 L1222.0,662.1 L1223.5,666.0 L1225.0,669.8 L1226.5,673.5 L1228.0,677.1 L1229.5,680.7 L1231.0,684.2 L1232.5,687.6 L1234.0,690.9 L1235.5,694.2 L1237.0,697.4 L1238.5,700.5 L1240.0,703.5 L1241.5,706.4 L1243.0,709.3 L1244.5,712.2 L1246.0,715.0 L1247.5,717.7 L1249.0,720.4 L1250.5,723.1 L1252.0,725.7 L1253.5,728.2 L1255.0,730.7 L1256.5,733.1 L1258.0,735.5 L1259.5,737.9 L1261.0,740.2 L1262.5,742.5 L1264.0,744.7 L1265.5,746.9 L1267.0,749.0 L1268.5,751.1 L1270.0,753.2 L1271.5,755.3 L1273.0,757.3 L1274.5,759.4 L1276.0,761.4 L1277.5,763.4 L1279.0,765.4 L1280.5,767.3 L1282.0,769.2 L1283.5,771.2 L1285.0,773.0 L1286.5,774.9 L1288.0,776.8 L1289.5,778.6 L1291.0,780.5 L1292.5,782.3 L1294.0,784.2 L1295.5,786.1 L1297.0,787.9 L1298.5,789.8 L1300.0,791.8 L1301.5,793.7 L1303.0,795.6 L1304.5,797.5 L1306.0,799.5 L1307.5,801.4 L1309.0,803.4 L1310.5,805.3 L1312.0,807.3 L1313.5,809.3 L1315.0,811.4 L1316.5,813.4 L1318.0,815.5 L1319.5,817.7 L1321.0,819.8 L1322.5,822.0 L1324.0,824.3 L1325.5,826.5 L1327.0,828.8 L1328.5,831.2 L1330.0,833.5 L1331.5,835.9 L1333.0,838.3 L1334.5,840.7 L1336.0,843.2 L1337.5,845.7 L1339.0,848.2 L1340.5,850.8 L1342.0,853.4 L1343.5,856.0 L1345.0,858.7 L1346.5,861.4 L1348.0,864.1 L1349.5,866.9 L1351.0,869.6 L1352.5,872.4 L1354.0,875.3 L1355.5,878.1 L1357.0,881.0 L1358.5,883.9 L1360.0,886.9 L1361.5,889.9 L1363.0,892.9 L1364.5,895.9 L1366.0,898.9 L1367.5,902.0 L1369.0,905.2 L1370.5,908.3 L1372.0,911.5 L1373.5,914.6 L1375.0,917.9 L1376.5,921.1 L1378.0,924.4 L1379.5,927.6 L1381.0,930.9 L1382.5,934.3 L1384.0,937.6 L1385.5,941.0 L1387.0,944.4 L1388.5,947.9 L1390.0,951.3 L1391.5,954.8 L1393.0,958.3 L1394.5,961.8 L1396.0,965.1 L1397.5,968.2 L1399.0,970.8 L1400.0,972.7"/>
<path d="M193.0,1243.0 L194.5,1243.0 L196.0,1243.1 L197.5,1243.1 L199.0,1243.1 L200.5,1243.1 L202.0,1243.1 L203.5,1243.2 L205.0,1243.2 L206.5,1243.2 L208.0,1243.2 L209.5,1243.3 L211.0,1243.3 L212.5,1243.3 L214.0,1243.3 L215.5,1243.4 L217.0,1243.4 L218.5,1243.4 L220.0,1243.4 L221.5,1243.5 L223.0,1243.5 L224.5,1243.5 L226.0,1243.5 L227.5,1243.6 L229.0,1243.6 L230.5,1243.6 L232.0,1243.6 L233.5,1243.7 L235.0,1243.7 L236.5,1243.7 L238.0,1243.7 L239.5,1243.7 L241.0,1243.8 L242.5,1243.8 L244.0,1243.8 L245.5,1243.8 L247.0,1243.9 L248.5,1243.9 L250.0,1243.9 L251.5,1243.9 L253.0,1244.0 L254.5,1244.0 L256.0,1244.0 L257.5,1244.0 L259.0,1244.0 L260.5,1244.1 L262.0,1244.1 L263.5,1244.1 L265.0,1244.1 L266.5,1244.2 L268.0,1244.2 L269.5,1244.2 L271.0,1244.2 L272.5,1244.2 L274.0,1244.3 L275.5,1244.3 L277.0,1244.3 L278.5,1244.3 L280.0,1244.3 L281.5,1244.4 L283.0,1244.4 L284.5,1244.4 L286.0,1244.4 L287.5,1244.5 L289.0,1244.5 L290.5,1244.5 L292.0,1244.5 L293.5,1244.5 L295.0,1244.6 L296.5,1244.6 L298.0,1244.6 L299.5,1244.6 L301.0,1244.6 L302.5,1244.7 L304.0,1244.7 L305.5,1244.7 L307.0,1244.7 L308.5,1244.7 L310.0,1244.8 L311.5,1244.8 L313.0,1244.8 L314.5,1244.8 L316.0,1244.8 L317.5,1244.9 L319.0,1244.9 L320.5,1244.9 L322.0,1244.9 L323.5,1244.9 L325.0,1245.0 L326.5,1245.0 L328.0,1245.0 L329.5,1245.0 L331.0,1245.0 L332.5,1245.1 L334.0,1245.1 L335.5,1245.1 L337.0,1245.1 L338.5,1245.1 L340.0,1245.2 L341.5,1245.2 L343.0,1245.2 L344.5,1245.2 L346.0,1245.2 L347.5,1245.2 L349.0,1245.3 L350.5,1245.3 L352.0,1245.3 L353.5,1245.3 L355.0,1245.3 L356.5,1245.4 L358.0,1245.4 L359.5,1245.4 L361.0,1245.4 L362.5,1245.4 L364.0,1245.4 L365.5,1245.5 L367.0,1245.5 L368.5,1245.5 L370.0,1245.5 L371.5,1245.5 L373.0,1245.5 L374.5,1245.6 L376.0,1245.6 L377.5,1245.6 L379.0,1245.6 L380.5,1245.6 L382.0,1245.7 L383.5,1245.7 L385.0,1245.7 L386.5,1245.7 L388.0,1245.7 L389.5,1245.7 L391.0,1245.7 L392.5,1245.8 L394.0,1245.8 L395.5,1245.8 L397.0,1245.8 L398.5,1245.8 L400.0,1245.8 L401.5,1245.9 L403.0,1245.9 L404.5,1245.9 L406.0,1245.9 L407.5,1245.9 L409.0,1245.9 L410.5,1246.0 L412.0,1246.0 L413.5,1246.0 L415.0,1246.0 L416.5,1246.0 L418.0,1246.0 L419.5,1246.0 L421.0,1246.1 L422.5,1246.1 L424.0,1246.1 L425.5,1246.1 L427.0,1246.1 L428.5,1246.1 L430.0,1246.1 L431.5,1246.2 L433.0,1246.2 L434.5,1246.2 L436.0,1246.2 L437.5,1246.2 L439.0,1246.2 L440.5,1246.2 L442.0,1246.3 L443.5,1246.3 L445.0,1246.3 L446.5,1246.3 L448.0,1246.3 L449.5,1246.3 L451.0,1246.3 L452.5,1246.4 L454.0,1246.4 L455.5,1246.4 L457.0,1246.4 L458.5,1246.4 L460.0,1246.4 L461.5,1246.4 L463.0,1246.4 L464.5,1246.5 L466.0,1246.5 L467.5,1246.5 L469.0,1246.5 L470.5,1246.5 L472.0,1246.5 L473.5,1246.5 L475.0,1246.5 L476.5,1246.6 L478.0,1246.6 L479.5,1246.6 L481.0,1246.6 L482.5,1246.6 L484.0,1246.6 L485.5,1246.6 L487.0,1246.6 L488.5,1246.7 L490.0,1246.7 L491.5,1246.7 L493.0,1246.7 L494.5,1246.7 L496.0,1246.7 L497.5,1246.7 L499.0,1246.7 L500.5,1246.8 L502.0,1246.8 L503.5,1246.8 L505.0,1246.8 L506.5,1246.8 L508.0,1246.8 L509.5,1246.8 L511.0,1246.8 L512.5,1246.9 L514.0,1246.9 L515.5,1246.9 L517.0,1246.9 L518.5,1246.9 L520.0,1246.9 L521.5,1246.9 L523.0,1246.9 L524.5,1247.0 L526.0,1247.0 L527.5,1247.0 L529.0,1247.0 L530.5,1247.0 L532.0,1247.0 L533.5,1247.0 L535.0,1247.0 L536.5,1247.1 L538.0,1247.1 L539.5,1247.1 L541.0,1247.1 L542.5,1247.1 L544.0,1247.1 L545.5,1247.1 L547.0,1247.1 L548.5,1247.2 L550.0,1247.2 L551.5,1247.2 L553.0,1247.2 L554.5,1247.2 L556.0,1247.2 L557.5,1247.2 L559.0,1247.2 L560.5,1247.2 L562.0,1247.2 L563.5,1247.3 L565.0,1247.3 L566.5,1247.3 L568.0,1247.3 L569.5,1247.3 L571.0,1247.3 L572.5,1247.3 L574.0,1247.3 L575.5,1247.3 L577.0,1247.3 L578.5,1247.3 L580.0,1247.4 L581.5,1247.4 L583.0,1247.4 L584.5,1247.4 L586.0,1247.4 L587.5,1247.4 L589.0,1247.4 L590.5,1247.4 L592.0,1247.4 L593.5,1247.4 L595.0,1247.4 L596.5,1247.4 L598.0,1247.4 L599.5,1247.4 L601.0,1247.4 L602.5,1247.5 L604.0,1247.5 L605.5,1247.5 L607.0,1247.5 L608.5,1247.5 L610.0,1247.5 L611.5,1247.5 L613.0,1247.5 L614.5,1247.5 L616.0,1247.5 L617.5,1247.5 L619.0,1247.5 L620.5,1247.5 L622.0,1247.5 L623.5,1247.5 L625.0,1247.5 L626.5,1247.5 L628.0,1247.5 L629.5,1247.5 L631.0,1247.5 L632.5,1247.5 L634.0,1247.5 L635.5,1247.5 L637.0,1247.5 L638.5,1247.5 L640.0,1247.5 L641.5,1247.5 L643.0,1247.5 L644.5,1247.5 L646.0,1247.4 L647.5,1247.4 L649.0,1247.4 L650.5,1247.4 L652.0,1247.4 L653.5,1247.4 L655.0,1247.4 L656.5,1247.3 L658.0,1247.3 L659.5,1247.3 L661.0,1247.3 L662.5,1247.3 L664.0,1247.2 L665.5,1247.2 L667.0,1247.2 L668.5,1247.2 L670.0,1247.2 L671.5,1247.1 L673.0,1247.1 L674.5,1247.1 L676.0,1247.0 L677.5,1247.0 L679.0,1247.0 L680.5,1247.0 L682.0,1246.9 L683.5,1246.9 L685.0,1246.9 L686.5,1246.8 L688.0,1246.8 L689.5,1246.8 L691.0,1246.7 L692.5,1246.7 L694.0,1246.7 L695.5,1246.6 L697.0,1246.6 L698.5,1246.5 L700.0,1246.5 L701.5,1246.4 L703.0,1246.4 L704.5,1246.3 L706.0,1246.2 L707.5,1246.1 L709.0,1246.0 L710.5,1245.9 L712.0,1245.8 L713.5,1245.7 L715.0,1245.5 L716.5,1245.4 L718.0,1245.2 L719.5,1245.1 L721.0,1244.9 L722.5,1244.7 L724.0,1244.5 L725.5,1244.3 L727.0,1244.1 L728.5,1243.9 L730.0,1243.7 L731.5,1243.4 L733.0,1243.2 L734.5,1243.0 L736.0,1242.7 L737.5,1242.5 L739.0,1242.2 L740.5,1241.9 L742.0,1241.7 L743.5,1241.4 L745.0,1241.1 L746.5,1240.8 L748.0,1240.5 L749.5,1240.2 L751.0,1239.9 L752.5,1239.6 L754.0,1239.3 L755.5,1239.0 L757.0,1238.7 L758.5,1238.4 L760.0,1238.1 L761.5,1237.7 L763.0,1237.4 L764.5,1237.0 L766.0,1236.6 L767.5,1236.1 L769.0,1235.7 L770.5,1235.2 L772.0,1234.7 L773.5,1234.2 L775.0,1233.7 L776.5,1233.1 L778.0,1232.5 L779.5,1231.9 L781.0,1231.3 L782.5,1230.7 L784.0,1230.1 L785.5,1229.4 L787.0,1228.7 L788.5,1228.1 L790.0,1227.4 L791.5,1226.7 L793.0,1225.9 L794.5,1225.2 L796.0,1224.5 L797.5,1223.7 L799.0,1222.9 L800.5,1222.0 L802.0,1221.2 L803.5,1220.3 L805.0,1219.4 L806.5,1218.4 L808.0,1217.5 L809.5,1216.5 L811.0,1215.5 L812.5,1214.4 L814.0,1213.3 L815.5,1212.3 L817.0,1211.2 L818.5,1210.0 L820.0,1208.9 L821.5,1207.7 L823.0,1206.5 L824.5,1205.3 L826.0,1204.1 L827.5,1202.9 L829.0,1201.6 L830.5,1200.4 L832.0,1199.1 L833.5,1197.8 L835.0,1196.5 L836.5,1195.1 L838.0,1193.7 L839.5,1192.3 L841.0,1190.8 L842.5,1189.3 L844.0,1187.8 L845.5,1186.2 L847.0,1184.6 L848.5,1183.0 L850.0,1181.3 L851.5,1179.6 L853.0,1177.9 L854.5,1176.1 L856.0,1174.3 L857.5,1172.4 L859.0,1170.5 L860.5,1168.6 L862.0,1166.6 L863.5,1164.5 L865.0,1162.3 L866.5,1160.1 L868.0,1157.8 L869.5,1155.5 L871.0,1153.1 L872.5,1150.7 L874.0,1148.2 L875.5,1145.6 L877.0,1143.1 L878.5,1140.4 L880.0,1137.8 L881.5,1135.1 L883.0,1132.4 L884.5,1129.6 L886.0,1126.8 L887.5,1124.0 L889.0,1121.2 L890.5,1118.3 L892.0,1115.4 L893.5,1112.5 L895.0,1109.5 L896.5,1106.5 L898.0,1103.4 L899.5,1100.3 L901.0,1097.1 L902.5,1093.9 L904.0,1090.6 L905.5,1087.2 L907.0,1083.7 L908.5,1080.2 L910.0,1076.6 L911.5,1072.9 L913.0,1069.0 L914.5,1065.1 L916.0,1061.1 L917.5,1056.9 L919.0,1052.6 L920.5,1048.2 L922.0,1043.6 L923.5,1038.8 L925.0,1033.9 L926.5,1028.9 L928.0,1023.7 L929.5,1018.4 L931.0,1013.0 L932.5,1007.5 L934.0,1001.9 L935.5,996.3 L937.0,990.5 L938.5,984.7 L940.0,978.8 L941.5,972.9 L943.0,966.9 L944.5,960.9 L946.0,954.9 L947.5,948.9 L949.0,942.8 L950.5,936.6 L952.0,930.4 L953.5,924.1 L955.0,917.7 L956.5,911.2 L958.0,904.7 L959.5,898.0 L961.0,891.3 L962.5,884.5 L964.0,877.7 L965.5,870.8 L967.0,863.8 L968.5,856.8 L970.0,849.7 L971.5,842.6 L973.0,835.4 L974.5,828.2 L976.0,821.0 L977.5,813.8 L979.0,806.5 L980.5,799.2 L982.0,792.0 L983.5,784.7 L985.0,777.4 L986.5,770.2 L988.0,762.9 L989.5,755.6 L991.0,748.3 L992.5,741.0 L994.0,733.7 L995.5,726.3 L997.0,718.9 L998.5,711.5 L1000.0,704.0 L1001.5,696.5 L1003.0,689.0 L1004.5,681.4 L1006.0,673.9 L1007.5,666.3 L1009.0,658.7 L1010.5,651.0 L1012.0,643.4 L1013.5,635.7 L1015.0,628.0 L1016.5,620.3 L1018.0,612.5 L1019.5,604.7 L1021.0,596.9 L1022.5,589.0 L1024.0,581.1 L1025.5,573.2 L1027.0,565.2 L1028.5,557.2 L1030.0,549.2 L1031.5,541.2 L1033.0,533.1 L1034.5,525.1 L1036.0,517.1 L1037.5,509.2 L1039.0,501.7 L1040.5,494.4 L1042.0,487.5 L1043.5,480.9 L1045.0,474.6 L1046.5,468.5 L1048.0,462.6 L1049.5,456.8 L1051.0,451.1 L1052.5,445.4 L1054.0,439.7 L1055.5,434.0 L1057.0,428.3 L1058.5,422.6 L1060.0,417.0 L1061.5,411.3 L1063.0,405.7 L1064.5,400.2 L1066.0,394.8 L1067.5,389.5 L1069.0,384.3 L1070.5,379.2 L1072.0,374.2 L1073.5,369.3 L1075.0,364.4 L1076.5,359.7 L1078.0,355.0 L1079.5,350.4 L1081.0,345.9 L1082.5,341.5 L1084.0,337.3 L1085.5,333.1 L1087.0,329.0 L1088.5,325.1 L1090.0,321.2 L1091.5,317.5 L1093.0,313.8 L1094.5,310.2 L1096.0,306.8 L1097.5,303.4 L1099.0,300.3 L1100.5,297.3 L1102.0,294.5 L1103.5,291.8 L1105.0,289.2 L1106.5,286.8 L1108.0,284.6 L1109.5,282.4 L1111.0,280.4 L1112.5,278.5 L1114.0,276.7 L1115.5,275.1 L1117.0,273.5 L1118.5,272.1 L1120.0,270.8 L1121.5,269.6 L1123.0,268.5 L1124.5,267.5 L1126.0,266.8 L1127.5,266.1 L1129.0,265.5 L1130.5,265.0 L1132.0,264.6 L1133.5,264.3 L1135.0,264.2 L1136.5,264.1 L1138.0,264.1 L1139.5,264.3 L1141.0,264.6 L1142.5,265.0 L1144.0,265.5 L1145.5,266.1 L1147.0,266.7 L1148.5,267.5 L1150.0,268.4 L1151.5,269.4 L1153.0,270.6 L1154.5,271.8 L1156.0,273.2 L1157.5,274.6 L1159.0,276.2 L1160.5,277.8 L1162.0,279.5 L1163.5,281.2 L1165.0,283.1 L1166.5,285.0 L1168.0,287.0 L1169.5,289.1 L1171.0,291.1 L1172.5,293.3 L1174.0,295.4 L1175.5,297.6 L1177.0,299.9 L1178.5,302.2 L1180.0,304.5 L1181.5,306.9 L1183.0,309.4 L1184.5,311.8 L1186.0,314.2 L1187.5,316.6 L1189.0,318.9 L1190.5,321.2 L1192.0,323.5 L1193.5,325.8 L1195.0,328.1 L1196.5,330.3 L1198.0,332.5 L1199.5,334.6 L1201.0,336.7 L1202.5,338.7 L1204.0,340.6 L1205.5,342.4 L1207.0,344.1 L1208.5,345.8 L1210.0,347.5 L1211.5,349.1 L1213.0,350.7 L1214.5,352.2 L1216.0,353.7 L1217.5,355.1 L1219.0,356.4 L1220.5,357.7 L1222.0,358.9 L1223.5,360.1 L1225.0,361.1 L1226.5,362.2 L1228.0,363.2 L1229.5,364.2 L1231.0,365.1 L1232.5,366.0 L1234.0,366.7 L1235.5,367.4 L1237.0,367.9 L1238.5,368.2 L1240.0,368.4 L1241.5,368.4 L1243.0,368.3 L1244.5,368.1 L1246.0,367.8 L1247.5,367.5 L1249.0,367.0 L1250.5,366.6 L1252.0,366.0 L1253.5,365.3 L1255.0,364.5 L1256.5,363.6 L1258.0,362.4 L1259.5,361.0 L1261.0,359.5 L1262.5,357.9 L1264.0,356.2 L1265.5,354.4 L1267.0,352.6 L1268.5,350.8 L1270.0,348.9 L1271.5,346.9 L1273.0,344.9 L1274.5,342.8 L1276.0,340.7 L1277.5,338.5 L1279.0,336.3 L1280.5,334.0 L1282.0,331.8 L1283.5,329.5 L1285.0,327.3 L1286.5,325.1 L1288.0,322.8 L1289.5,320.5 L1291.0,318.3 L1292.5,316.0 L1294.0,313.7 L1295.5,311.6 L1297.0,309.5 L1298.5,307.6 L1300.0,305.8 L1301.5,304.2 L1303.0,302.8 L1304.5,301.4 L1306.0,300.2 L1307.5,299.1 L1309.0,298.1 L1310.5,297.1 L1312.0,296.3 L1313.5,295.5 L1315.0,294.7 L1316.5,294.1 L1318.0,293.6 L1319.5,293.3 L1321.0,293.2 L1322.5,293.2 L1324.0,293.5 L1325.5,293.9 L1327.0,294.6 L1328.5,295.4 L1330.0,296.5 L1331.5,297.8 L1333.0,299.4 L1334.5,301.3 L1336.0,303.4 L1337.5,305.6 L1339.0,308.0 L1340.5,310.6 L1342.0,313.3 L1343.5,316.2 L1345.0,319.2 L1346.5,322.6 L1348.0,326.1 L1349.5,329.9 L1351.0,334.1 L1352.5,338.5 L1354.0,343.2 L1355.5,348.0 L1357.0,353.1 L1358.5,358.3 L1360.0,363.5 L1361.5,368.9 L1363.0,374.3 L1364.5,379.9 L1366.0,385.7 L1367.5,391.8 L1369.0,398.2 L1370.5,404.8 L1372.0,411.8 L1373.5,419.1 L1375.0,426.6 L1376.5,434.2 L1378.0,441.9 L1379.5,449.6 L1381.0,457.4 L1382.5,465.2 L1384.0,473.0 L1385.5,480.9 L1387.0,488.8 L1388.5,496.7 L1390.0,504.6 L1391.5,512.6 L1393.0,520.7 L1394.5,528.7 L1396.0,536.7 L1397.5,544.7 L1399.0,552.4 L1400.5,559.4 L1402.0,565.3 L1403.0,569.7"/>
</g>
<g stroke="#000" stroke-width="6" fill="none" shape-rendering="crispEdges">
<rect x="190" y="40" width="1210" height="1209.5"/>
<path d="M250.5,40 v22 M250.5,1249.5 v-22.5"/>
<path d="M311.0,40 v41 M311.0,1249.5 v-41.5"/>
<path d="M371.5,40 v22 M371.5,1249.5 v-22.5"/>
<path d="M432.0,40 v22 M432.0,1249.5 v-22.5"/>
<path d="M492.5,40 v22 M492.5,1249.5 v-22.5"/>
<path d="M553.0,40 v22 M553.0,1249.5 v-22.5"/>
<path d="M613.5,40 v41 M613.5,1249.5 v-41.5"/>
<path d="M674.0,40 v22 M674.0,1249.5 v-22.5"/>
<path d="M734.5,40 v22 M734.5,1249.5 v-22.5"/>
<path d="M795.0,40 v22 M795.0,1249.5 v-22.5"/>
<path d="M855.5,40 v22 M855.5,1249.5 v-22.5"/>
<path d="M916.0,40 v41 M916.0,1249.5 v-41.5"/>
<path d="M976.5,40 v22 M976.5,1249.5 v-22.5"/>
<path d="M1037.0,40 v22 M1037.0,1249.5 v-22.5"/>
<path d="M1097.5,40 v22 M1097.5,1249.5 v-22.5"/>
<path d="M1158.0,40 v22 M1158.0,1249.5 v-22.5"/>
<path d="M1218.5,40 v41 M1218.5,1249.5 v-41.5"/>
<path d="M1279.0,40 v22 M1279.0,1249.5 v-22.5"/>
<path d="M1339.5,40 v22 M1339.5,1249.5 v-22.5"/>
<path d="M190,120.6 h22 M1400,120.6 h-22"/>
<path d="M190,201.3 h22 M1400,201.3 h-22"/>
<path d="M190,281.9 h22 M1400,281.9 h-22"/>
<path d="M190,362.5 h22 M1400,362.5 h-22"/>
<path d="M190,443.2 h41 M1400,443.2 h-41"/>
<path d="M190,523.8 h22 M1400,523.8 h-22"/>
<path d="M190,604.4 h22 M1400,604.4 h-22"/>
<path d="M190,685.1 h22 M1400,685.1 h-22"/>
<path d="M190,765.7 h22 M1400,765.7 h-22"/>
<path d="M190,846.3 h41 M1400,846.3 h-41"/>
<path d="M190,927.0 h22 M1400,927.0 h-22"/>
<path d="M190,1007.6 h22 M1400,1007.6 h-22"/>
<path d="M190,1088.2 h22 M1400,1088.2 h-22"/>
<path d="M190,1168.9 h22 M1400,1168.9 h-22"/>
</g>
<path d="M495,198.5 H1110 V210.5 H495 Z" fill="#000"/>
<path d="M443,204.5 L540,169.5 L505,204.5 L541,239.5 Z" fill="#000"/>
<text x="808.2" y="172" font-size="76.4" text-anchor="middle" font-family="Liberation Sans, sans-serif" fill="#000">Reaction Time</text>
<text x="795.3" y="1401" font-size="76.3" text-anchor="middle" font-family="Liberation Sans, sans-serif" fill="#000">Elution Volume (mL)</text>
<text transform="translate(82,650) rotate(-90)" font-size="76.8" text-anchor="middle" font-family="Liberation Sans, sans-serif" fill="#000">RI Intensity (a.u.)</text>
<text x="311.0" y="1319.5" font-size="63.5" text-anchor="middle" font-family="Liberation Sans, sans-serif" fill="#000">9</text>
<text x="613.5" y="1319.5" font-size="63.5" text-anchor="middle" font-family="Liberation Sans, sans-serif" fill="#000">9.5</text>
<text x="916.0" y="1319.5" font-size="63.5" text-anchor="middle" font-family="Liberation Sans, sans-serif" fill="#000">10</text>
<text x="1218.5" y="1319.5" font-size="63.5" text-anchor="middle" font-family="Liberation Sans, sans-serif" fill="#000">10.5</text>
</svg>
</body></html>
